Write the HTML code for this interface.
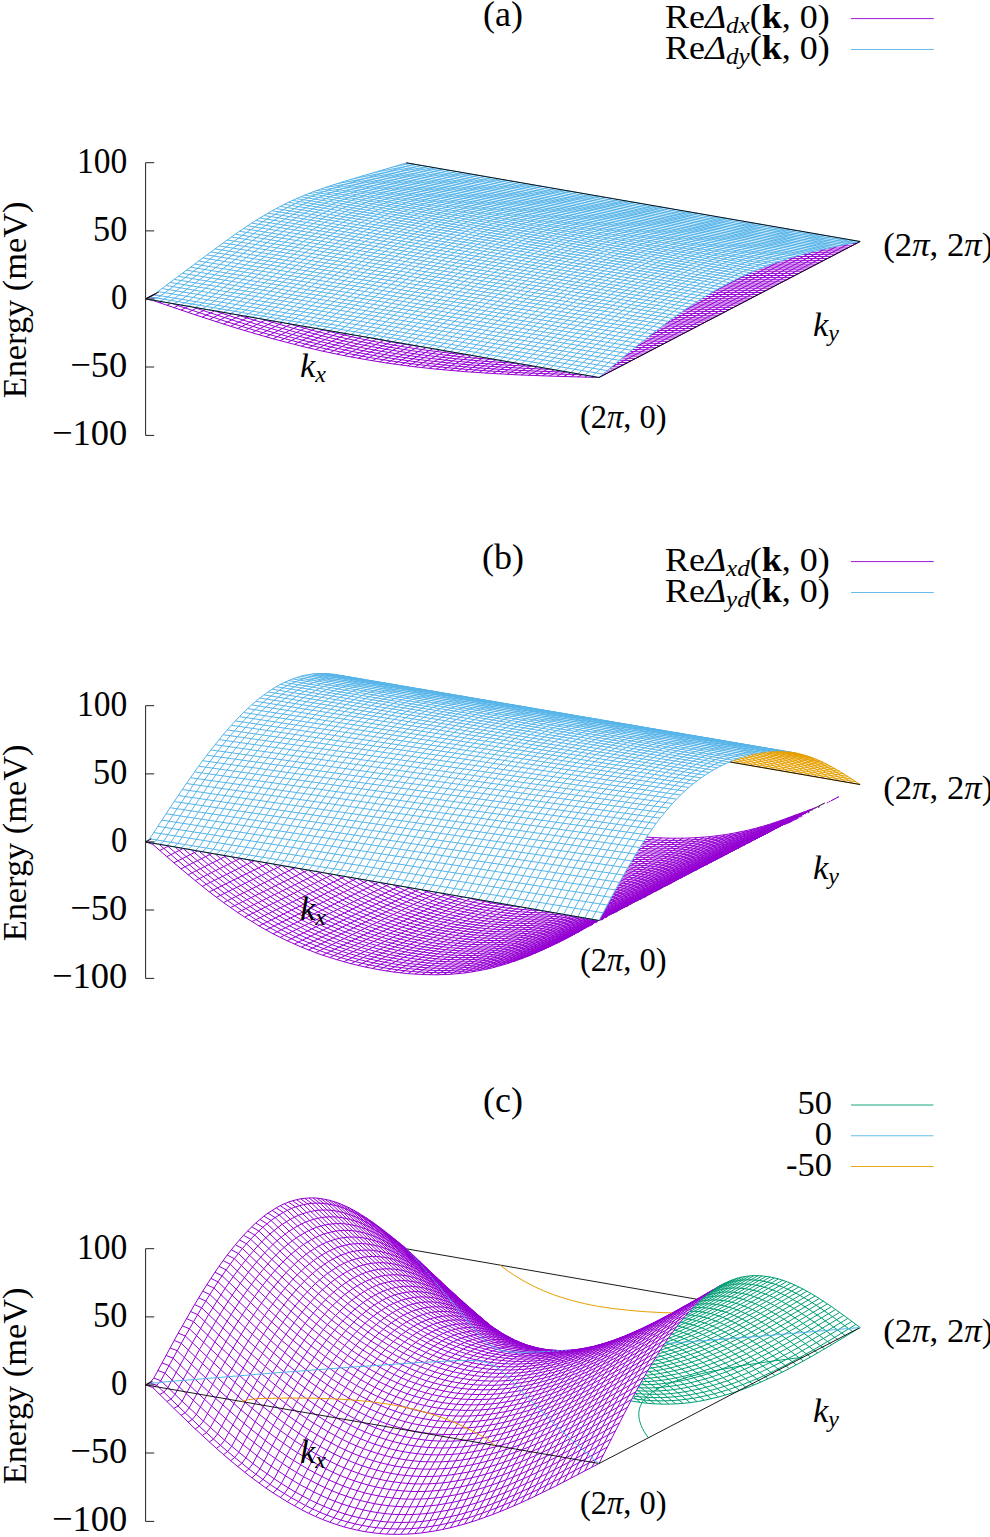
<!DOCTYPE html>
<html><head><meta charset="utf-8"><style>
html,body{margin:0;padding:0;background:#fff;}
svg{display:block;font-family:"Liberation Serif",serif;}
</style></head><body>
<svg width="990" height="1537" viewBox="0 0 990 1537">
<rect width="990" height="1537" fill="#fff"/>
<path fill="none" stroke="#9400d3" stroke-width="1.0" d="M145.6 298.9l7.1 1.5 42.5 14.4 35.4 11.5 21.3 6.4 21.2 6.1 28.4 7.4 21.2 5 21.3 4.4 21.2 3.9 21.3 3.5 28.3 3.8 21.3 2.3 28.3 2.5 28.3 1.9 28.4 1.5 35.4 1.3 42.5 1.2M149.7 296.8l5.6 1.2M156.2 298.2l.3 0M172.1 303.5l.2 .1M172.9 303.8l26.4 8.9 28.3 9.3 28.3 8.7 21.3 6 28.3 7.4 21.3 5 21.2 4.4 21.3 4 21.2 3.4 21.3 2.9 21.3 2.5 28.3 2.7 28.3 2 28.4 1.6 28.3 1.1 36.9 1.1M601.9 375.3l1.2 .1M153.8 294.6l2.5 .6M156.9 295.3l.5 .2M158.3 295.6l.3 .1M193.4 307.3l31.2 10.3 21.3 6.7 21.2 6.4 21.3 5.9 21.2 5.4 21.3 5 21.2 4.5 21.3 3.9 21.2 3.4 21.3 3 21.2 2.5 21.3 2 21.2 1.7 28.4 1.8 28.3 1.3 31 1.1M604.5 373.2l2.7 0M215.1 311.1l20.7 6.7 21.2 6.6 21.3 6.2 21.2 5.8 21.3 5.3 21.2 4.8 14.2 2.9 21.3 4 14.1 2.3 21.3 3.1 21.2 2.6 21.3 2.2 21.2 1.8 21.3 1.5 28.3 1.5 25.4 1M606.8 371l4.4 .1M237 314.8l.3 .1M237.9 315.1l16.1 5 21.3 6.4 21.2 5.9 14.2 3.7 21.2 5.2 14.2 3.1 14.2 3 21.2 3.9 14.2 2.3 21.3 3.1 14.1 1.8 21.3 2.4 21.2 1.9 21.3 1.6 40.7 2.2M609.7 368.9l5.6 .1M261.5 319.1l32 9.3 28.4 7.4 21.2 5 14.2 3.1 28.3 5.3 28.4 4.5 14.1 1.9 21.3 2.5 14.1 1.4 21.3 1.8 32.2 2.1M612 366.7l7.4 .2M288.5 323.8l23.3 6.4 28.3 7 28.3 6 21.3 4 21.2 3.4 28.4 3.8 28.3 3.1 27.8 2.2M496 359.8l.8 0M614.6 364.5l8.9 .3M320.4 329.3l.5 .1M321.5 329.6l15.6 3.8 21.3 4.8 14.1 3 21.3 3.9 14.1 2.4 21.3 3.1 21.2 2.6 18.9 2M470.2 355.3l.6 0M617.2 362.4l10.4 .2M371.2 338l.3 .1M372.3 338.3l.6 .1M373.8 338.5l.2 .1M374.9 338.8l.8 .1M376.3 339.1l21.6 4 22.4 3.6M420.9 346.8l.9 .1M422.6 347l.6 .1M424.4 347.3l.3 0M425.9 347.5l.3 .1M619.8 360.2l11.8 .3M622.4 358.1l13.3 .3M625 355.9l14.8 .3M627.3 353.8l16.6 .3M630.2 351.6l17.8 .4M632.8 349.5l19.2 .4M635.5 347.4l20.6 .4M638.1 345.2l22.1 .4M640.7 343.1l23.6 .4M643.3 340.9l25.1 .5M645.9 338.8l26.5 .4M648.8 336.7l27.7 .4M651.4 334.6l29.2 .4M654.3 332.4l30.4 .5M656.9 330.3l31.9 .5M659.8 328.2l33 .4M662.4 326l34.5 .5M665.3 323.9l35.7 .5M668.2 321.8l36.9 .4M671.1 319.7l38.1 .4M674 317.6l39.2 .4M676.9 315.4l40.4 .5M679.8 313.3l41.6 .5M683.3 311.2l42.2 .4M685.9 309.1l43.7 .4M689.1 307l44.5 .4M692.3 304.9l45.4 .3M695.4 302.8l46.4 .3M698.9 300.7l47 .3M701.8 298.6l48.1 .3M705.6 296.5l48.4 .3M708.8 294.4l49.3 .2M712.3 292.3l49.9 .2M716.1 290.2l50.2 .2M719.6 288.1l50.7 .1M723.7 286l50.7 .1M727.4 283.9l51.1 .1M731.2 281.8l51.4 .1M735.6 279.7l51.1 .1M739.7 277.6l51 0M744.3 275.5l50.5 0M749 273.4l49.9 0M753.4 271.3l49.6-.1M758.9 269.2l48.2-.1M763.9 267.1l47.2-.1M768.9 265l46.3-.1M775 262.9l44.3-.1M781.2 260.8l42.2-.2M787.9 258.7l39.6-.2M794.6 256.6l36.9-.2M801.7 254.5l33.9-.3M810.2 252.4l29.5-.3M819.3 250.2l24.5-.2M828.1 248.1l19.8-.2M838.7 245.9l13.2-.1M849.5 243.7l6.5-.1M406.7 162.9l.8 .3M859.8 241.5l.3 0M145.6 298.9l9.4-4.9M406.2 163.2l.5-.3M152.7 300.4l.5-.3M153.7 299.9l.3-.2M159.8 302.8l2-1M166.9 305.3l3.8-2M173.9 307.7l5.6-2.9M181 310.1l7.4-3.8M188.1 312.5l8.7-4.5M195.2 314.8l10.4-5.3M202.3 317.2l12-6.2M209.4 319.5l13.5-6.9M216.4 321.8l15.1-7.7M223.5 324.1l16.6-8.5M230.6 326.3l18.4-9.4M237.7 328.5l19.6-10.1M244.8 330.6l21.1-10.8M251.9 332.7l22.4-11.4M259 334.8l23.4-12M266 336.8l24.5-12.4M273.1 338.8l26-13.2M280.2 340.7l26.8-13.6M287.3 342.6l27.8-14.1M294.4 344.4l28.8-14.6M301.5 346.2l29.3-14.9M308.5 347.9l30.4-15.4M315.6 349.6l31.1-15.8M322.7 351.2l31.4-15.9M329.8 352.7l31.9-16.1M336.9 354.2l32.4-16.4M344 355.6l32.6-16.5M351 357l32.9-16.6M358.1 358.3l33.2-16.7M365.2 359.5l33.2-16.7M372.3 360.7l33.1-16.7M379.4 361.9l32.9-16.6M386.5 363l32.6-16.5M393.6 364l32.6-16.4M400.6 365l32.2-16.2M407.7 365.9l31.4-15.8M414.8 366.8l31.1-15.7M421.9 367.6l30.3-15.3M429 368.4l29.8-15M436.1 369.1l29-14.6M443.1 369.8l28.3-14.3M450.2 370.4l27.6-13.8M457.3 371l26.5-13.3M464.4 371.6l25.2-12.7M471.5 372.1l24.5-12.3M478.6 372.6l23.4-11.8M485.6 373.1l22.2-11.2M492.7 373.5l21.2-10.7M499.8 373.9l19.9-10.1M506.9 374.3l18.6-9.5M514 374.6l17.3-8.8M521.1 375l16-8.2M528.2 375.3l14.5-7.5M535.2 375.5l13.3-6.7M542.3 375.8l11.8-6M549.4 376l10.2-5.2M710 293.6l41.9-21.5M556.5 376.3l8.7-4.5M683.2 311.1l96.7-49.7M563.6 376.5l7.1-3.7M664.3 324.6l133.4-68.8M570.7 376.7l5.6-2.9M649.5 336l162.9-84.1M577.7 376.9l4.1-2.1M636.4 346.6l188.9-97.8M584.8 377.1l2.8-1.4M623.6 357l213.9-111M591.9 377.3l1.5-.8M611.5 367.1l237.2-123.3M599 377.5l261.1-136"/>
<path fill="none" stroke="#56b4e9" stroke-width="1.0" d="M145.6 298.9l453.4 78.6M149.7 296.8l453.4 77.3M153.8 294.6l453.4 76M157.8 291.5l453.4 75.7M161.9 288.5l453.4 75.2M166 285.5l453.4 74.8M170.1 282.4l453.4 74.5M174.2 279.4l453.4 74.1M178.2 276.3l453.4 73.9M182.3 273.3l453.4 73.6M186.4 270.2l453.4 73.3M190.5 267.2l453.4 73.1M194.6 264.1l453.4 72.9M198.6 261l453.4 72.8M202.7 258l453.4 72.7M206.8 254.9l453.4 72.6M210.9 251.9l453.4 72.5M215 248.9l453.4 72.5M219 245.9l453.4 72.5M223.1 242.9l453.4 72.6M227.2 240l453.4 72.6M231.3 237l453.4 72.8M235.4 234.2l453.4 72.8M239.4 231.3l453.4 73M243.5 228.6l453.4 73M247.6 225.8l453.4 73.2M251.7 223.1l453.4 73.4M255.8 220.5l453.4 73.5M259.8 218l453.4 73.6M263.9 215.5l453.4 73.7M268 213.1l453.4 73.8M272.1 210.8l453.4 73.9M276.2 208.6l453.4 74M280.2 206.4l453.4 74.1M284.3 204.3l453.4 74.1M288.4 202.3l453.4 74.2M292.5 200.4l453.4 74.2M296.5 198.6l453.4 74.1M300.6 196.8l453.4 74.2M304.7 195.1l453.4 74.2M308.8 193.4l453.4 74.2M312.9 191.9l453.4 74.1M316.9 190.4l453.4 74.1M321 188.9l453.4 74.1M325.1 187.5l453.4 74.1M329.2 186.1l453.4 74.1M333.3 184.8l453.4 74.1M337.3 183.5l453.4 74.2M341.4 182.2l453.4 74.2M345.5 181l453.4 74.3M349.6 179.7l453.4 74.5M353.7 178.5l453.4 74.6M357.7 177.3l453.4 74.7M361.8 176.1l453.4 74.9M365.9 174.9l453.4 75.1M370 173.7l453.4 75.4M374.1 172.5l453.4 75.7M378.1 171.3l453.4 76M382.2 170.2l453.4 76.2M386.3 169l453.4 76.6M390.4 167.7l453.4 77M394.5 166.5l453.4 77.4M398.5 165.3l453.4 77.8M402.6 164.1l453.4 78.2M406.7 162.9l453.4 78.6M145.6 298.9l8.2-4.3 61.2-45.7 12.2-8.9 12.2-8.7 12.3-8.2 8.1-5.1 12.3-7.2 8.1-4.4 8.2-4.1 12.2-5.5 12.3-4.9 12.2-4.4 20.4-6.5 61.2-18.1M152.7 300.1l8.1-4.3 61.2-45.8 12.3-8.9 12.2-8.6 12.3-8.2 8.1-5.2 12.3-7.1 8.1-4.4 8.2-4.1 12.2-5.6 12.3-4.9 12.2-4.4 12.2-4 12.3-3.7 57.1-16.8M159.8 301.4l8.1-4.4 61.2-45.8 12.3-9 12.2-8.6 12.2-8.2 8.2-5.1 12.2-7.2 8.2-4.4 8.2-4.1 12.2-5.5 12.2-4.9 12.3-4.4 12.2-4 12.3-3.7 57.1-16.7M166.9 302.6l8.1-4.5 61.2-45.8 12.2-8.9 12.3-8.6 12.2-8.2 8.2-5.2 12.2-7.1 8.2-4.4 8.1-4.1 12.3-5.5 12.2-5 12.3-4.3 12.2-4 12.2-3.8 57.2-16.6M173.9 303.8l8.2-4.5 61.2-45.9 12.2-8.9 12.3-8.6 12.2-8.2 8.2-5.1 12.2-7.2 8.2-4.4 8.1-4 12.3-5.6 12.2-4.9 12.2-4.4 12.3-4 12.2-3.7 57.1-16.6M181 305l8.2-4.5 57.1-42.9 16.3-12 12.3-8.6 12.2-8.1 8.2-5.2 12.2-7.1 8.2-4.4 8.1-4.1 12.2-5.5 12.3-4.9 12.2-4.4 12.3-4 12.2-3.7 57.1-16.6M188.1 306.3l8.2-4.6 57.1-43 16.3-11.9 12.2-8.6 12.3-8.2 8.1-5.1 12.3-7.2 8.1-4.3 8.2-4.1 12.2-5.6 12.3-4.9 12.2-4.4 12.3-4 12.2-3.7 57.1-16.4M195.2 307.5l8.2-4.6 57.1-43.1 16.3-11.9 12.2-8.6 12.3-8.1 8.1-5.2 12.3-7.1 8.1-4.4 8.2-4.1 12.2-5.5 12.3-4.9 12.2-4.4 12.2-4 12.3-3.7 57.1-16.4M202.3 308.7l8.1-4.6 57.1-43.1 24.5-17.7 12.3-8.3 12.2-7.8 12.2-7.1 8.2-4.4 8.2-4.1 12.2-5.5 12.2-5 12.3-4.4 12.2-3.9 12.3-3.8 57.1-16.3M209.4 310l8.1-4.7 53.1-40.1 16.3-12.1 12.2-8.7 12.3-8.3 12.2-7.8 12.2-7.1 8.2-4.4 8.1-4 12.3-5.6 12.2-4.9 12.3-4.4 12.2-4 12.2-3.7 57.2-16.2M216.4 311.2l8.2-4.7 53-40.2 16.4-12 12.2-8.8 12.2-8.2 12.3-7.8 12.2-7.1 8.2-4.4 8.1-4.1 12.3-5.5 12.2-4.9 12.3-4.4 12.2-4 12.2-3.7 57.1-16.2M223.5 312.4l8.2-4.8 53-40.2 16.3-12 12.3-8.7 12.2-8.3 12.3-7.8 12.2-7.1 8.2-4.4 8.1-4 12.3-5.6 12.2-4.9 12.2-4.4 12.3-4 16.3-4.9 53-14.9M230.6 313.6l8.2-4.8 53-40.2 16.3-12.1 12.3-8.7 12.2-8.3 12.2-7.7 12.3-7.1 8.1-4.4 8.2-4.1 12.2-5.5 12.3-4.9 12.2-4.4 12.3-4 16.3-4.9 53-14.9M237.7 314.9l8.2-4.9 53-40.3 16.3-12 12.2-8.7 12.3-8.3 12.2-7.8 12.3-7.1 8.1-4.3 8.2-4.1 12.2-5.6 12.3-4.9 12.2-4.4 12.2-4 16.4-4.8 53-14.8M244.8 316.1l8.1-4.9 53.1-40.4 16.3-12 12.2-8.7 12.3-8.3 12.2-7.7 12.3-7.1 8.1-4.4 8.2-4.1 12.2-5.5 12.2-4.9 12.3-4.4 12.2-4 16.3-4.9 53.1-14.7M251.9 317.3l8.1-4.9 53.1-40.4 16.3-12.1 12.2-8.7 12.3-8.2 12.2-7.8 12.2-7.1 8.2-4.3 8.2-4.1 12.2-5.5 12.2-5 12.3-4.4 12.2-3.9 16.3-4.9 53.1-14.7M259 318.5l8.1-4.9 53-40.5 16.4-12 12.2-8.7 12.2-8.3 12.3-7.7 12.2-7.1 8.2-4.4 12.2-6 12.3-5.3 12.2-4.7 12.2-4.3 12.3-3.8 16.3-4.8 48.9-13.5M266 319.8l8.2-5 53-40.6 16.3-12 12.3-8.7 12.2-8.2 12.3-7.8 12.2-7.1 8.2-4.3 12.2-6 12.2-5.3 12.3-4.8 12.2-4.2 12.3-3.9 16.3-4.7 48.9-13.4M273.1 321l8.2-5 53-40.6 16.3-12.1 12.3-8.7 12.2-8.2 12.3-7.7 12.2-7.1 8.1-4.4 12.3-5.9 12.2-5.4 12.3-4.7 12.2-4.2 12.2-3.9 16.4-4.8 48.9-13.3M280.2 322.2l8.2-5.1 53-40.6 16.3-12 12.3-8.7 12.2-8.3 12.2-7.7 12.3-7 8.1-4.4 12.3-6 12.2-5.3 12.3-4.7 12.2-4.3 12.2-3.8 16.3-4.8 49-13.3M287.3 323.5l8.1-5.2 32.7-25.2 20.4-15.5 16.3-12 12.2-8.7 12.3-8.2 12.2-7.7 12.3-7.1 8.1-4.3 12.3-6 12.2-5.3 12.2-4.8 12.3-4.2 12.2-3.9 16.3-4.7 49-13.2M294.4 324.7l8.1-5.2 49-37.7 16.3-12.1 12.2-8.8 12.3-8.4 12.2-7.9 12.3-7.2 12.2-6.7 12.2-6 12.3-5.3 12.2-4.7 12.3-4.3 12.2-3.8 16.3-4.8 49-13.1M301.5 325.9l8.1-5.2 49-37.7 16.3-12.2 12.2-8.8 12.3-8.3 12.2-7.9 12.2-7.3 12.3-6.6 12.2-6 12.3-5.3 12.2-4.8 12.2-4.2 12.3-3.9 16.3-4.7 49-13.1M308.5 327.1l8.2-5.2 49-37.8 16.3-12.1 12.2-8.8 12.3-8.4 12.2-7.9 12.2-7.2 12.3-6.7 12.2-5.9 12.2-5.4 12.3-4.7 12.2-4.3 12.3-3.8 16.3-4.7 48.9-13.1M315.6 328.4l8.2-5.3 48.9-37.9 16.4-12.1 12.2-8.8 12.2-8.4 12.3-7.8 12.2-7.3 12.3-6.6 12.2-6 12.2-5.3 12.3-4.7 12.2-4.3 12.2-3.8 16.4-4.8 48.9-12.9M322.7 329.6l8.2-5.3 28.5-22.3 20.4-15.6 16.3-12.2 12.3-8.7 12.2-8.4 12.3-7.9 12.2-7.2 12.2-6.7 12.3-5.9 12.2-5.3 12.3-4.8 12.2-4.2 12.2-3.9 16.4-4.7 48.9-12.9M329.8 330.8l8.2-5.3 28.5-22.3 20.4-15.7 16.3-12.1 12.3-8.8 12.2-8.4 12.2-7.8 12.3-7.3 12.2-6.6 12.3-6 12.2-5.3 12.2-4.7 12.3-4.3 12.2-3.8 16.3-4.7 49-12.9M336.9 332.1l8.1-5.4 44.9-34.9 16.3-12.3 16.4-11.8 12.2-8.3 12.2-7.9 12.3-7.2 12.2-6.6 12.2-6 12.3-5.3 12.2-4.8 12.3-4.2 12.2-3.9 16.3-4.7 49-12.7M344 333.3l8.1-5.5 44.9-34.9 16.3-12.3 16.3-11.7 12.3-8.4 12.2-7.8 12.3-7.3 12.2-6.6 12.2-5.9 12.3-5.4 12.2-4.7 12.2-4.3 12.3-3.8 16.3-4.7 20.4-5.4 28.6-7.3M351 334.5l8.2-5.5 44.9-35 16.3-12.2 16.3-11.8 12.3-8.3 12.2-7.9 12.2-7.2 12.3-6.6 12.2-6 12.3-5.3 12.2-4.8 12.2-4.2 12.3-3.8 16.3-4.7 20.4-5.4 28.5-7.3M358.1 335.7l8.2-5.5 44.9-35 16.3-12.3 16.3-11.8 12.2-8.3 12.3-7.8 12.2-7.3 12.3-6.6 12.2-5.9 12.2-5.4 12.3-4.7 12.2-4.2 12.3-3.9 16.3-4.7 20.4-5.3 28.5-7.3M365.2 337l8.2-5.6 32.6-25.7 20.4-15.6 12.2-9.1 12.3-8.7 12.2-8.4 12.3-7.8 12.2-7.2 12.2-6.6 12.3-6 12.2-5.3 12.3-4.7 12.2-4.3 12.2-3.8 16.4-4.7 20.4-5.4 28.5-7.1M372.3 338.2l8.2-5.6 28.5-22.5 24.5-18.9 12.2-9 12.3-8.8 12.2-8.3 12.3-7.8 12.2-7.3 12.2-6.6 12.3-5.9 12.2-5.3 12.2-4.8 12.3-4.2 12.2-3.9 16.3-4.6 20.4-5.4 28.6-7.1M379.4 339.4l8.1-5.6 28.6-22.6 20.4-15.7 12.2-9.2 12.3-8.9 16.3-11.2 12.2-7.8 12.3-7.2 12.2-6.6 12.3-6 12.2-5.3 12.2-4.7 12.3-4.3 12.2-3.8 16.3-4.7 20.4-5.3 28.6-7.1M386.5 340.7l8.1-5.7 28.6-22.6 20.4-15.8 12.2-9.2 12.3-8.8 12.2-8.5 12.2-8 12.3-7.4 12.2-6.8 12.3-6.2 12.2-5.5 12.2-4.9 16.4-5.8 16.3-5.1 16.3-4.5 44.9-11.2M393.6 341.9l8.1-5.7 28.6-22.7 20.4-15.8 12.2-9.1 12.2-8.9 12.3-8.5 12.2-8 12.3-7.4 12.2-6.8 12.2-6.1 12.3-5.5 12.2-5 16.3-5.8 16.4-5 16.3-4.5 16.3-4.2 28.6-7M400.6 343.1l8.2-5.8 28.6-22.6 20.4-15.8 12.2-9.2 12.2-8.9 12.3-8.4 12.2-8 12.2-7.4 12.3-6.8 12.2-6.2 12.3-5.5 12.2-4.9 16.3-5.8 16.3-5 16.4-4.5 20.4-5.2 24.4-6M407.7 344.3l8.2-5.8 24.5-19.5 20.4-15.9 16.3-12.3 12.2-8.8 12.3-8.5 12.2-8 12.2-7.4 12.3-6.8 12.2-6.1 12.3-5.5 12.2-5 16.3-5.7 16.3-5.1 16.3-4.5 20.4-5.2 24.5-5.9M414.8 345.6l8.2-5.9 24.4-19.5 20.4-15.9 16.4-12.3 12.2-8.9 12.2-8.5 12.3-7.9 12.2-7.4 12.3-6.8 12.2-6.1 12.2-5.6 12.3-4.9 16.3-5.8 16.3-5 16.3-4.5 20.4-5.2 24.5-5.8M421.9 346.8l8.1-5.9 24.5-19.6 20.4-15.9 16.3-12.3 12.3-8.9 12.2-8.4 12.3-8 12.2-7.4 12.2-6.7 12.3-6.2 12.2-5.5 12.3-4.9 16.3-5.8 16.3-5 16.3-4.5 20.4-5.2 24.5-5.8M429 348l8.1-5.9 24.5-19.6 20.4-16 12.2-9.3 12.3-8.9 16.3-11.4 12.2-7.9 12.3-7.4 12.2-6.8 12.3-6.1 12.2-5.6 12.2-4.9 16.4-5.8 16.3-5 16.3-4.5 20.4-5.1 24.5-5.8M436.1 349.3l8.1-6 24.5-19.7 20.4-15.9 12.2-9.3 12.3-9 16.3-11.3 12.2-8 12.3-7.4 12.2-6.7 12.2-6.2 12.3-5.5 12.2-4.9 16.3-5.8 16.4-5 16.3-4.5 20.4-5.1 24.5-5.7M443.1 350.5l8.2-6 24.5-19.7 16.3-12.8 16.3-12.5 12.3-9 16.3-11.3 12.2-7.9 12.3-7.4 12.2-6.8 12.2-6.1 12.3-5.5 12.2-5 16.3-5.7 16.3-5.1 16.4-4.4 20.4-5.1 24.4-5.7M450.2 351.7l8.2-6 24.5-19.7 16.3-12.9 16.3-12.5 12.2-8.9 16.4-11.4 12.2-7.9 12.2-7.4 12.3-6.7 12.2-6.2 12.3-5.5 12.2-4.9 16.3-5.8 16.3-5 16.4-4.5 20.3-5 24.5-5.7M457.3 352.9l8.2-6.1 24.5-19.7 16.3-12.9 16.3-12.4 12.2-9 16.3-11.3 12.3-7.9 12.2-7.4 12.3-6.8 12.2-6.1 12.2-5.5 12.3-5 16.3-5.7 16.3-5 16.3-4.5 20.4-5 24.5-5.7M464.4 354.2l8.2-6.2 24.4-19.7 16.4-12.9 16.3-12.5 12.2-9 16.3-11.3 12.3-7.9 12.2-7.4 12.2-6.7 12.3-6.1 12.2-5.6 12.3-4.9 16.3-5.8 16.3-5 16.3-4.4 20.4-5 24.5-5.6M471.5 355.4l8.1-6.2 24.5-19.8 16.3-12.9 16.4-12.5 12.2-8.9 16.3-11.3 12.3-8 12.2-7.3 12.2-6.8 12.3-6.1 12.2-5.5 12.2-4.9 16.4-5.8 16.3-5 16.3-4.4 20.4-5 24.5-5.6M478.6 356.6l8.1-6.2 24.5-19.8 16.3-12.9 16.3-12.5 12.3-9 16.3-11.3 12.2-7.9 12.3-7.4 12.2-6.7 12.3-6.1 12.2-5.5 12.2-5 16.4-5.8 16.3-5 16.3-4.4 20.4-4.9 24.5-5.6M485.6 357.8l8.2-6.2 24.5-19.9 16.3-12.9 16.3-12.5 12.3-9 16.3-11.3 12.2-7.9 12.3-7.3 12.2-6.7 12.2-6.2 12.3-5.5 12.2-4.9 16.3-5.8 16.4-5 16.3-4.4 20.4-4.9 24.5-5.6M492.7 359.1l8.2-6.3 24.5-19.9 16.3-13 16.3-12.5 12.2-8.9 16.4-11.3 12.2-7.9 12.2-7.3 12.3-6.8 12.2-6.1 12.3-5.5 12.2-5 16.3-5.7 16.3-5 16.4-4.4 20.4-4.9 24.4-5.5M499.8 360.3l8.2-6.3 24.5-20 16.3-12.9 16.3-12.5 12.2-9 16.4-11.3 12.2-7.9 12.2-7.3 12.3-6.7 12.2-6.1 16.3-7.3 12.3-4.7 16.3-5.6 16.3-4.8 16.3-4.3 16.3-3.9 24.5-5.4M506.9 361.5l8.2-6.3 24.4-20 16.4-13 16.3-12.5 12.2-9 16.3-11.2 12.3-7.9 12.2-7.3 12.3-6.8 12.2-6.1 16.3-7.2 12.2-4.8 16.4-5.5 16.3-4.9 16.3-4.2 16.3-3.9 24.5-5.4M514 362.8l8.1-6.4 24.5-20.1 16.3-12.9 16.4-12.6 12.2-8.9 16.3-11.3 12.3-7.9 12.2-7.3 12.2-6.7 12.3-6.1 16.3-7.3 12.2-4.7 16.4-5.6 16.3-4.8 16.3-4.2 16.3-3.9 24.5-5.3M521.1 364l8.1-6.5 24.5-20 16.3-13 16.3-12.5 12.3-9 16.3-11.3 12.2-7.8 12.3-7.3 12.2-6.8 12.3-6.1 16.3-7.2 12.2-4.8 16.3-5.5 16.4-4.8 16.3-4.3 16.3-3.8 24.5-5.3M528.2 365.2l44.8-36.4 16.4-12.6 16.3-12.1 16.3-11.2 12.2-7.9 12.3-7.3 12.2-6.7 12.2-6.1 16.4-7.2 12.2-4.8 16.3-5.6 16.3-4.8 16.4-4.2 16.3-3.8 24.5-5.3M535.2 366.4l44.9-36.4 16.3-12.7 12.3-9.1 16.3-11.5 12.2-8 16.4-9.8 12.2-6.7 12.2-6.2 16.3-7.2 12.3-4.7 16.3-5.6 16.3-4.8 16.3-4.2 16.4-3.8 24.4-5.3M542.3 367.7l44.9-36.6 16.3-12.6 12.3-9.1 16.3-11.5 12.2-8 16.3-9.9 12.3-6.7 12.2-6.1 16.3-7.2 12.3-4.8 16.3-5.5 16.3-4.8 16.3-4.2 16.3-3.8 24.5-5.2M549.4 368.9l28.6-23.5 16.3-13.1 16.3-12.7 12.2-9.1 16.4-11.5 12.2-8 16.3-9.8 12.3-6.7 12.2-6.1 16.3-7.3 12.3-4.7 16.3-5.6 16.3-4.8 16.3-4.2 16.3-3.7 24.5-5.2M556.5 370.1l28.6-23.5 16.3-13.2 16.3-12.7 12.2-9.1 16.3-11.4 12.3-8.1 16.3-9.8 12.2-6.7 12.3-6.1 16.3-7.2 12.2-4.8 16.4-5.5 16.3-4.8 16.3-4.2 16.3-3.7 24.5-5.2M563.6 371.4l28.5-23.6 16.4-13.2 16.3-12.7 12.2-9.1 16.3-11.5 12.3-8 16.3-9.8 12.2-6.7 12.3-6.1 16.3-7.2 12.2-4.8 16.3-5.6 16.4-4.8 16.3-4.1 16.3-3.7 24.5-5.1M570.7 372.6l28.5-23.7 16.3-13.2 16.4-12.7 12.2-9.1 16.3-11.5 12.3-8 16.3-9.8 12.2-6.7 12.3-6.1 16.3-7.2 12.2-4.7 16.3-5.6 16.3-4.8 16.4-4.1 16.3-3.7 24.5-5.1M577.7 373.8l24.5-20.4 16.3-13.3 16.4-12.8 16.3-12.3 16.3-11.4 12.2-8 16.4-9.8 12.2-6.7 12.2-6.1 16.4-7.2 12.2-4.8 16.3-5.6 16.3-4.7 16.3-4.2 16.4-3.6 24.4-5.1M584.8 375l24.5-20.4 16.3-13.3 16.3-12.9 16.4-12.2 16.3-11.5 12.2-8 16.3-9.8 12.3-6.7 12.2-6 16.3-7.3 12.3-4.7 16.3-5.6 16.3-4.8 16.3-4.1 16.4-3.7 24.4-5M591.9 376.3l24.5-20.5 16.3-13.4 16.3-12.9 16.4-12.2 16.3-11.4 12.2-8 16.3-9.8 12.3-6.7 12.2-6.1 16.3-7.2 12.3-4.8 16.3-5.5 16.3-4.8 16.3-4.1 16.3-3.7 24.5-4.9M599 377.5l24.5-20.6 16.3-13.4 16.3-12.8 16.3-12.3 16.4-11.4 12.2-8 16.3-9.8 12.3-6.6 12.2-6.1 16.3-7.2 12.2-4.8 16.4-5.6 16.3-4.7 16.3-4.2 16.3-3.6 24.5-4.9"/>
<path fill="none" stroke="#000000" stroke-width="0.9" d="M145.6 298.9l453.4 78.6M599 377.5l261.1-136M406.7 162.9l453.4 78.6M145.6 298.9l9.4-4.9M406.2 163.2l.5-.3"/>
<path d="M145.6 298.9l13.1 -6.8" stroke="#000" stroke-width="0.9"/><path d="M145.6 162.7V435.4M145.6 162.7h8.6M145.6 230.9h8.6M145.6 298.9h8.6M145.6 367.0h8.6M145.6 435.4h8.6" stroke="#222" stroke-width="1" fill="none"/>
<text x="127.3" y="172.7" font-size="36.5" text-anchor="end" textLength="50.3" lengthAdjust="spacingAndGlyphs">100</text>
<text x="127.3" y="240.9" font-size="36.5" text-anchor="end" textLength="34.2" lengthAdjust="spacingAndGlyphs">50</text>
<text x="127.3" y="308.9" font-size="36.5" text-anchor="end" textLength="16.3" lengthAdjust="spacingAndGlyphs">0</text>
<text x="127.3" y="377.0" font-size="36.5" text-anchor="end" >&#8722;50</text>
<text x="127.3" y="445.4" font-size="36.5" text-anchor="end" >&#8722;100</text>
<text transform="translate(25.8 299.9) rotate(-90)" font-size="34.5" text-anchor="middle" textLength="196.8" lengthAdjust="spacingAndGlyphs">Energy (meV)</text>
<text x="503" y="25.5" font-size="36" text-anchor="middle">(a)</text>
<text x="300" y="377.2" font-size="34.5"><tspan font-style="italic">k</tspan><tspan font-style="italic" font-size="24" dy="4.7">x</tspan></text>
<text x="813" y="335.8" font-size="34.5"><tspan font-style="italic">k</tspan><tspan font-style="italic" font-size="24" dy="4.7">y</tspan></text>
<text x="580" y="427.5" font-size="34.5" textLength="86.7" lengthAdjust="spacingAndGlyphs">(2<tspan font-style="italic">&#960;</tspan>, 0)</text>
<text x="883.3" y="256.4" font-size="34.5" textLength="110" lengthAdjust="spacingAndGlyphs">(2<tspan font-style="italic">&#960;</tspan>, 2<tspan font-style="italic">&#960;</tspan>)</text>
<text x="665" y="27.8" font-size="34.5" textLength="164.7" lengthAdjust="spacingAndGlyphs">Re<tspan font-style="italic">&#916;</tspan><tspan font-style="italic" font-size="24" dy="5">dx</tspan><tspan dy="-5">(</tspan><tspan font-weight="bold">k</tspan>, 0)</text>
<path d="M851 18.6H933.8" stroke="#9400d3" stroke-width="0.9"/>
<text x="665" y="58.6" font-size="34.5" textLength="164.7" lengthAdjust="spacingAndGlyphs">Re<tspan font-style="italic">&#916;</tspan><tspan font-style="italic" font-size="24" dy="5">dy</tspan><tspan dy="-5">(</tspan><tspan font-weight="bold">k</tspan>, 0)</text>
<path d="M851 49.5H933.8" stroke="#56b4e9" stroke-width="0.9"/><path fill="none" stroke="#000000" stroke-width="0.9" d="M599 920.5l225.9-117.6"/>
<path fill="none" stroke="#9400d3" stroke-width="1.0" d="M145.6 841.9l7.1 2.4 21.2 18.5 21.3 17.8 14.2 11.3 14.1 10.7 14.2 9.9 7.1 4.6 14.2 8.8 7 4 7.1 3.9 14.2 7 14.2 6.3 14.1 5.6 7.1 2.5 14.2 4.5 14.1 4 14.2 3.3 14.2 2.8 14.2 2.2 14.1 1.6 14.2 .9 14.2 .3 14.1-.5 14.2-1.3 7.1-1 14.1-2.6 7.1-1.6 14.2-4 14.2-4.9 7.1-2.7 14.1-6.1 14.2-6.7 13.9-7.2M159.2 844.4l18.8 16.3 14.2 12.1 21.2 17.1 14.2 10.7 14.2 9.9 14.1 9.1 7.1 4.3 7.1 4 14.2 7.5 14.2 6.7 14.1 5.9 14.2 5.2 14.2 4.5 14.1 3.9 14.2 3.3 14.2 2.8 14.1 2.2 14.2 1.6 14.2 .9 14.1 .3 14.2-.5 14.2-1.3 7.1-1 14.1-2.6 7.1-1.7 14.2-4 14.2-4.8 7-2.8 14.2-6 14.2-6.8 13.9-7.2M167.3 845.8l29 24.9 14.1 11.6 14.2 11 14.2 10.3 7.1 4.9 14.1 9.2 7.1 4.2 7.1 4.1 14.2 7.4 14.1 6.7 14.2 5.9 7.1 2.7 14.2 4.8 14.1 4.2 14.2 3.6 14.2 3 14.1 2.5 14.2 1.8 14.2 1.3 14.1 .6 14.2-.1 14.2-.9 7.1-.8 14.1-2.2 14.2-3.1 7.1-1.8 14.1-4.5 7.1-2.5 14.2-5.7 14.2-6.4 10.2-5M568.3 937.2l4.2-2.2M573.6 934.5l2.3-1.2M577.5 932.4l1.1-.5M175.5 847.4l17.8 15.4 14.1 11.8 14.2 11.3 7.1 5.4 14.2 10.4 14.1 9.5 14.2 8.7 7.1 4.1 7.1 3.8 14.1 7.1 14.2 6.2 14.2 5.6 7 2.5 14.2 4.4 14.2 3.9 14.2 3.3 14.1 2.7 14.2 2.2 14.2 1.5 7 .6 14.2 .6 14.2-.2 14.2-.9 7-.8 14.2-2.2 14.2-3 7.1-1.9 14.1-4.4 7.1-2.6 14.2-5.7 14.1-6.4 11.1-5.4M573.7 934.4l2.1-1.1M578.4 931.9l.8-.4M579.8 931.3l.2-.2M582.1 930l.5-.2M183.4 848.7l13.9 12 14.2 11.9 14.2 11.3 14.1 10.7 14.2 10 7.1 4.6 14.2 8.7 7.1 4.1 7 3.8 14.2 7.1 14.2 6.2 14.1 5.5 7.1 2.5 14.2 4.5 14.2 3.9 14.1 3.3 14.2 2.7 14.2 2.1 14.1 1.5 7.1 .6 14.2 .5 14.2-.1 14.1-1 7.1-.7 14.2-2.2 14.2-3.1 7-1.9 14.2-4.4 7.1-2.5 14.2-5.7 14.1-6.4 10.3-5.1M576.5 932.9l.2-.2M578.3 932l.8-.4M583 929.5l.3-.1M191.5 850.1l17 14.6 14.2 11.6 14.1 11.1 7.1 5.2 14.2 10 7.1 4.6 14.1 8.8 7.1 4 7.1 3.8 14.2 7.1 14.2 6.2 14.1 5.5 7.1 2.5 14.2 4.5 14.1 3.8 14.2 3.3 14.2 2.7 14.2 2.1 14.1 1.5 7.1 .5 14.2 .6 14.1-.2 14.2-.9 7.1-.8 14.2-2.2 7-1.4 7.1-1.7 14.2-4 14.2-4.8 14.1-5.7 14.2-6.4 9.2-4.5M589.7 926l.3-.1M199.3 851.4l13.3 11.3 14.2 11.6 14.1 11.1 7.1 5.2 14.2 10 7.1 4.7 14.1 8.7 7.1 4 7.1 3.9 14.2 7 14.1 6.2 14.2 5.5 7.1 2.5 14.2 4.5 14.1 3.8 14.2 3.2 14.2 2.7 14.1 2.1 14.2 1.5 7.1 .5 14.2 .5 14.1-.1 14.2-1 7.1-.8 14.1-2.2 7.1-1.4 7.1-1.7 14.2-3.9 7.1-2.4 14.1-5.2 14.2-6.1 14.7-6.9M592.3 924.7l1-.6M207.4 852.8l16.3 13.8 14.2 11.3 14.2 10.8 7.1 5 14.1 9.6 7.1 4.5 7.1 4.2 14.2 7.9 7.1 3.6 14.1 6.6 7.1 3 14.2 5.5 7.1 2.5 14.1 4.4 14.2 3.8 14.2 3.3 14.1 2.6 14.2 2.1 14.2 1.5 7.1 .5 14.1 .5 14.2-.2 14.2-.9 7.1-.8 14.1-2.2 7.1-1.5 7.1-1.6 14.2-4 7-2.3 14.2-5.3 14.2-6 12.8-6.1M596.9 922.3l.2-.2M215.3 854l12.5 10.6 14.2 11.3 14.2 10.8 7 5 14.2 9.6 7.1 4.5 7.1 4.2 14.2 7.9 7 3.6 14.2 6.6 7.1 3 14.2 5.5 7 2.5 14.2 4.4 14.2 3.8 14.2 3.2 14.1 2.6 14.2 2.1 14.2 1.5 7 .5 14.2 .5 14.2-.2 14.2-1 7-.8 14.2-2.2 7.1-1.4 7.1-1.7 14.1-4 7.1-2.3 14.2-5.3 14.2-6 11.5-5.4M597.3 922l.2-.1M602 919.6l1-.6M223.7 855.7l15.3 12.6 14.2 11.1 14.1 10.4 7.1 4.8 14.2 9.2 7.1 4.2 7.1 4.1 14.1 7.4 7.1 3.4 14.2 6.2 7.1 2.9 14.1 5 7.1 2.3 14.2 4.1 14.1 3.5 14.2 2.9 14.2 2.3 14.2 1.8 14.1 1.1 7.1 .4 14.2 .1 7.1-.2 14.1-1 7.1-.7 14.2-2.3 7.1-1.4 7.1-1.7 14.1-3.9 7.1-2.4 14.2-5.2 14.1-6.1 10-4.6M606.3 917.3l.8-.4M231.9 857.1l11.2 9.2 14.1 11.1 14.2 10.4 7.1 4.9 14.2 9.1 7 4.3 7.1 4 14.2 7.4 7.1 3.4 14.2 6.2 7 2.8 14.2 5.1 7.1 2.3 14.2 4.1 14.1 3.4 14.2 2.9 14.2 2.3 14.1 1.8 14.2 1.1 7.1 .3 14.2 .2 7-.2 14.2-1 7.1-.8 14.2-2.2 7-1.5 7.1-1.6 14.2-4 7.1-2.3 14.2-5.3 14.1-6 8.2-3.8M607.3 916.8l.2-.2M239.8 858.4l14.4 11.6 7.1 5.4 14.2 10.4 7.1 4.9 14.1 9.1 7.1 4.3 7.1 4 14.2 7.4 7.1 3.4 14.1 6.2 7.1 2.8 14.2 5.1 7.1 2.3 14.1 4 14.2 3.5 14.2 2.9 14.1 2.3 14.2 1.7 14.2 1.1 7.1 .3 14.1 .1 7.1-.2 14.2-1 7.1-.8 14.1-2.2 7.1-1.4 7.1-1.7 14.2-4 7.1-2.3 14.1-5.3 7.1-2.9 13.9-6.2M248.3 859.9l17.1 13.5 14.2 10.4 7.1 4.9 14.1 9.2 7.1 4.2 7.1 4 14.2 7.5 7 3.4 14.2 6.1 7.1 2.8 14.2 5.1 7.1 2.3 14.1 4 14.2 3.4 14.2 2.9 14.1 2.3 14.2 1.7 14.2 1.1 7 .3 14.2 .1 7.1-.2 14.2-1 7.1-.8 14.1-2.3 7.1-1.4 7.1-1.7 14.2-4 7-2.3 14.2-5.2 7.1-2.9 12.5-5.6M617.3 911.5l.2-.1M256.7 861.4l12.8 10 7.1 5.3 14.1 10 7.1 4.7 14.2 8.7 7.1 4.1 7.1 3.8 14.1 7 7.1 3.2 14.2 5.7 7.1 2.6 14.1 4.7 7.1 2.1 14.2 3.7 7.1 1.7 14.1 2.8 14.2 2.3 14.2 1.7 14.1 1 7.1 .4 14.2 .1 7.1-.3 14.1-1 7.1-.8 14.2-2.2 7.1-1.5 7.1-1.7 14.1-3.9 7.1-2.4 14.2-5.2 7.1-2.9 10.1-4.5M599.4 920.1l2.5-1.1M621.1 909.5l.2-.1M265.1 862.9l15.5 11.8 14.2 10 7.1 4.7 14.2 8.7 7.1 4.1 7 3.8 14.2 7 7.1 3.2 14.2 5.7 7 2.6 14.2 4.7 7.1 2.1 14.2 3.7 7 1.6 14.2 2.8 14.2 2.3 7.1 .9 14.1 1.4 7.1 .4 14.2 .5 7.1-.1 14.1-.6 7.1-.6 14.2-1.9 7.1-1.2 14.1-3.1 7.1-1.9 7.1-2.1 14.2-4.8 7.1-2.8 12.5-5.3M599.7 919.7l6.6-3M627.3 906.3l.2-.2M273.6 864.4l11.1 8.4 7.1 5.1 14.2 9.5 7.1 4.5 14.1 8.3 7.1 3.8 14.2 7 7.1 3.2 14.1 5.7 7.1 2.6 14.2 4.7 7.1 2.1 14.1 3.6 7.1 1.7 14.2 2.8 14.2 2.2 7 .9 14.2 1.4 7.1 .4 14.2 .4 7.1 0 14.1-.7 7.1-.6 14.2-1.8 7.1-1.3 14.1-3.1 7.1-1.9 14.2-4.4 14.2-5.2 7.6-3.2M600.3 919.1l9.2-4.2M631.1 904.3l.2-.2M282.2 865.8l13.7 10.1 7.1 4.9 14.1 9.1 7.1 4.3 14.2 7.8 7.1 3.6 14.1 6.6 14.2 5.7 7.1 2.6 14.2 4.7 7.1 2 14.1 3.7 7.1 1.6 14.2 2.8 14.1 2.2 7.1 .9 14.2 1.3 7.1 .5 14.1 .4 7.1-.1 14.2-.6 7.1-.7 14.2-1.8 7-1.2 14.2-3.2 7.1-1.9 14.2-4.4 7-2.5 10.1-3.9M600.5 918.6l13.4-6M637.2 901l.8-.4M640.1 899.5l.3-.1M642.5 898.3l.3-.2M291 867.4l16.1 11.4 14.1 9.2 7.1 4.2 14.2 7.8 7.1 3.6 14.1 6.6 14.2 5.7 7.1 2.6 14.1 4.6 7.1 2.1 14.2 3.6 7.1 1.6 14.2 2.8 14.1 2.2 7.1 .9 14.2 1.3 7.1 .5 14.1 .3 7.1 0 14.2-.7 14.2-1.4 7-1.1 14.2-2.7 7.1-1.6 14.2-4 7-2.3 12.3-4.5M600.5 918.1l11.2-4.8 7.9-3.6M640.5 899.3l.8-.4M645 897l1.6-.9M299.8 868.8l11.3 8 7.1 4.7 14.2 8.7 14.2 7.9 7 3.5 14.2 6.6 14.2 5.7 7.1 2.6 14.1 4.6 7.1 2.1 14.2 3.6 7.1 1.6 14.1 2.7 14.2 2.2 7.1 .9 14.2 1.3 7 .4 14.2 .4 7.1-.1 14.2-.6 14.1-1.5 7.1-1 14.2-2.7 14.2-3.6 7-2.1 13.9-4.7M600.8 917.5l15-6.3 10.2-4.8M647.2 895.8l.3-.2M649.6 894.5l.8-.4M308.6 870.3l13.7 9.2 7.1 4.5 14.1 8.3 14.2 7.4 7.1 3.3 14.2 6.1 14.1 5.4 7.1 2.4 14.2 4.2 14.2 3.6 7 1.6 14.2 2.8 14.2 2.1 7.1 .9 14.1 1.3 7.1 .4 14.2 .4 7.1-.1 14.1-.7 14.2-1.5 7.1-1 14.2-2.7 14.1-3.6 7.1-2.1 8.5-2.8M601 916.8l11.8-4.7 16-7.2M650.5 894l.8-.4M318.1 872l15.4 10 14.1 8.3 14.2 7.4 7.1 3.3 14.1 6.1 14.2 5.4 7.1 2.3 14.2 4.3 14.1 3.6 7.1 1.6 14.2 2.7 14.2 2.1 7 .9 14.2 1.3 14.2 .6 7.1 .1 14.1-.3 14.2-1.1 7.1-.8 14.2-2.3 14.1-3.2 7.1-1.8 9.9-3.1M601.6 915.9l15.2-6 14.7-6.5M652 893.3l.3-.2M657.2 890.5l.8-.4M327.5 873.6l10 6.4 7.1 4.3 14.2 7.8 14.2 6.9 14.1 6.1 14.2 5.3 7.1 2.4 14.2 4.3 14.1 3.6 7.1 1.5 14.2 2.7 14.1 2.1 7.1 .9 14.2 1.3 14.2 .6 7 .1 14.2-.4 14.2-1.1 14.2-1.8 14.1-2.8 7.1-1.6 11.3-3.2M602.1 915l11.7-4.3 7.1-2.9 17.9-8.1M655.8 891.3l.3-.2M660.5 888.8l.8-.4M337.3 875.3l11.4 7 7.1 4 14.2 7.4 14.1 6.5 14.2 5.7 14.2 4.9 14.1 4.2 14.2 3.6 7.1 1.6 14.2 2.6 14.1 2.2 7.1 .8 14.2 1.2 14.1 .7 14.2 0 14.2-.8 14.2-1.5 14.1-2.3 7.1-1.4 11.6-2.9M602.6 914.1l8.2-2.9 14.2-5.6 7.1-3.1 11.5-5.3M662 888l.3-.1M347.5 877.1l12.4 7.2 14.1 7.4 14.2 6.5 14.2 5.7 14.1 4.9 14.2 4.2 14.2 3.6 7.1 1.5 14.1 2.7 14.2 2.1 7.1 .8 14.2 1.2 14.1 .7 14.2-.1 14.2-.7 14.1-1.5 14.2-2.3 12.2-2.7M603 913.1l11.9-4.1 7.1-2.7 14.2-5.9 12.3-5.7M665.8 886l.3-.1M670 883.8l1.3-.7M357.6 878.8l13.4 7.3 14.2 7 14.2 6 14.1 5.3 14.2 4.6 14.2 3.8 14.1 3.2 14.2 2.7 14.2 2.1 14.2 1.5 14.1 .9 14.2 .3 14.2-.4 14.1-1.1 14.2-1.9 11.9-2.3M604 911.9l7.9-2.5 14.2-5.3 14.1-5.9 12.1-5.6M654.9 891.4l.8-.4M672.5 882.5l.3-.1M368.8 880.8l13.4 6.9 7.1 3.4 14.1 6 14.2 5.3 14.2 4.5 14.2 3.9 14.1 3.2 14.2 2.6 14.2 2.1 14.1 1.5 14.2 .9 14.2 .2 14.1-.4 7.1-.4 14.2-1.5 12.1-2M604.4 910.8l11.6-3.6 14.1-5.2 14.2-6 14.7-6.8M675.8 880.8l.3-.2M380.5 882.8l12.9 6.3 14.1 6 7.1 2.8 14.2 4.8 7.1 2.2 14.1 3.8 14.2 3.2 14.2 2.6 14.1 2.1 14.2 1.5 14.2 .9 7.1 .2 14.1-.1 7.1-.3 14.2-1.1 10.6-1.4M605 909.6l15.1-4.6 14.1-5.2 14.2-5.9 13.4-6.2M682.5 877.3l.3-.2M393.2 885.1l11.3 5.1 7.1 2.9 7.1 2.8 14.2 4.8 7 2.2 14.2 3.8 14.2 3.2 14.2 2.6 14.1 2 7.1 .8 14.2 1.2 7.1 .3 14.1 .3 7.1-.2 14.2-.7 7.9-.8M605.7 908.4l11.4-3.3 7-2.3 14.2-5.2 14.2-5.9 15.2-7.1M685.8 875.5l.8-.4M406.4 887.3l9.3 3.8 7.1 2.8 7.1 2.5 14.1 4.4 14.2 3.8 7.1 1.7 14.1 2.9 7.1 1.2 14.2 2 14.2 1.5 7.1 .5 14.1 .5 7.1 0 7.1-.1 10.9-.6M606.4 907.1l14.7-4.1 14.2-4.8 7.1-2.7 14.2-5.9 17.3-8.1M422.2 890.1l11.7 4.3 7.1 2.3 14.2 4.1 14.2 3.5 14.1 2.8 7.1 1.2 14.2 2 14.1 1.4 14.2 .9 7.1 .2 12.4-.1M607.1 905.7l11-2.8 7.1-2.1 14.2-4.8 7.1-2.7 14.1-5.9 18.1-8.5M440.8 893.3l11.4 3.5 14.2 3.8 7 1.6 14.2 2.8 14.2 2.3 14.1 1.7 14.2 1.1 10.9 .5M607.8 904.4l14.4-3.7 7.1-2.1 14.2-4.8 7-2.7 14.2-5.9 16.8-7.8M685.2 875.6l.8-.4M697.3 869.5l.2-.1M468.4 898l.3 .1M469.6 898.3l7.9 1.9 14.2 2.8 14.2 2.2 12.1 1.5M518.8 906.8l.6 0M608.7 902.9l10.5-2.5 7.1-1.8 7.1-2.1 14.1-4.8 7.1-2.7 14.2-5.9 17.1-8M686.9 874.6l2.4-1.1M705.8 865.1l1.3-.7M710.3 862.7l.7-.4M609.4 901.4l13.9-3.1 7.1-1.9 7.1-2.1 14.1-4.8 7.1-2.7 14.2-5.9 18.6-8.7M702 867l.3-.2M707.2 864.3l.8-.4M712.5 861.5l.8-.4M610.2 899.8l10.1-2 14.1-3.6 7.1-2.1 14.2-4.8 7.1-2.7 14.2-5.9 7-3.1 13.9-6.7M716.3 859.5l.8-.4M611 898.2l13.4-2.6 7-1.7 7.1-1.9 14.2-4.4 7.1-2.5 14.2-5.5 14.1-6.2 13.1-6.3M702.8 866.4l.8-.4M706.7 864.4l.3-.1M712 861.7l.3-.1M717.2 859l.8-.4M721.7 856.7l.3-.1M722.5 856.3l.8-.4M611.9 896.6l9.5-1.7 14.1-3.1 7.1-1.9 14.2-4.4 7.1-2.5 14.1-5.6 14.2-6.2 11.8-5.6M704.5 865.4l4.5-2.2M719.7 857.7l.3-.1M725 855l.3-.1M726.8 854l.6-.2M613 894.9l12.4-2.1 14.2-3.2 7.1-1.9 14.2-4.4 7-2.5 14.2-5.5 14.2-6.2 15.5-7.4M713.9 860.6l1.8-.9M716.7 859.2l.3-.1M727.5 853.7l1.1-.6M613.9 893.2l8.5-1.3 14.2-2.8 14.2-3.6 14.1-4.4 7.1-2.5 14.2-5.5 14.2-6.2 13.6-6.5M717.2 858.9l2.3-1.2M724.5 855.2l.3-.2M727.4 853.7l.2-.1M729.7 852.5l.3-.2M732.6 851l1.3-.7M735 849.8l.3-.2M615 891.4l11.5-1.7 14.2-2.8 14.1-3.6 14.2-4.3 14.2-5.2 14.2-5.9 14.1-6.4 10.3-5M726 854.4l.7-.4M727.3 853.7l.2-.1M732.5 851l1.3-.7M737.5 848.4l2.1-1.1M615.5 889.7l8-1 14.2-2.4 14.1-3.2 14.2-4 14.2-4.8 14.1-5.5 14.2-6.2 19.2-9.2M728.7 852.9l.8-.4M732.7 850.9l1.3-.7M734.5 850l.3-.2M737.9 848.2l2.1-1.1M743.2 845.5l.5-.3M616.7 887.8l10.9-1.3 14.2-2.4 14.1-3.2 14.2-4 14.2-4.8 14.1-5.5 14.2-6.2 18.9-9M732 851.1l1.8-.9M736.5 848.9l.8-.4M737.8 848.2l1.8-.9M742.2 845.9l.3-.1M743 845.5l2.9-1.5M747.5 843.2l.3-.1M617.8 886l13.9-1.6 14.1-2.5 14.2-3.2 14.2-4 14.1-4.7 14.2-5.6 14.2-6.1 17.6-8.4M734.8 849.6l4.7-2.3M743.2 845.4l2.6-1.3M748.4 842.7l3.2-1.6M753.7 840l4.2-2.2M618.6 884.1l10.1-1 7-.9 14.2-2.4 14.2-3.2 14.1-4 14.2-4.8 14.2-5.5 14.2-6.2 15.7-7.5M737.5 848.1l4.5-2.2M743.1 845.4l2.8-1.5M747 843.4l.3-.1M748.3 842.7l3.4-1.7M752.2 840.7l.3-.1M754.1 839.8l3.7-2M759.3 837l3.7-1.9M619.8 882.2l12.9-1.2 14.2-2.1 14.2-2.8 14.1-3.6 14.2-4.4 14.2-5.2 14.2-5.8 20.9-9.7M740.3 846.6l4-1.9M746.9 843.4l4.7-2.4M754.2 839.6l3.7-1.8M759.5 836.9l4.2-2.1M764.7 834.2l2.4-1.2M620.9 880.2l15.9-1.4 14.2-2.1 14.2-2.8 14.1-3.6 14.2-4.4 14.2-5.1 14.1-5.9 19.7-9M743.1 845.1l3.9-1.9M750.2 841.6l1.8-.9M754.1 839.6l3.7-1.8M759.4 837l4.2-2.2M765.1 834l4.7-2.5M770.4 831.3l.8-.5M622 878.2l11.8-.8 7.1-.8 14.2-2 14.1-2.9 14.2-3.6 14.2-4.4 7.1-2.4 14.1-5.5 14.2-6.2 21.2-10.1M757.9 837.6l5.8-2.9M764.7 834.1l5.6-2.8M770.8 831l4.4-2.3M623.1 876.3l14.8-1.1 14.2-1.7 7-1.1 14.2-2.8 14.2-3.6 14.2-4.4 7-2.5 14.2-5.5 7.1-3 14.2-6.4 17.8-8.7M765.2 833.9l4.7-2.4M770.9 830.9l4.7-2.4M776.2 828.2l10.5-5.4M624.3 874.2l10.6-.5 7.1-.6 14.1-1.7 14.2-2.5 7.1-1.5 14.2-3.6 14.1-4.4 7.1-2.5 14.2-5.5 7.1-2.9 14.1-6.4 19.7-9.7M769.5 831.6l.3-.1M770.8 830.9l4.7-2.4M776.1 828.3l14.6-7.7M625.4 872.2l13.6-.7 7.1-.6 14.1-1.7 14.2-2.4 7.1-1.6 14.1-3.6 14.2-4.4 7.1-2.4 14.2-5.5 14.1-6.1 21.5-10.3M768.3 832.1l5.8-2.9M776.2 828.1l5.2-2.7M782 825.2l12.8-6.7M626.5 870.1l16.5-.7 14.2-1.4 7.1-1 14.2-2.4 7.1-1.5 14.1-3.7 14.2-4.3 7.1-2.5 14.1-5.5 14.2-6.1 19.7-9.3M771.6 830.4l2.9-1.5M776.1 828.1l4.2-2.1M781.8 825.2l11.6-6M793.9 819l5-2.6M627.6 868l12.4-.3 7.1-.5 14.2-1.4 14.2-2.1 7.1-1.3 14.1-3.2 14.2-4 7.1-2.3 14.1-5.1 7.1-2.9 14.2-6.1 18.4-8.6M774.9 828.6l1.8-.9M779.9 826.1l6.3-3.2M787.2 822.4l6.1-3.1M793.8 819l9.2-4.8M629.1 865.9l15-.4 14.2-1 7.1-.8 14.1-2.1 7.1-1.4 14.2-3.2 14.2-4 7.1-2.3 14.1-5.1 7.1-2.8 14.2-6.1 14.1-6.6 9-4.4M781.6 825.2l.5-.3M783.2 824.4l1.3-.7M787.6 822.1l4.2-2.1M793.9 818.9l5.3-2.7M799.7 815.9l7.4-3.8M630.2 863.8l10.9-.1 7.1-.3 14.2-1.1 14.1-1.7 7.1-1.2 14.2-2.8 14.2-3.7 7-2.1 14.2-4.7 14.2-5.5 19.6-8.5M768.1 831.7l3.2-1.5M781.2 825.4l.3-.2M631.3 861.6l13.9-.1 7.1-.3 14.2-1 14.1-1.8 14.2-2.5 14.2-3.2 7-1.9 14.2-4.4 14.2-5.1 19.6-7.9M765.1 832.9l1.9-.8M633 859.5l16.3-.1 14.1-.8 14.2-1.4 7.1-1 14.2-2.5 14.1-3.2 7.1-1.9 14.2-4.4 14.2-5.1 21.2-8.2M776.3 828.2l.2-.1M634.2 857.3l12.1 .1 7.1-.2 14.1-.7 14.2-1.5 7.1-.9 14.1-2.5 14.2-3.3 14.2-4 14.2-4.7 27.7-10.4M780.3 826.4l.3-.1M782.2 825.6l.6-.3M785 824.4l9.8-4.6M635.3 855.1l15.1 .2 14.1-.5 7.1-.5 14.2-1.4 7.1-1 14.1-2.5 14.2-3.2 14.2-4.1 14.1-4.7 30-11.2M796.2 819l1.4-.6M636.7 852.9l17.7 .2 14.2-.4 7.1-.5 14.2-1.5 7-1 14.2-2.5 14.2-3.2 14.1-4 14.2-4.8 30.5-11.3M638.1 850.7l13.3 .3 7.1 0 14.2-.5 7.1-.5 14.1-1.4 7.1-1 14.2-2.5 14.2-3.3 14.1-4 14.2-4.7 31.1-11.6M639.6 848.4l15.9 .5 14.2-.2 7.1-.3 14.1-1.2 7.1-.8 14.2-2.1 14.2-2.9 7-1.8 14.2-4 14.2-4.7 31.6-11.8M641 846.2l11.5 .5 7.1 .1 14.2-.2 7-.4 14.2-1.1 7.1-.8 14.2-2.2 14.1-2.9 7.1-1.7 14.2-4 14.2-4.8 32.1-12M642.4 843.9l14.2 .7 7.1 .1 14.1-.3 7.1-.3 14.2-1.2 7.1-.8 14.1-2.2 14.2-2.9 7.1-1.7 14.2-4 14.1-4.8 32.7-12.1M643.8 841.6l16.9 .8 14.1 .1 7.1-.2 14.2-.9 7.1-.6 14.1-1.9 7.1-1.1 14.2-3 7.1-1.7 14.1-4 14.2-4.7 33-12.3M826.8 803.1l1.8-1M829.1 801.8l1.3-.6M645.3 839.4l12.4 .7 7 .2 14.2 .1 7.1-.2 14.2-.9 7-.7 14.2-1.8 7.1-1.2 14.2-2.9 7.1-1.8 14.1-4 14.2-4.7 33.5-12.5M829.3 801.8l.2-.2M831.6 800.5l.8-.4M833.5 799.6l1-.6M647 837.1l7.7 .5 14.1 .6 14.2 0 7.1-.2 14.1-.9 7.1-.6 14.2-1.9 7.1-1.2 14.2-2.9 7-1.7 14.2-4 14.2-4.8 34-12.6M833.1 799.8l.2-.2M836.7 797.8l1.9-.9M145.6 841.9l1.8-.9M152.7 844.3l1.5-.8M159.8 850.5l8.9-4.5M166.9 856.6l16-8M173.9 862.8l23.5-11.7M181 868.8l30.9-15.3M188.1 874.8l38-18.8M195.2 880.6l44.9-22.1M202.3 886.3l52-25.5M209.4 891.9l58.3-28.5M216.4 897.3l65.1-31.7M223.5 902.6l71.2-34.7M230.6 907.6l77-37.4M237.7 912.5l82.6-40.1M244.8 917.1l87.7-42.5M251.9 921.6l92.8-45M259 925.9l97.4-47.3M266 929.9l101.5-49.3M273.1 933.8l105.3-51.2M280.2 937.4l109.1-53.1M287.3 940.8l112.2-54.7M294.4 944.1l115-56.2M301.5 947.1l117.5-57.6M308.5 950l119.9-58.9M315.6 952.7l121.7-60M322.7 955.2l123.2-60.9M329.8 957.6l124.9-62.1M336.9 959.7l125.7-62.6M344 961.8l126.4-63.3M351 963.7l127.3-63.9M358.1 965.4l127.8-64.4M365.2 967l127.8-64.7M372.3 968.5l127.7-65M379.4 969.8l127.2-65M386.5 971l126.9-65.1M646.3 837.8l1.3-.7M393.6 972l126.2-65M642.2 844.1l12.5-6.5M400.6 972.9l125.5-64.8M638.3 850.1l23.4-12.1M407.7 973.6l124.5-64.5M634.9 855.8l33.9-17.6M414.8 974.1l123.2-64M631.3 861.5l44.6-23.2M421.9 974.5l121.6-63.5M628.7 866.6l54.3-28.4M429 974.8l119.6-62.7M625.6 871.8l64.5-33.8M436.1 974.8l117.8-61.9M623 876.6l74.2-38.9M443.1 974.7l115.5-60.9M620.1 881.5l84.1-44.4M450.2 974.3l113.2-59.8M617.8 885.9l93.5-49.4M457.3 973.8l110.4-58.4M615.4 890.1l103-54.5M464.4 973l107.3-56.9M613.3 894.1l112.2-59.5M471.5 972l104-55.2M611.5 897.7l121.1-64.3M478.6 970.8l100.7-53.5M609.4 901.3l130.3-69.2M485.6 969.4l96.9-51.5M607.5 904.6l139.3-74.1M492.7 967.8l92.8-49.4M606.2 907.4l147.6-78.6M499.8 965.9l88.5-47.1M604.9 910l156-83.1M506.9 963.8l83.6-44.5M603.5 912.3l164.5-87.5M514 961.5l78.8-42M602.7 914.2l172.4-91.7M521.1 958.9l73.2-38.9M601.6 916.1l180.6-96.1M528.2 956.2l67.5-35.9M600.8 917.6l188.5-100.2M535.2 953.2l62-32.8M600 918.9l196.3-104.2M542.3 950.1l55.9-29.6M599.7 919.7l150.7-79.9 16.3-8.2 36.7-19.4M549.4 946.8l42.8-22.7M592.8 923.9l.7-.4M611.6 913.9l2.3-1.2M614.9 912.1l4.6-2.4M621.6 908.6l135.9-71.9 9.8-4.7M767.8 831.7l1.4-.6M777.4 827.1l33.1-17.5M556.5 943.4l15.5-8.3M572.6 934.9l9.6-5.2M654.4 891.6l1.3-.6M657.7 889.9l1.3-.7M661 888.1l.8-.4M664.4 886.4l9.4-5M674.3 881.1l90.3-47.7 5.7-2.7M776.3 828.2l4.3-1.9M563.6 939.8l8.9-4.7M573.5 934.5l2.3-1.2M578.4 932l.7-.4M685.7 875.4l.3-.2M695.7 870.1l2.3-1.2M699 868.4l1.2-.7M702.3 866.6l1.3-.6M706.1 864.6l8.4-4.4M716.1 859.4l22.6-12M739.8 846.9l35.7-18.7M788 823.1l4-2.1M570.7 936.1l8.4-4.5M580.6 930.8l1.8-.9M585.5 928.3l.7-.4M587.7 927.1l1.8-1M590 925.9l2.8-1.5M595.9 922.8l.8-.4M600.8 920.2l3-1.6M605.3 917.8l1.8-.9M613.5 913.5l.8-.4M615.8 912.3l1.8-.9M620.6 909.8l.3-.2M626.2 906.8l1.8-.9M630.6 904.5l.7-.4M640.5 899.3l1.3-.7M652 893.3l.3-.2M655.8 891.3l.3-.2M665.8 886l.7-.4M703 866.4l.3-.1M715.5 859.9l.2-.2M725.9 854.4l1.8-1M732.6 850.9l1.2-.7M736.4 848.9l5.1-2.7M743 845.4l2.8-1.5M746.9 843.4l7.3-3.9M757.3 837.9l10-5.3M767.8 832.4l2.8-1.5M771.1 830.6l3.3-1.7M774.9 828.6l5.6-2.9M795 819.7l4.1-2.1M799.6 817.3l2.8-1.4M805.5 814.3l.3-.2M807.8 813.1l1.8-1M812.6 810.5l.3-.1M818.2 807.6l1.8-1M823.1 805l.2-.1M643.3 897.9l3.3-1.8M648.6 895l1.3-.6M653.5 892.5l.2-.1M654.8 891.8l2.2-1.2M658.1 890.1l1-.5M659.6 889.3l1.3-.7M664.4 886.8l.3-.2M667.2 885.3l.8-.4M669 884.3l2.8-1.4M674.4 881.5l.7-.4M680.5 878.3l2.3-1.2M685.3 875.8l.8-.4M693 871.8l.3-.2M695.3 870.6l1.8-1M706 864.9l2-1M722.1 856.5l.2-.1M727.4 853.7l.3-.1M731.2 851.7l.3-.1M732.5 851l1.3-.6M737.9 848.2l1.8-.9M743.2 845.4l2.6-1.3M748.3 842.7l3.3-1.7M754.2 839.6l3.6-1.8M759.3 837l4.3-2.3M765.2 833.9l4.5-2.4M770.8 831l3.3-1.8M776.1 828.1l9.5-4.9M830.7 801l8.1-4.3M711.3 862.2l1-.6M714.4 860.6l1.7-1M720.7 857.2l3.1-1.6M725.8 854.6l1.8-1M731.2 851.8l.5-.3M732.2 851.2l1.8-.9M734.5 850l.3-.1M737.3 848.5l2.3-1.2M742.7 845.7l3.3-1.7M747 843.5l.3-.2M748.3 842.8l3.3-1.7M753.6 840l4.4-2.3M759.5 836.9l4.1-2.1M765.1 834l4.8-2.5M771 830.9l4.6-2.4M776.1 828.3l5.3-2.8M781.9 825.2l10.7-5.6M759.2 837.1l4.3-2.3M764 834.6l11.5-6M776 828.3l17.4-9M793.9 819l5.8-3.1M786.7 822.8l20.1-10.5"/>
<path fill="none" stroke="#56b4e9" stroke-width="1.0" d="M145.6 841.9l453.4 78.6M149.7 838.8l453.4 74M153.8 832.5l453.4 72.6M157.8 826.3l453.4 71.1M161.9 820.1l453.4 69.8M166 813.8l453.4 68.6M170.1 807.7l453.4 67.4M174.2 801.5l453.4 66.4M178.2 795.5l453.4 65.4M182.3 789.5l453.4 64.6M186.4 783.5l453.4 64M190.5 777.7l453.4 63.4M194.6 771.9l453.4 63.1M198.6 766.2l453.4 62.9M202.7 760.7l453.4 62.7M206.8 755.2l453.4 62.9M210.9 749.9l453.4 63M215 744.7l453.4 63.4M219 739.6l453.4 63.9M223.1 734.7l453.4 64.4M227.2 729.9l453.4 65.1M231.3 725.3l453.4 65.8M235.4 720.9l453.4 66.6M239.4 716.6l453.4 67.5M243.5 712.5l453.4 68.4M247.6 708.6l453.4 69.3M251.7 704.9l453.4 70.2M255.8 701.3l453.4 71.2M259.8 698l453.4 72.1M263.9 694.9l453.4 72.9M268 691.9l453.4 73.8M272.1 689.2l453.4 74.6M276.2 686.7l453.4 75.3M280.2 684.4l453.4 75.9M284.3 682.4l453.4 76.4M288.4 680.5l453.4 76.9M292.5 678.9l453.4 77.2M296.5 677.5l453.4 77.5M300.6 676.3l453.4 77.7M304.7 675.3l453.4 77.9M308.8 674.5l453.4 78M312.9 673.9l453.4 78.1M316.9 673.6l453.4 78M321 673.5l453.4 77.9M325.1 673.5l453.4 77.8M329.2 673.8l453.4 77.6M333.3 674.2l453.4 77.5M337.3 674.9l.6 .1M338.5 675.1l.9 .1M340 675.3l.9 .2M341.8 675.6l.6 .1M343 675.8l.8 .2M344.4 676.1l.9 .1M345.9 676.3l.9 .2M347.4 676.6l.9 .1M348.9 676.8l.8 .2M350.3 677.1l.9 .1M351.8 677.3l.9 .2M353.3 677.6l.9 .1M354.8 677.9l.6 .1M356.2 678.1l.6 .1M357.7 678.4l.6 .1M359.2 678.6l.6 .1M360.7 678.9l.6 .1M362.1 679.1l.6 .1M363.3 679.3l.9 .2M364.8 679.6l.9 .1M366.3 679.8l.9 .2M368 680.1l.6 .1M369.5 680.4l.6 .1M370.7 680.6l.9 .1M372.2 680.8l.9 .2M373.7 681.1l.8 .1M375.1 681.3l.9 .2M376.6 681.6l.9 .1M378.1 681.8l.9 .2M379.6 682.1l.8 .1M381 682.3l.9 .2M382.5 682.6l.9 .1M384 682.8l.9 .2M385.5 683.1l.8 .1M386.9 683.3l.9 .2M388.4 683.6l.9 .1M389.9 683.8l.9 .2M391.4 684.1l3.8 .6M395.8 684.8l.9 .2M397.3 685.1l.9 .1M398.7 685.3l.6 .2M400.2 685.6l.6 .1M401.7 685.9l.6 .1M402.9 686.1l.9 .1M404.4 686.3l.8 .2M405.8 686.6l.9 .1M407.3 686.8l.9 .2M408.8 687.1l.9 .1M410.3 687.3l.8 .2M411.7 687.6l.9 .1M413.2 687.8l.9 .2M414.7 688.1l.9 .1M416.2 688.3l.8 .2M417.6 688.6l.9 .1M419.1 688.8l.9 .2M420.6 689.1l2.3 .4M423.5 689.6l.9 .1M425 689.8l.9 .2M426.5 690.1l.9 .1M428 690.3l.9 .2M429.4 690.6l.9 .1M430.9 690.8l9.8 1.7M441.2 692.6l2.1 .3M443.9 693.1l.9 .1M445.4 693.3l.9 .2M446.9 693.6l.8 .1M448.3 693.8l2.4 .4M451.3 694.3l.9 .2M452.8 694.6l.8 .1M454.2 694.8l.9 .2M455.7 695.1l.9 .1M457.2 695.3l.9 .2M458.7 695.6l.9 .1M460.1 695.8l5.4 .9M466 696.8l.9 .2M467.5 697.1l.9 .1M469 697.3l.9 .2M470.5 697.6l22.7 3.9M493.8 701.6l.9 .1M495.3 701.8l.9 .2M496.7 702.1l.9 .1M498.2 702.3l.9 .2M499.7 702.6l9.7 1.6M510 704.3l27.2 4.7M537.8 709.1l.9 .1M539.2 709.3l251.5 42.9M682.1 733.7l.3 0M683.5 733.9l.3 .1M685 734.2l.3 0M686.5 734.4l.3 .1M688 734.7l.3 0M689.4 734.9l.3 .1M690.9 735.2l.3 0M692.4 735.4l.3 .1M693.6 735.6l.6 .1M695.1 735.9l.5 .1M696.5 736.1l.6 .1M698 736.4l.6 .1M699.8 736.7l.3 0M701.3 736.9l.2 .1M702.7 737.2l.3 0M703.9 737.4l.6 .1M705.4 737.6l.6 .1M706.9 737.9l.6 .1M708.3 738.1l.6 .1M709.8 738.4l.6 .1M711.3 738.6l.6 .1M712.8 738.9l.6 .1M714.5 739.2l.3 0M715.7 739.4l.6 .1M717.2 739.6l.6 .1M718.7 739.9l.6 .1M720.1 740.1l.6 .1M721.6 740.4l.6 .1M723.1 740.6l.6 .1M724.3 740.8l.9 .2M725.8 741.1l.8 .1M727.5 741.4l.6 .1M729 741.6l.6 .1M730.5 741.9l.6 .1M732 742.1l.5 .1M733.4 742.4l.6 .1M734.9 742.6l.6 .1M736.4 742.9l.6 .1M737.6 743.1l.6 .1M739 743.4l.6 .1M740.5 743.6l.6 .1M742.3 743.9l.3 .1M743.8 744.2l.3 0M745.2 744.4l.3 .1M746.7 744.7l.3 0M747.9 744.9l.6 .1M749.4 745.1l.6 .1M750.8 745.4l.6 .1M752.3 745.6l.6 .1M753.8 745.9l.6 .1M755.3 746.1l.6 .1M757 746.4l.3 .1M758.2 746.6l.6 .1M759.7 746.9l.6 .1M761.2 747.1l.6 .1M762.7 747.4l.5 .1M764.1 747.6l.6 .1M765.6 747.9l.6 .1M767.1 748.1l.6 .1M768.6 748.4l.5 .1M770 748.6l.6 .1M771.5 748.9l.6 .1M773 749.1l.6 .1M774.5 749.4l.5 .1M775.9 749.6l.6 .1M777.4 749.9l.6 .1M778.9 750.1l.6 .1M780.1 750.3l.9 .2M781.5 750.6l.9 .1M783 750.8l.9 .2M784.8 751.1l.6 .1M786.3 751.4l.6 .1M787.7 751.6l.6 .1M789.2 751.9l.6 .1M790.7 752.1l4.1 .7M145.6 841.9l4.1-3.1 20.4-31.1 16.3-24.2 12.2-17.3 12.3-16.3 12.2-15.2 8.2-9.4 8.1-8.7 4.1-4.1 8.2-7.6 8.1-6.9 4.1-3.1 8.2-5.7 8.1-4.8 4.1-2 8.2-3.5 8.1-2.6 4.1-1 8.2-1.4 4-.3 8.2-.1 4.1 .3 7.9 1M152.7 843.1l4.1-3.1 20.4-31.3 16.3-24.2 12.2-17.3 12.3-16.3 12.2-15.2 8.2-9.3 8.1-8.7 4.1-4.1 8.2-7.6 8.1-6.9 4.1-3.1 8.2-5.6 8.1-4.8 4.1-2 8.2-3.5 8.1-2.6 4.1-1 8.2-1.3 4-.4 8.2-.1 4.1 .3 7.8 1M159.8 844.4l4-3.3 20.4-31.3 16.4-24.3 12.2-17.3 12.2-16.3 12.3-15.2 8.1-9.3 8.2-8.7 4.1-4.1 8.1-7.5 8.2-6.8 4.1-3.1 8.1-5.6 8.2-4.8 4.1-2.1 8.1-3.4 8.2-2.6 4.1-1 8.1-1.3 4.1-.4 8.2 0 4.1 .2 7.8 1.1M166.9 845.6l4-3.3 20.4-31.5 16.3-24.3 12.3-17.3 12.2-16.4 12.3-15.1 8.1-9.3 8.2-8.6 4.1-4.1 8.1-7.5 8.2-6.8 4.1-3.1 8.1-5.6 8.2-4.7 4.1-2.1 8.1-3.4 8.2-2.6 4.1-1 8.1-1.3 4.1-.3 8.2-.1 4 .2 7.9 1.1M173.9 846.8l4.1-3.4 20.4-31.5 16.3-24.4 12.3-17.3 12.2-16.4 12.3-15.1 8.1-9.3 8.2-8.6 4-4 8.2-7.5 8.2-6.8 4-3.1 8.2-5.5 8.2-4.7 4-2.1 8.2-3.4 8.2-2.6 4-1 8.2-1.3 4.1-.3 8.1-.1 4.1 .2 7.9 1.1M181 848l4.1-3.4 20.4-31.7 16.3-24.4 12.3-17.4 12.2-16.3 12.2-15.1 8.2-9.2 8.2-8.6 4-4 8.2-7.5 8.2-6.8 4-3 8.2-5.5 8.2-4.7 4-2.1 8.2-3.4 8.1-2.6 4.1-.9 8.2-1.4 4.1-.3 8.1-.1 4.1 .3 7.9 1M188.1 849.3l4.1-3.6 20.4-31.7 16.3-24.5 12.2-17.4 12.3-16.3 12.2-15.1 8.2-9.2 8.1-8.6 4.1-4 8.2-7.4 8.1-6.7 4.1-3.1 8.2-5.5 8.1-4.7 4.1-2 8.2-3.4 8.1-2.6 4.1-.9 8.2-1.3 4.1-.4 8.1-.1 4.1 .3 7.9 1M195.2 850.5l4.1-3.6 20.4-31.9 16.3-24.5 12.2-17.4 12.3-16.3 12.2-15 8.2-9.3 8.1-8.5 4.1-4 8.2-7.4 8.1-6.7 4.1-3 8.2-5.5 8.1-4.7 4.1-2 8.2-3.4 8.1-2.5 4.1-1 8.2-1.3 4-.4 8.2-.1 4.1 .3 7.8 1M202.3 851.7l4.1-3.6 20.4-32 12.2-18.6 12.2-17.7 12.3-16.7 12.2-15.5 12.2-14 8.2-8.6 4.1-3.9 8.1-7.4 8.2-6.7 4.1-3 8.1-5.5 8.2-4.6 4.1-2 8.1-3.4 8.2-2.5 4.1-1 8.1-1.3 4.1-.4 8.2-.1 4.1 .3 7.8 1M209.4 853l4-3.8 20.4-32.1 12.3-18.5 12.2-17.8 12.3-16.7 12.2-15.5 12.2-14 8.2-8.5 4.1-4 8.1-7.3 8.2-6.7 4.1-3 8.1-5.4 8.2-4.6 4.1-2 8.1-3.4 8.2-2.5 4.1-1 8.1-1.3 4.1-.3 8.2-.1 4 .2 7.9 1M216.4 854.2l4.1-3.8 20.4-32.2 12.3-18.6 12.2-17.8 12.2-16.8 12.3-15.4 12.2-14 8.2-8.4 4.1-4 8.1-7.4 8.2-6.5 4.1-3 8.1-5.4 8.2-4.6 4.1-2 8.1-3.4 8.2-2.5 4.1-1 8.1-1.3 4.1-.3 8.2-.1 4 .2 7.9 1M223.5 855.4l4.1-3.9 20.4-32.2 12.2-18.7 12.3-17.9 12.2-16.7 12.3-15.4 12.2-14 8.2-8.4 4-3.9 8.2-7.4 8.2-6.5 4-3 8.2-5.4 8.2-4.5 4-2 8.2-3.4 8.2-2.5 4-.9 8.2-1.3 4.1-.4 8.1-.1 4.1 .2 7.9 1M230.6 856.6l4.1-3.9 20.4-32.4 12.2-18.7 12.3-17.9 12.2-16.7 12.2-15.4 8.2-9.5 8.2-8.7 4-4.1 8.2-7.7 8.2-6.9 4-3.2 8.2-5.7 4.1-2.6 8.1-4.5 4.1-2 8.2-3.3 8.1-2.6 4.1-.9 8.2-1.3 4.1-.4 8.1-.1 4.1 .2 7.9 1M237.7 857.9l4.1-4.1 20.4-32.4 12.2-18.8 12.3-17.9 12.2-16.7 12.2-15.4 8.2-9.4 8.1-8.8 4.1-4.1 8.2-7.6 8.1-6.9 4.1-3.2 8.2-5.7 4.1-2.5 8.1-4.6 4.1-1.9 8.2-3.3 8.1-2.6 4.1-.9 8.2-1.3 4-.4 8.2-.1 4.1 .3 7.9 .9M244.8 859.1l4.1-4.1 20.4-32.6 12.2-18.8 12.2-17.9 12.3-16.7 12.2-15.4 8.2-9.4 8.1-8.7 4.1-4.1 8.2-7.6 8.1-6.9 4.1-3.1 8.2-5.7 4.1-2.6 8.1-4.5 4.1-1.9 8.1-3.3 8.2-2.5 4.1-1 8.1-1.3 4.1-.3 8.2-.2 4.1 .3 7.8 .9M251.9 860.3l4-4.2 20.4-32.6 12.3-18.9 12.2-17.9 12.3-16.8 12.2-15.3 8.2-9.4 8.1-8.7 4.1-4.1 8.2-7.6 8.1-6.8 4.1-3.1 8.2-5.7 4-2.5 8.2-4.5 4.1-1.9 8.1-3.3 8.2-2.5 4.1-1 8.1-1.3 4.1-.3 8.2-.1 4.1 .2 7.8 1M259 861.6l4-4.3 20.4-32.8 12.3-18.9 12.2-17.9 12.2-16.8 12.3-15.3 8.1-9.4 8.2-8.7 4.1-4 8.1-7.6 8.2-6.8 4.1-3.1 8.1-5.6 4.1-2.5 8.2-4.5 4.1-1.9 8.1-3.3 8.2-2.5 4.1-1 8.1-1.2 4.1-.4 8.2-.1 4 .2 7.9 1M266 862.8l4.1-4.3 20.4-32.9 12.3-19 12.2-17.9 12.2-16.8 12.3-15.3 8.1-9.4 8.2-8.6 4.1-4.1 8.1-7.5 8.2-6.8 4.1-3 8.1-5.7 4.1-2.5 8.2-4.4 4-1.9 8.2-3.3 8.2-2.5 4-.9 8.2-1.3 4.1-.4 8.1-.1 4.1 .2 7.9 1M273.1 864l4.1-4.4 16.3-26.5 12.3-19.2 12.2-18.4 12.2-17.2 12.3-15.8 12.2-14.3 8.2-8.6 4.1-4 8.1-7.5 8.2-6.7 4.1-3.1 8.1-5.6 4.1-2.5 8.1-4.4 4.1-1.9 8.2-3.3 8.1-2.5 4.1-.9 8.2-1.3 4.1-.4 8.1-.1 4.1 .2 7.9 1M280.2 865.2l4.1-4.4 16.3-26.6 12.2-19.3 12.3-18.4 12.2-17.2 12.3-15.8 12.2-14.2 8.2-8.6 4-4.1 8.2-7.4 8.2-6.7 4-3.1 8.2-5.6 4.1-2.4 8.1-4.4 4.1-2 8.2-3.2 8.1-2.5 4.1-.9 8.2-1.3 4.1-.3 8.1-.2 4.1 .2 7.9 1M287.3 866.5l4.1-4.6 16.3-26.6 12.2-19.4 12.3-18.4 12.2-17.2 12.2-15.8 12.3-14.2 8.1-8.6 4.1-4 8.2-7.4 8.1-6.7 4.1-3.1 8.2-5.5 4.1-2.5 8.1-4.4 4.1-1.9 8.2-3.2 8.1-2.4 4.1-1 8.2-1.3 4-.3 8.2-.2 4.1 .3 7.8 .9M294.4 867.7l4.1-4.6 16.3-26.8 12.2-19.4 12.2-18.4 12.3-17.2 12.2-15.8 12.3-14.2 8.1-8.6 4.1-3.9 8.2-7.5 8.1-6.6 4.1-3 8.2-5.5 4-2.5 8.2-4.4 4.1-1.9 8.1-3.2 8.2-2.4 4.1-1 8.1-1.3 4.1-.3 8.2-.2 4.1 .3 7.8 .9M301.5 868.9l4-4.7 16.4-26.8 16.3-25.7 12.2-18.1 8.2-11.4 12.2-15.7 12.2-14.2 8.2-8.5 4.1-4 8.1-7.4 8.2-6.6 4.1-3 8.1-5.5 8.2-4.7 4.1-2.1 8.1-3.6 4.1-1.5 8.2-2.4 4.1-.9 8.1-1.3 4.1-.4 8.2-.1 4 .2 7.9 .9M308.5 870.1l4.1-4.7 16.3-26.9 16.4-25.8 12.2-18.1 8.2-11.4 12.2-15.7 8.2-9.6 4-4.6 8.2-8.5 4.1-3.9 8.1-7.4 8.2-6.6 4.1-3 8.1-5.4 4.1-2.5 8.2-4.3 8.1-3.6 4.1-1.5 8.2-2.4 4-.9 8.2-1.3 4.1-.4 8.1-.1 4.1 .2 7.9 .9M315.6 871.4l4.1-4.9 16.3-27 16.3-25.8 12.3-18.1 8.1-11.4 12.3-15.7 8.1-9.6 8.2-8.9 4.1-4.1 8.1-7.7 8.2-7 4.1-3.2 8.1-5.8 4.1-2.6 8.2-4.7 8.1-3.9 4.1-1.7 8.2-2.8 4.1-1.1 8.1-1.6 4.1-.6 4.1-.4 8.1-.1 4.1 .2 7.9 .9M322.7 872.6l4.1-4.9 16.3-27.1 16.3-25.9 12.3-18.2 8.1-11.3 12.3-15.8 8.1-9.5 8.2-8.9 4.1-4.1 8.1-7.7 8.2-6.9 4.1-3.2 8.1-5.7 4.1-2.6 8.2-4.7 8.1-3.9 4.1-1.7 8.2-2.8 4-1.1 8.2-1.6 4.1-.6 4.1-.3 8.1-.2 4.1 .2 7.9 .9M329.8 873.8l4.1-4.9 16.3-27.2 16.3-26 12.3-18.2 8.1-11.3 12.2-15.8 8.2-9.5 8.2-8.8 4-4.1 8.2-7.7 8.2-6.9 4-3.1 8.2-5.8 4.1-2.6 8.1-4.6 8.2-3.9 4.1-1.7 8.1-2.7 4.1-1.2 8.2-1.6 4.1-.6 4-.3 8.2-.2 4.1 .2 7.8 .9M336.9 875.1l4.1-5.1 16.3-27.2 16.3-26.1 12.2-18.2 8.2-11.3 12.2-15.8 8.2-9.5 8.2-8.8 4-4.1 8.2-7.6 8.1-6.9 4.1-3.1 8.2-5.7 4.1-2.6 8.1-4.6 4.1-2.1 8.2-3.5 8.1-2.7 4.1-1.1 8.2-1.7 4-.5 4.1-.4 8.2-.2 4.1 .2 7.8 1M344 876.3l4-5.1 16.4-27.4 16.3-26.1 12.2-18.2 8.2-11.4 12.2-15.7 8.2-9.5 8.1-8.8 4.1-4.1 8.2-7.6 8.1-6.8 4.1-3.1 8.2-5.7 4.1-2.6 8.1-4.6 4.1-2 8.2-3.5 8.1-2.7 4.1-1.1 8.2-1.7 4-.5 4.1-.4 8.2-.1 4 .2 7.9 .9M351 877.5l4.1-5.2 16.3-27.4 16.4-26.2 12.2-18.2 8.2-11.4 12.2-15.7 8.2-9.5 8.1-8.7 4.1-4.1 8.2-7.6 8.1-6.8 4.1-3.1 8.2-5.7 4-2.5 8.2-4.6 4.1-2 8.1-3.5 8.2-2.7 4.1-1.1 8.1-1.7 4.1-.5 8.2-.5 4.1 0 4 .2 7.9 .9M358.1 878.7l4.1-5.2 16.3-27.5 16.3-26.2 12.3-18.3 8.1-11.4 12.3-15.7 8.1-9.5 8.2-8.7 4.1-4.1 8.1-7.5 8.2-6.8 4.1-3.1 8.1-5.6 4.1-2.6 8.2-4.5 4.1-2 8.1-3.5 8.2-2.7 4.1-1.1 8.1-1.6 4.1-.6 8.2-.5 4 0 4.1 .2 7.9 .9M365.2 880l4.1-5.4 16.3-27.6 16.3-26.2 12.3-18.3 8.1-11.4 12.3-15.7 8.1-9.5 8.2-8.7 4.1-4 8.1-7.6 8.2-6.7 4.1-3.1 8.1-5.6 4.1-2.5 8.2-4.5 4-2 8.2-3.5 8.2-2.7 4-1.1 8.2-1.6 4.1-.6 8.1-.5 4.1 0 4.1 .2 7.9 .9M372.3 881.2l4.1-5.4 16.3-27.7 12.2-19.9 12.3-18.8 8.1-11.7 12.3-16.3 8.1-9.9 4.1-4.6 8.2-8.7 4.1-4 8.1-7.5 8.2-6.7 4.1-3.1 8.1-5.5 4.1-2.6 8.1-4.5 4.1-1.9 8.2-3.5 8.1-2.7 4.1-1.1 8.2-1.6 4.1-.5 8.1-.6 4.1 0 4.1 .2 7.9 .9M379.4 882.4l4.1-5.5 16.3-27.7 12.2-20 12.3-18.8 8.1-11.8 12.3-16.2 8.1-9.9 4.1-4.6 8.2-8.6 4-4.1 8.2-7.4 8.2-6.7 4-3.1 8.2-5.5 4.1-2.5 8.1-4.5 4.1-1.9 8.2-3.5 8.1-2.7 4.1-1 8.2-1.7 4.1-.5 8.1-.6 4.1 0 4.1 .2 7.8 .9M386.5 883.7l4-5.6 16.4-27.8 12.2-20.1 12.2-18.8 8.2-11.8 12.2-16.2 8.2-9.9 4.1-4.6 8.1-8.6 4.1-4 8.2-7.4 8.1-6.7 4.1-3 8.2-5.6 4.1-2.5 8.1-4.4 4.1-2 8.2-3.4 8.1-2.6 4.1-1.1 8.2-1.7 4-.5 8.2-.5 4.1 0 4.1 .1 7.8 .9M393.6 884.9l4-5.6 16.4-28 12.2-20.1 12.2-18.8 8.2-11.8 12.2-16.2 8.2-9.9 4.1-4.6 8.1-8.6 4.1-4 8.2-7.4 8.1-6.6 4.1-3 8.2-5.5 4-2.5 8.2-4.4 4.1-2 8.1-3.4 8.2-2.6 4.1-1.1 8.1-1.6 4.1-.6 8.2-.5 4.1 0 4 .1 7.9 .9M400.6 886.1l4.1-5.7 16.3-28 12.3-20.1 12.2-18.9 8.2-11.8 12.2-16.2 8.2-9.9 4.1-4.6 8.1-8.5 4.1-4 8.2-7.4 8.1-6.6 4.1-3 8.1-5.5 4.1-2.5 8.2-4.4 4.1-1.9 8.1-3.4 8.2-2.6 4.1-1.1 8.1-1.6 4.1-.6 8.2-.5 4 0 4.1 .2 7.9 .8M407.7 887.3l4.1-5.7 16.3-28.1 12.3-20.2 12.2-19 8.2-11.7 8.1-11.1 4.1-5.2 8.2-9.8 8.1-8.9 4.1-4.2 8.2-7.8 4-3.5 8.2-6.6 4.1-3 8.1-5.4 4.1-2.5 8.2-4.4 4.1-1.9 8.1-3.4 8.2-2.6 4.1-1.1 8.1-1.6 4.1-.5 8.1-.6 4.1 0 4.1 .2 7.9 .8M414.8 888.6l4.1-5.9 16.3-28.2 12.2-20.2 12.3-19 8.1-11.8 8.2-11 4.1-5.2 8.1-9.8 8.2-8.9 4.1-4.2 8.1-7.7 4.1-3.6 8.2-6.5 4.1-3 8.1-5.4 4.1-2.4 8.2-4.4 4-1.9 8.2-3.4 8.2-2.6 4-1.1 8.2-1.6 4.1-.5 8.1-.6 4.1 0 4.1 .2 7.9 .8M421.9 889.8l4.1-5.9 16.3-28.3 12.2-20.3 12.3-19 8.1-11.8 8.2-11 4.1-5.2 8.1-9.8 8.2-8.9 4.1-4.2 8.1-7.7 4.1-3.5 8.2-6.5 4-3 8.2-5.4 4.1-2.4 8.1-4.3 4.1-1.9 8.2-3.3 8.1-2.7 4.1-1.1 8.2-1.6 4.1-.5 8.1-.6 4.1 0 4.1 .2 7.8 .9M429 891l4.1-6 16.3-28.3 12.2-20.3 12.3-19.1 8.1-11.8 8.2-11 4-5.2 8.2-9.8 8.2-8.9 4-4.1 8.2-7.7 4.1-3.5 8.1-6.5 4.1-3 8.2-5.3 4.1-2.4 8.1-4.4 4.1-1.9 8.2-3.2 8.1-2.7 4.1-1 8.2-1.6 4-.6 8.2-.5 4.1-.1 4.1 .2 7.8 .9M436.1 892.3l4-6.1 16.4-28.4 12.2-20.4 12.2-19.1 8.2-11.8 8.2-11 4-5.2 8.2-9.8 8.2-8.9 4-4.1 8.2-7.6 4.1-3.6 8.1-6.4 4.1-3 8.2-5.3 4-2.4 8.2-4.3 4.1-1.9 8.1-3.2 8.2-2.7 4.1-1 8.1-1.6 4.1-.6 8.2-.5 4.1 0 4 .1 7.9 .9M443.1 893.5l4.1-6.2 16.3-28.5 12.3-20.4 12.2-19.1 8.2-11.8 8.1-11 4.1-5.2 8.2-9.8 8.1-8.9 4.1-4.1 8.2-7.6 4.1-3.5 8.1-6.4 4.1-2.9 8.2-5.3 4-2.4 8.2-4.3 4.1-1.9 8.1-3.2 8.2-2.7 4.1-1 8.1-1.6 4.1-.5 8.2-.6 4 0 4.1 .1 7.9 .9M450.2 894.7l4.1-6.2 16.3-28.6 12.3-20.5 12.2-19.1 8.2-11.8 8.1-11.1 4.1-5.2 8.2-9.7 8.1-8.8 4.1-4.2 8.2-7.5 4-3.5 8.2-6.4 4.1-2.9 8.1-5.3 4.1-2.4 8.2-4.2 4.1-1.9 8.1-3.2 8.2-2.6 4.1-1.1 8.1-1.6 4.1-.5 8.2-.6 4 0 4.1 .2 7.9 .8M457.3 895.9l4.1-6.2 16.3-28.7 12.3-20.6 12.2-19.1 8.1-11.9 8.2-11 4.1-5.2 8.1-9.7 8.2-8.8 4.1-4.1 8.1-7.6 4.1-3.5 8.2-6.3 4.1-2.9 8.1-5.3 4.1-2.3 8.2-4.2 4-1.9 8.2-3.2 8.2-2.6 4-1.1 8.2-1.6 4.1-.5 8.1-.6 4.1 0 4.1 .2 7.9 .8M464.4 897.2l4.1-6.4 16.3-28.8 12.2-20.5 12.3-19.2 8.1-11.9 8.2-11 4.1-5.2 8.1-9.7 8.2-8.8 4.1-4.1 8.1-7.5 4.1-3.5 8.2-6.3 4-2.9 8.2-5.2 4.1-2.4 8.1-4.2 4.1-1.8 8.2-3.2 8.1-2.6 4.1-1.1 8.2-1.5 4.1-.6 8.1-.6 4.1 0 4.1 .2 7.9 .8M471.5 898.4l4.1-6.4 16.3-28.9 12.2-20.6 12.3-19.2 8.1-11.9 8.2-11 4.1-5.2 8.1-9.7 8.2-8.8 4.1-4.1 8.1-7.5 4.1-3.4 8.2-6.3 4-2.9 8.2-5.2 4.1-2.3 8.1-4.2 4.1-1.8 8.2-3.2 8.1-2.6 4.1-1 8.2-1.6 4-.6 8.2-.5 4.1-.1 4.1 .2 7.8 .8M478.6 899.6l4-6.5 16.4-28.9 12.2-20.7 12.2-19.2 8.2-11.9 8.2-11 4-5.2 8.2-9.7 8.2-8.8 4-4 8.2-7.5 4.1-3.5 8.1-6.2 4.1-2.9 8.2-5.1 4.1-2.4 8.1-4.1 4.1-1.9 8.2-3.1 8.1-2.6 4.1-1 8.2-1.6 4-.6 8.2-.5 4.1 0 4.1 .1 7.8 .8M485.6 900.8l4.1-6.5 16.3-29 12.3-20.8 12.2-19.2 8.2-11.9 8.1-11.1 4.1-5.1 8.2-9.7 8.1-8.8 4.1-4 8.2-7.5 4.1-3.4 8.1-6.2 4.1-2.9 8.2-5.1 4-2.3 8.2-4.1 4.1-1.9 8.1-3.1 8.2-2.6 8.2-1.9 8.1-1.2 4.1-.4 8.2-.2 4 .1 4.1 .4 7.9 1.1M492.7 902.1l4.1-6.7 16.3-29.1 12.3-20.7 12.2-19.4 8.2-11.8 8.1-11.1 4.1-5.1 8.2-9.7 8.1-8.7 4.1-4.1 8.2-7.4 4-3.4 8.2-6.2 4.1-2.9 8.1-5.1 4.1-2.3 8.2-4.1 4.1-1.8 8.1-3.1 8.2-2.6 8.1-1.9 8.2-1.2 4.1-.4 8.1-.2 4.1 .1 4.1 .4 7.9 1.1M499.8 903.3l4.1-6.7 16.3-29.2 12.3-20.8 12.2-19.4 8.2-11.9 8.1-11 4.1-5.2 8.2-9.6 8.1-8.7 4.1-4.1 8.2-7.4 4-3.3 8.2-6.2 4.1-2.8 8.1-5.1 4.1-2.3 8.2-4.1 4-1.8 8.2-3.1 8.2-2.6 8.1-1.8 8.2-1.3 4.1-.4 8.1-.2 4.1 .1 4.1 .4 7.9 1.1M506.9 904.5l4.1-6.8 16.3-29.2 12.2-20.9 12.3-19.4 8.1-11.9 8.2-11 4.1-5.2 8.1-9.6 8.2-8.7 4.1-4 8.1-7.4 4.1-3.4 8.2-6.1 4.1-2.8 8.1-5.1 4.1-2.3 8.2-4 4-1.8 8.2-3.1 8.2-2.5 8.1-1.9 8.2-1.3 4-.4 8.2-.2 4.1 .2 4.1 .3 7.8 1.1M514 905.8l4.1-6.9 16.3-29.4 12.2-20.9 12.3-19.4 8.1-11.9 8.2-11 4.1-5.2 8.1-9.6 8.2-8.7 4.1-4 8.1-7.3 4.1-3.4 8.2-6.1 4-2.8 8.2-5 4.1-2.3 8.1-4 4.1-1.8 8.2-3.1 8.1-2.5 8.2-1.9 8.2-1.3 4-.3 8.2-.3 4.1 .2 4.1 .3 7.8 1.1M521.1 907l4.1-6.9 16.3-29.5 12.2-21 12.2-19.4 8.2-11.9 8.2-11 4-5.2 8.2-9.6 8.2-8.7 4-4 8.2-7.3 4.1-3.3 8.1-6.1 4.1-2.8 8.2-5 4.1-2.3 8.1-4 4.1-1.7 8.2-3.1 8.1-2.5 8.2-1.9 8.1-1.2 4.1-.4 8.2-.3 4.1 .2 4 .3 7.9 1.1M528.2 908.2l4-7 16.4-29.5 12.2-21 12.2-19.5 8.2-11.9 8.2-11.1 4-5.1 8.2-9.6 8.2-8.7 4-3.9 8.2-7.3 4.1-3.4 8.1-6 4.1-2.8 8.2-5 4-2.2 8.2-4 4.1-1.8 8.1-3 8.2-2.5 8.2-1.9 8.1-1.2 4.1-.4 8.2-.2 4 .1 4.1 .3 7.9 1.1M535.2 909.4l4.1-7 16.3-29.6 8.2-14.2 12.2-20.1 8.2-12.4 8.2-11.5 4-5.4 8.2-10 4.1-4.7 8.1-8.6 4.1-4 8.2-7.3 4.1-3.3 8.1-6 4.1-2.8 8.2-4.9 4-2.2 8.2-4 4.1-1.8 8.1-3 8.2-2.5 8.1-1.9 8.2-1.2 4.1-.4 8.1-.2 4.1 .1 4.1 .3 7.9 1.1M542.3 910.7l20.4-36.9 8.2-14.2 12.2-20.1 8.2-12.4 8.1-11.5 4.1-5.4 8.2-10.1 4.1-4.6 8.1-8.6 4.1-4 8.2-7.2 4-3.3 8.2-6 4.1-2.8 8.1-4.9 4.1-2.2 8.2-3.9 4.1-1.8 8.1-3 8.2-2.5 8.1-1.8 8.2-1.3 4.1-.4 8.1-.2 4.1 .1 4.1 .3 7.9 1.2M549.4 911.9l16.3-29.7 12.3-21.6 12.2-20.1 8.2-12.4 8.1-11.5 4.1-5.4 8.2-10.1 4-4.6 8.2-8.6 4.1-4 8.1-7.2 4.1-3.3 8.2-5.9 4.1-2.8 8.1-4.8 4.1-2.2 8.2-4 4-1.7 8.2-3 8.2-2.5 8.1-1.8 8.2-1.3 4.1-.3 8.1-.3 4.1 .1 4.1 .3 7.8 1.2M556.5 913.1l16.3-29.8 12.3-21.6 12.2-20.2 8.1-12.4 8.2-11.5 4.1-5.4 8.1-10.1 8.2-9 4.1-4.2 8.1-7.6 4.1-3.5 8.2-6.4 4.1-2.8 8.1-5.3 4.1-2.3 8.2-4.2 8.1-3.6 8.2-3 8.1-2.5 8.2-1.8 8.2-1.2 4-.4 8.2-.3 4.1 .2 4.1 .3 7.8 1.1M563.6 914.4l16.3-30 12.2-21.7 12.3-20.2 8.1-12.5 8.2-11.5 4.1-5.4 8.1-10 8.2-9 4.1-4.2 8.1-7.6 4.1-3.5 8.2-6.3 4-2.8 8.2-5.2 4.1-2.4 8.1-4.2 8.2-3.5 8.2-3 8.1-2.4 8.2-1.9 8.1-1.2 4.1-.4 8.2-.3 4.1 .2 4 .3 7.9 1.1M570.7 915.6l16.3-30.1 12.2-21.8 12.3-20.2 8.1-12.5 8.2-11.5 4.1-5.4 8.1-10 8.2-9 4.1-4.2 8.1-7.5 4.1-3.5 8.2-6.3 4-2.9 8.2-5.1 4.1-2.3 8.1-4.2 8.2-3.5 8.2-3 8.1-2.4 8.2-1.9 8.1-1.2 4.1-.4 8.2-.2 4 .1 4.1 .3 7.9 1.1M577.7 916.8l16.4-30.2 12.2-21.8 12.2-20.3 8.2-12.5 8.2-11.5 4-5.4 8.2-10 8.2-9 4-4.1 8.2-7.6 4.1-3.5 8.1-6.2 4.1-2.9 8.2-5.1 4.1-2.3 8.1-4.1 8.2-3.6 8.1-2.9 8.2-2.4 8.2-1.9 8.1-1.2 4.1-.4 8.2-.2 4 .1 4.1 .3 7.9 1.1M584.8 918l16.4-30.3 12.2-21.9 12.2-20.3 8.2-12.5 8.1-11.5 4.1-5.4 8.2-10 8.1-9 4.1-4.1 8.2-7.6 4.1-3.4 8.1-6.2 4.1-2.9 8.2-5.1 4-2.2 8.2-4.2 8.2-3.5 8.1-2.9 8.2-2.4 8.1-1.8 8.2-1.3 4.1-.3 8.1-.3 4.1 .1 4.1 .3 7.9 1.1M591.9 919.3l16.3-30.5 12.3-21.9 12.2-20.4 8.2-12.5 8.1-11.5 4.1-5.4 8.2-10 8.1-9 4.1-4.1 8.2-7.5 4-3.4 8.2-6.3 4.1-2.8 8.1-5 4.1-2.3 8.2-4.1 8.1-3.5 8.2-2.9 8.2-2.4 8.1-1.8 8.2-1.2 4.1-.4 8.1-.3 4.1 .1 4.1 .3 7.8 1.1M599 920.5l16.3-30.6 12.3-22 12.2-20.4 8.2-12.5 8.1-11.6 4.1-5.3 8.2-10 8.1-9 4.1-4.1 8.2-7.5 4-3.4 8.2-6.2 4.1-2.8 8.1-5 4.1-2.3 8.2-4 8.1-3.5 8.2-2.9 8.1-2.4 8.2-1.8 8.2-1.2 4-.4 8.2-.3 4.1 .1 4.1 .3 7.8 1.1"/>
<path fill="none" stroke="#e69f00" stroke-width="1.0" d="M790.6 752.3l8.3 1.4M785.9 751.8l17.1 2.9M781.1 751.5l26 4.4M776 751.3l35.1 6M771.8 751.5l43.4 7.3M767.9 751.9l51.4 8.7M763.8 752.4l59.6 10M759.9 753l67.6 11.5M755.4 753.8l76.1 12.9M751.8 754.7l83.8 14.3M748.2 755.8l91.5 15.6M744 756.8l99.8 17.1M740.1 758l107.8 18.5M736.5 759.3l115.4 19.8M733.2 760.6l122.8 21.2M730.2 762l129.9 22.5M734.4 760.2l5.3 3.4M737.6 759l9.2 5.8M740.8 757.8l13 8.3M744.3 756.8l16.6 10.5M747.9 755.8l20.1 12.7M751.1 754.8l11.7 7.1 12.3 7.9M754.6 754l11.3 6.6 16.3 10.4M758.1 753.3l6.7 3.6 8.1 4.9 16.4 10.4M761.9 752.8l5.9 3.1 8.1 4.6 8.2 5 12.2 7.9M765.6 752.4l9.3 4.7 8.1 4.6 8.2 5.1 12.2 7.9M768.9 751.8l9 4.3 8.1 4.4 12.3 7.5 12.2 7.9M772.4 751.5l8.5 3.8 12.2 6.4 12.3 7.5 12.2 7.9M776.3 751.5l7.6 3.1 4.1 1.9 8.1 4.2 12.3 7.1 16.3 10.6M779.3 751.3l7.6 2.7 4.1 1.8 4 1.9 8.2 4.2 12.2 7.1 16.4 10.6M783.4 751.6l6.5 2.1 4.1 1.5 4 1.8 8.2 3.9 12.2 6.9 8.2 5 12.2 8M786.9 751.8l6 1.7 8.2 2.9 4 1.8 8.2 3.9 12.2 6.9 8.2 5 12.2 8M790.7 752.2l5.2 1.3 8.2 2.6 4 1.5 8.2 3.6 8.2 4.3 8.1 4.7 8.2 5.1 12.2 8M794.8 752.8l4.1 .9 8.2 2.2 8.1 2.9 8.2 3.6 8.1 4.3 8.2 4.7 8.2 5.1 12.2 8"/>
<path fill="none" stroke="#000000" stroke-width="0.9" d="M145.6 841.9l453.4 78.6M730.2 762l129.9 22.5M145.6 841.9l1.3-.7"/>
<path d="M145.6 841.9l5.7 -3.0" stroke="#000" stroke-width="0.9"/><path d="M145.6 705.7V978.4M145.6 705.7h8.6M145.6 773.9h8.6M145.6 841.9h8.6M145.6 910.0h8.6M145.6 978.4h8.6" stroke="#222" stroke-width="1" fill="none"/>
<text x="127.3" y="715.7" font-size="36.5" text-anchor="end" textLength="50.3" lengthAdjust="spacingAndGlyphs">100</text>
<text x="127.3" y="783.9" font-size="36.5" text-anchor="end" textLength="34.2" lengthAdjust="spacingAndGlyphs">50</text>
<text x="127.3" y="851.9" font-size="36.5" text-anchor="end" textLength="16.3" lengthAdjust="spacingAndGlyphs">0</text>
<text x="127.3" y="920.0" font-size="36.5" text-anchor="end" >&#8722;50</text>
<text x="127.3" y="988.4" font-size="36.5" text-anchor="end" >&#8722;100</text>
<text transform="translate(25.8 842.9) rotate(-90)" font-size="34.5" text-anchor="middle" textLength="196.8" lengthAdjust="spacingAndGlyphs">Energy (meV)</text>
<text x="503" y="568.5" font-size="36" text-anchor="middle">(b)</text>
<text x="300" y="920.2" font-size="34.5"><tspan font-style="italic">k</tspan><tspan font-style="italic" font-size="24" dy="4.7">x</tspan></text>
<text x="813" y="878.8" font-size="34.5"><tspan font-style="italic">k</tspan><tspan font-style="italic" font-size="24" dy="4.7">y</tspan></text>
<text x="580" y="970.5" font-size="34.5" textLength="86.7" lengthAdjust="spacingAndGlyphs">(2<tspan font-style="italic">&#960;</tspan>, 0)</text>
<text x="883.3" y="799.4" font-size="34.5" textLength="110" lengthAdjust="spacingAndGlyphs">(2<tspan font-style="italic">&#960;</tspan>, 2<tspan font-style="italic">&#960;</tspan>)</text>
<text x="665" y="570.8" font-size="34.5" textLength="164.7" lengthAdjust="spacingAndGlyphs">Re<tspan font-style="italic">&#916;</tspan><tspan font-style="italic" font-size="24" dy="5">xd</tspan><tspan dy="-5">(</tspan><tspan font-weight="bold">k</tspan>, 0)</text>
<path d="M851 561.6H933.8" stroke="#9400d3" stroke-width="0.9"/>
<text x="665" y="601.5999999999999" font-size="34.5" textLength="164.7" lengthAdjust="spacingAndGlyphs">Re<tspan font-style="italic">&#916;</tspan><tspan font-style="italic" font-size="24" dy="5">yd</tspan><tspan dy="-5">(</tspan><tspan font-weight="bold">k</tspan>, 0)</text>
<path d="M851 592.5H933.8" stroke="#56b4e9" stroke-width="0.9"/><path fill="none" stroke="#9400d3" stroke-width="1.0" d="M145.6 1384.9l7.1 2.6 21.2 20.9 21.3 20.5 21.2 19.5 14.2 12.3 14.2 11.6 7.1 5.5 14.1 10.3 7.1 4.8 14.2 8.9 14.2 7.9 7 3.6 7.1 3.2 7.1 3 7.1 2.7 7.1 2.5 7.1 2.2 7 1.8 7.1 1.6 7.1 1.4 7.1 1 7.1 .8 7.1 .6 7.1 .2 7 0 7.1-.2 7.1-.5 7.1-.7 14.2-2.1 14.1-3 14.2-3.7 14.2-4.5 14.1-5.1 14.2-5.7 14.2-6.1 14.1-6.6 21.3-10.4 42.5-22.2M149.7 1382.8l7.1 2.5 21.2 20.7 21.3 20.2 21.2 19.2 14.2 12.1 14.2 11.4 7 5.4 14.2 10.1 7.1 4.7 14.2 8.7 14.1 7.7 7.1 3.5 7.1 3.2 7.1 2.9 7.1 2.6 7.1 2.4 7 2 7.1 1.8 7.1 1.5 7.1 1.3 7.1 1 7.1 .7 7 .4 7.1 .2 7.1-.1 7.1-.3 7.1-.6 7.1-.8 14.1-2.3 14.2-3.2 14.2-3.9 14.1-4.7 14.2-5.3 14.2-5.8 14.2-6.4 14.1-6.7 21.3-10.8 42.5-22.8M153.8 1378.1l7 2.6 21.3 20.5 21.3 19.9 21.2 19.1 14.2 12 14.1 11.3 7.1 5.3 14.2 10 7.1 4.7 14.1 8.6 14.2 7.6 7.1 3.4 7.1 3.1 7.1 2.9 7.1 2.6 7 2.3 7.1 2 7.1 1.7 7.1 1.5 7.1 1.2 7.1 .9 7 .7 7.1 .3 7.1 .2 7.1-.2 7.1-.3 7.1-.7 7-.8 14.2-2.4 14.2-3.3 14.2-4 14.1-4.8 14.2-5.4 14.2-6 14.1-6.4 14.2-6.9 21.3-11 42.5-23.2M157.8 1370.5l7.1 2.6 21.3 20.5 21.2 19.9 21.3 19 14.2 12 14.1 11.3 7.1 5.3 14.2 10 7.1 4.7 14.1 8.6 14.2 7.5 7.1 3.4 7.1 3.2 7 2.8 7.1 2.6 7.1 2.3 7.1 2 7.1 1.7 7.1 1.5 7.1 1.2 7 .9 7.1 .7 7.1 .3 7.1 .2 7.1-.2 7.1-.4 7-.6 7.1-.9 14.2-2.4 14.2-3.2 14.1-4.1 14.2-4.8 14.2-5.4 14.1-6 14.2-6.5 14.2-6.9 21.2-11 42.5-23.3M161.9 1362.9l7.1 2.7 21.3 20.4 21.2 19.9 21.3 19 14.1 12 14.2 11.2 7.1 5.3 14.2 10 7 4.7 14.2 8.6 14.2 7.5 7.1 3.4 7 3.1 7.1 2.9 7.1 2.5 7.1 2.3 7.1 2.1 7.1 1.7 7.1 1.5 7 1.1 7.1 .9 7.1 .7 7.1 .4 7.1 .1 7.1-.1 7-.4 7.1-.7 7.1-.8 14.2-2.5 14.1-3.2 14.2-4.1 14.2-4.8 14.2-5.5 14.1-6 14.2-6.5 14.2-7 21.2-11 42.5-23.4M166 1355.4l7.1 2.7 21.2 20.4 21.3 19.9 21.2 18.9 14.2 11.9 14.2 11.3 7.1 5.3 14.1 10 7.1 4.6 14.2 8.6 14.2 7.5 7 3.4 7.1 3.1 7.1 2.9 7.1 2.6 7.1 2.2 7.1 2.1 7 1.7 7.1 1.4 7.1 1.2 7.1 .9 7.1 .7 7.1 .4 7.1 .1 7-.2 7.1-.4 7.1-.6 7.1-.9 14.2-2.4 14.1-3.3 14.2-4.1 14.2-4.8 14.1-5.5 14.2-6 14.2-6.6 14.1-6.9 21.3-11.1 42.5-23.5M170.1 1347.9l7.1 2.8 21.2 20.3 21.3 19.9 21.2 18.9 14.2 11.9 14.2 11.2 7 5.3 14.2 10 7.1 4.6 14.2 8.6 14.1 7.5 7.1 3.4 7.1 3.1 7.1 2.9 7.1 2.5 7.1 2.3 7 2 7.1 1.8 7.1 1.4 7.1 1.2 7.1 .9 7.1 .6 7 .4 7.1 .1 7.1-.1 7.1-.4 7.1-.6 7.1-.9 14.1-2.5 14.2-3.3 14.2-4.1 14.1-4.8 14.2-5.5 14.2-6 14.2-6.6 14.1-7 21.3-11.1 42.5-23.6M174.2 1340.4l7 2.9 21.3 20.3 21.2 19.8 21.3 18.9 14.2 11.9 14.1 11.2 7.1 5.3 14.2 10 7.1 4.6 14.1 8.6 14.2 7.5 7.1 3.4 7.1 3.1 7.1 2.8 7.1 2.6 7 2.3 7.1 2 7.1 1.7 7.1 1.5 7.1 1.1 7.1 .9 7 .7 7.1 .4 7.1 .1 7.1-.2 7.1-.4 7.1-.6 7-.9 14.2-2.4 14.2-3.4 14.2-4.1 14.1-4.8 14.2-5.5 14.2-6.1 14.1-6.6 14.2-7 21.3-11.2 42.5-23.6M178.2 1333.1l7.1 2.9 21.3 20.3 21.2 19.8 21.3 18.8 14.1 11.9 14.2 11.2 7.1 5.3 14.2 9.9 7.1 4.7 14.1 8.5 14.2 7.5 7.1 3.4 7.1 3.1 7 2.9 7.1 2.5 7.1 2.3 7.1 2 7.1 1.7 7.1 1.5 7.1 1.2 7 .9 7.1 .6 7.1 .4 7.1 .1 7.1-.1 7.1-.4 7-.7 7.1-.9 14.2-2.4 14.2-3.3 14.1-4.2 14.2-4.8 14.2-5.5 14.1-6.1 14.2-6.6 14.2-7.1 21.2-11.2 42.5-23.7M182.3 1325.8l7.1 3 21.3 20.2 21.2 19.8 21.3 18.9 14.1 11.8 14.2 11.2 7.1 5.3 14.2 9.9 7 4.6 14.2 8.6 14.2 7.5 7.1 3.4 7 3.1 7.1 2.8 7.1 2.6 7.1 2.3 7.1 2 7.1 1.7 7 1.5 7.1 1.1 7.1 .9 7.1 .7 7.1 .4 7.1 .1 7.1-.2 7-.4 7.1-.6 7.1-.9 14.2-2.5 14.1-3.3 14.2-4.1 14.2-4.9 14.2-5.5 14.1-6.1 14.2-6.7 14.2-7 21.2-11.3 42.5-23.8M186.4 1318.6l7.1 3 21.2 20.3 21.3 19.7 21.2 18.9 14.2 11.8 14.2 11.2 7.1 5.3 14.1 9.9 7.1 4.6 14.2 8.5 14.2 7.6 7 3.3 7.1 3.2 7.1 2.8 7.1 2.5 7.1 2.3 7.1 2 7 1.8 7.1 1.4 7.1 1.2 7.1 .9 7.1 .7 7.1 .3 7.1 .1 7-.1 7.1-.4 7.1-.6 7.1-.9 14.2-2.5 14.1-3.3 14.2-4.2 14.2-4.8 14.1-5.6 14.2-6.1 14.2-6.7 14.1-7 21.3-11.3 42.5-23.9M190.5 1311.5l7.1 3.1 21.2 20.3 21.3 19.7 21.2 18.8 14.2 11.9 14.2 11.1 7 5.3 14.2 9.9 7.1 4.6 14.2 8.6 14.1 7.5 7.1 3.4 7.1 3.1 7.1 2.8 7.1 2.6 7.1 2.2 7 2.1 7.1 1.7 7.1 1.4 7.1 1.2 7.1 .9 7.1 .7 7 .4 7.1 .1 7.1-.2 7.1-.4 7.1-.6 7.1-.9 14.1-2.5 14.2-3.3 14.2-4.1 14.1-4.9 14.2-5.6 14.2-6.1 14.1-6.7 14.2-7.1 21.3-11.3 42.5-23.9M194.6 1304.6l7 3.2 21.3 20.2 21.2 19.7 21.3 18.8 14.2 11.8 14.1 11.2 7.1 5.2 14.2 10 7.1 4.6 14.1 8.5 14.2 7.5 7.1 3.4 7.1 3.1 7.1 2.9 7.1 2.5 7 2.3 7.1 2 7.1 1.8 7.1 1.4 7.1 1.2 7.1 .9 7 .7 7.1 .3 7.1 .2 7.1-.2 7.1-.4 7.1-.6 7-.9 14.2-2.5 14.2-3.3 14.2-4.1 14.1-4.9 14.2-5.6 14.2-6.2 14.1-6.6 14.2-7.2 21.2-11.3 42.6-24M198.6 1297.8l7.1 3.2 21.3 20.2 21.2 19.7 21.3 18.8 14.1 11.8 14.2 11.2 7.1 5.2 14.2 10 7.1 4.6 14.1 8.5 14.2 7.5 7.1 3.4 7.1 3.1 7 2.9 7.1 2.5 7.1 2.3 7.1 2 7.1 1.8 7.1 1.4 7.1 1.2 7 1 7.1 .6 7.1 .4 7.1 .1 7.1-.1 7.1-.4 7-.7 7.1-.8 14.2-2.5 14.2-3.3 14.1-4.2 14.2-4.9 14.2-5.5 14.1-6.2 14.2-6.7 14.2-7.1 21.2-11.4 42.5-24.1M202.7 1291.2l7.1 3.3 21.3 20.1 21.2 19.7 21.3 18.8 14.1 11.8 14.2 11.1 7.1 5.3 14.2 9.9 7 4.7 14.2 8.5 14.2 7.5 7.1 3.4 7 3.1 7.1 2.9 7.1 2.5 7.1 2.3 7.1 2 7.1 1.8 7 1.5 7.1 1.1 7.1 1 7.1 .6 7.1 .4 7.1 .1 7.1-.1 7-.4 7.1-.6 7.1-.9 14.2-2.5 14.1-3.3 14.2-4.1 14.2-4.9 14.1-5.6 14.2-6.2 14.2-6.7 14.2-7.1 21.2-11.4 42.5-24.1M206.8 1284.7l7.1 3.3 21.2 20.2 21.3 19.7 21.2 18.8 14.2 11.8 14.2 11.1 7.1 5.3 14.1 9.9 7.1 4.6 14.2 8.5 14.2 7.6 7 3.4 7.1 3.1 7.1 2.8 7.1 2.6 7.1 2.3 7.1 2 7 1.8 7.1 1.4 7.1 1.2 7.1 1 7.1 .6 7.1 .4 7 .2 7.1-.2 7.1-.4 7.1-.6 7.1-.9 14.2-2.4 14.1-3.3 14.2-4.2 14.2-4.9 14.1-5.6 14.2-6.1 14.2-6.7 14.1-7.2 21.3-11.4 21.2-11.9 21.3-12.3M210.9 1278.4l7.1 3.4 21.2 20.2 21.3 19.6 21.2 18.8 14.2 11.8 14.2 11.1 7 5.3 14.2 9.9 7.1 4.6 14.2 8.6 14.1 7.5 7.1 3.4 7.1 3.1 7.1 2.9 7.1 2.6 7.1 2.3 7 2 7.1 1.8 7.1 1.4 7.1 1.2 7.1 1 7.1 .6 7 .4 7.1 .2 7.1-.1 7.1-.4 7.1-.7 7.1-.8 14.1-2.5 14.2-3.3 14.2-4.1 14.1-4.9 14.2-5.6 14.2-6.2 14.1-6.7 14.2-7.2 21.3-11.4 21.2-11.9 21.3-12.3M215 1272.2l7 3.5 21.3 20.2 21.2 19.7 14.2 12.6 14.2 12.1 14.2 11.5 14.1 10.7 14.2 10 7.1 4.6 14.1 8.5 14.2 7.6 7.1 3.4 7.1 3.1 7.1 2.9 7 2.5 7.1 2.4 7.1 2 7.1 1.8 7.1 1.4 7.1 1.3 7.1 .9 7 .7 7.1 .4 7.1 .1 7.1-.1 7.1-.4 7.1-.6 7-.9 14.2-2.4 14.2-3.3 14.2-4.1 14.1-4.9 14.2-5.6 14.2-6.2 14.1-6.7 14.2-7.2 21.2-11.4 21.3-12 21.3-12.3M219 1266.3l7.1 3.6 21.3 20.1 21.2 19.7 14.2 12.6 14.2 12.1 14.1 11.5 14.2 10.8 14.2 9.9 7.1 4.6 14.1 8.6 14.2 7.6 7.1 3.3 7.1 3.2 7 2.8 7.1 2.6 7.1 2.4 7.1 2 7.1 1.8 7.1 1.5 7 1.2 7.1 .9 7.1 .7 7.1 .4 7.1 .2 7.1-.1 7.1-.4 7-.6 7.1-.9 14.2-2.4 14.2-3.3 14.1-4.1 14.2-4.9 14.2-5.6 14.1-6.2 14.2-6.7 14.2-7.2 21.2-11.4 21.3-12 21.2-12.3M223.1 1260.6l7.1 3.6 21.3 20.2 21.2 19.6 14.2 12.7 14.1 12.1 14.2 11.5 14.2 10.7 14.1 10 7.1 4.6 14.2 8.6 14.2 7.5 14.1 6.6 7.1 2.9 7.1 2.6 7.1 2.3 7.1 2 7.1 1.8 7 1.5 7.1 1.2 7.1 1 7.1 .7 7.1 .4 7.1 .2 7.1-.1 7-.4 7.1-.6 7.1-.8 14.2-2.4 14.1-3.3 14.2-4.2 14.2-4.8 14.1-5.6 14.2-6.2 14.2-6.7 14.2-7.2 21.2-11.5 21.3-12 21.2-12.3M227.2 1255l7.1 3.7 21.2 20.2 21.3 19.7 14.2 12.6 14.1 12.1 14.2 11.5 14.2 10.8 14.1 9.9 7.1 4.7 14.2 8.6 14.1 7.6 14.2 6.5 7.1 2.9 7.1 2.6 7.1 2.3 7.1 2.1 7 1.8 7.1 1.5 7.1 1.2 7.1 1 7.1 .7 7.1 .4 7 .2 7.1-.1 7.1-.3 7.1-.6 7.1-.9 14.2-2.4 14.1-3.2 14.2-4.2 14.2-4.8 14.1-5.6 14.2-6.2 14.2-6.7 14.1-7.2 21.3-11.5 21.2-12 21.3-12.3M231.3 1249.7l7.1 3.8 21.2 20.2 21.3 19.7 14.1 12.6 14.2 12.1 14.2 11.5 14.1 10.8 14.2 10 7.1 4.6 14.2 8.6 14.1 7.6 14.2 6.6 7.1 2.9 7.1 2.6 7.1 2.3 7 2.1 7.1 1.8 7.1 1.5 7.1 1.3 7.1 1 7.1 .7 7 .4 7.1 .2 7.1-.1 7.1-.3 7.1-.6 7.1-.9 14.1-2.3 14.2-3.3 14.2-4.1 14.1-4.9 14.2-5.5 14.2-6.2 14.1-6.7 14.2-7.2 21.3-11.5 21.2-12 21.3-12.3M235.4 1244.7l7 3.8 21.3 20.2 21.2 19.7 14.2 12.6 14.2 12.2 14.1 11.5 14.2 10.7 14.2 10 7.1 4.7 14.1 8.6 14.2 7.6 14.2 6.6 7.1 2.9 7 2.6 7.1 2.4 7.1 2.1 7.1 1.8 7.1 1.5 7.1 1.3 7.1 1 7 .7 7.1 .4 7.1 .2 7.1-.1 7.1-.3 7.1-.6 7-.8 14.2-2.3 14.2-3.3 14.2-4.1 14.1-4.8 14.2-5.6 14.2-6.2 14.1-6.7 14.2-7.2 21.2-11.4 21.3-12.1 21.3-12.3M239.4 1239.8l7.1 4 21.3 20.1 21.2 19.7 14.2 12.7 14.2 12.1 14.1 11.5 14.2 10.8 14.2 10 7.1 4.7 14.1 8.6 14.2 7.7 14.2 6.6 7 2.9 7.1 2.6 7.1 2.4 7.1 2.1 7.1 1.8 7.1 1.6 7 1.2 7.1 1 7.1 .8 7.1 .4 7.1 .2 7.1 0 7.1-.4 7-.5 7.1-.8 14.2-2.4 14.2-3.2 14.1-4.1 14.2-4.8 14.2-5.6 14.1-6.1 14.2-6.8 14.2-7.1 21.2-11.5 21.3-12.1 21.2-12.3M243.5 1235.3l7.1 3.9 21.2 20.2 21.3 19.7 14.2 12.7 14.1 12.2 14.2 11.5 14.2 10.8 14.1 10 7.1 4.7 14.2 8.6 14.2 7.7 14.1 6.6 7.1 2.9 7.1 2.7 7.1 2.4 7.1 2.1 7.1 1.8 7 1.6 7.1 1.2 7.1 1.1 7.1 .7 7.1 .5 7.1 .2 7.1-.1 7-.3 7.1-.5 7.1-.8 14.2-2.4 14.1-3.2 14.2-4 14.2-4.9 14.1-5.5 14.2-6.2 14.2-6.7 14.2-7.1 21.2-11.5 21.3-12.1 21.2-12.3M247.6 1230.9l7.1 4.1 21.2 20.2 21.3 19.7 14.2 12.7 14.1 12.1 14.2 11.6 14.2 10.8 14.1 10 7.1 4.7 14.2 8.7 14.1 7.6 14.2 6.7 7.1 2.9 7.1 2.7 7.1 2.4 7.1 2.1 7 1.8 7.1 1.6 7.1 1.3 7.1 1 7.1 .8 7.1 .5 7 .2 7.1 0 7.1-.3 7.1-.6 7.1-.8 14.2-2.3 14.1-3.2 14.2-4 14.2-4.8 14.1-5.5 14.2-6.2 14.2-6.7 14.1-7.2 21.3-11.4 21.2-12.1 21.3-12.3M251.7 1226.8l7.1 4.2 21.2 20.2 21.3 19.7 14.1 12.7 14.2 12.2 14.2 11.5 14.1 10.9 14.2 10 7.1 4.7 14.2 8.7 14.1 7.7 14.2 6.7 7.1 2.9 7.1 2.7 7 2.4 7.1 2.1 7.1 1.9 7.1 1.6 7.1 1.3 7.1 1 7.1 .8 7 .5 7.1 .2 7.1 0 7.1-.3 7.1-.5 7.1-.8 14.1-2.3 14.2-3.2 14.2-4 14.1-4.8 14.2-5.5 14.2-6.1 14.1-6.7 14.2-7.2 21.3-11.5 21.2-12 21.3-12.4M255.8 1223l7 4.2 21.3 20.3 21.2 19.7 14.2 12.7 14.2 12.2 14.1 11.5 14.2 10.9 14.2 10 7.1 4.7 14.1 8.7 14.2 7.8 14.2 6.7 7.1 2.9 7 2.7 7.1 2.4 7.1 2.2 7.1 1.9 7.1 1.6 7.1 1.3 7.1 1 7 .8 7.1 .5 7.1 .3 7.1 0 7.1-.3 7.1-.5 7-.8 14.2-2.2 14.2-3.2 14.1-4 14.2-4.8 14.2-5.5 14.2-6.1 14.1-6.7 14.2-7.2 21.2-11.4 21.3-12.1 21.3-12.3M259.8 1219.4l7.1 4.3 21.3 20.3 21.2 19.7 14.2 12.8 14.2 12.1 14.1 11.6 14.2 10.9 14.2 10.1 7.1 4.7 14.1 8.7 14.2 7.8 14.2 6.7 7 3 7.1 2.7 7.1 2.4 7.1 2.2 7.1 1.8 7.1 1.7 7 1.3 7.1 1.1 7.1 .8 7.1 .5 7.1 .2 7.1 0 7.1-.2 7-.5 7.1-.8 14.2-2.2 14.2-3.1 14.1-4 14.2-4.8 14.2-5.5 14.1-6.1 14.2-6.7 14.2-7.1 21.2-11.5 21.3-12 21.2-12.4M263.9 1216.1l7.1 4.4 21.2 20.3 21.3 19.8 14.2 12.7 14.1 12.2 14.2 11.6 14.2 10.9 14.1 10.1 7.1 4.7 14.2 8.7 14.2 7.8 14.1 6.8 7.1 2.9 7.1 2.8 7.1 2.4 7.1 2.2 7.1 1.9 7 1.6 7.1 1.4 7.1 1 7.1 .9 7.1 .5 7.1 .3 7 0 7.1-.3 7.1-.4 7.1-.8 14.2-2.2 14.1-3.1 14.2-4 14.2-4.7 14.1-5.5 14.2-6.1 14.2-6.7 14.2-7.1 21.2-11.5 21.3-12 21.2-12.3M268 1213.1l7.1 4.5 21.2 20.3 21.3 19.8 14.2 12.7 14.1 12.2 14.2 11.6 7.1 5.6 14.1 10.5 7.1 4.9 14.2 9.3 7.1 4.2 14.1 7.8 7.1 3.6 7.1 3.2 7.1 3 7.1 2.7 7.1 2.5 7.1 2.2 7 1.9 7.1 1.7 7.1 1.3 7.1 1.1 7.1 .8 7.1 .6 7 .3 7.1 0 7.1-.2 7.1-.5 7.1-.7 7.1-1 14.1-2.6 7.1-1.7 14.2-3.9 14.2-4.8 14.1-5.4 14.2-6.1 14.2-6.7 14.1-7.1 14.2-7.6M672.3 1312.9l4-2.2M677.3 1310.1l1.3-.7M679.1 1309.1l9.7-5.4M691.5 1302.1l.3-.1M693.3 1301.1l.3-.1M695.1 1300.1l.2-.1M696.8 1299.1l.3-.1M698.1 1298.4l.3-.2M699.9 1297.4l.2-.2M701.1 1296.6l.8-.4M702.9 1295.6l.8-.4M704.2 1294.9l.7-.5M706 1293.9l.7-.5M707.2 1293.1l.8-.4M708.5 1292.4l1-.6M716.6 1287.7l4.8-2.8M272.1 1210.4l7.1 4.5 35.4 33.6 14.1 12.9 14.2 12.6 14.2 11.9 7.1 5.7 14.1 11 7.1 5.1 14.2 9.7 7.1 4.5 14.1 8.4 7.1 3.7 14.2 6.8 7.1 3.1 7.1 2.7 7 2.5 7.1 2.2 7.1 1.9 7.1 1.7 7.1 1.4 7.1 1.1 7.1 .8 7 .6 7.1 .3 7.1 0 7.1-.2 7.1-.5 7.1-.7 7-.9 7.1-1.2 14.2-3.1 7.1-1.9 14.2-4.3 14.1-5.1 14.2-5.7 14.2-6.4 11.5-5.6M656.2 1321.4l.8-.4M276.2 1207.9l7 4.6 35.5 33.6 14.1 13 14.2 12.5 14.2 12 7 5.7 14.2 11 14.2 10.1 7.1 4.8 14.1 8.8 7.1 4 14.2 7.4 7.1 3.3 7.1 3 7 2.7 7.1 2.5 7.1 2.2 7.1 2 7.1 1.7 7.1 1.4 7 1.1 7.1 .8 7.1 .6 7.1 .3 7.1 .1 7.1-.2 7.1-.4 7-.7 7.1-1 7.1-1.2 14.2-3 7.1-1.9 14.1-4.3 14.2-5 12.8-5.2M629.6 1333.9l1.9-.8M634.2 1331.9l.5-.2M280.2 1205.7l7.1 4.7 35.4 33.6 14.2 13 14.2 12.5 14.1 12 7.1 5.8 14.2 10.9 14.2 10.2 7 4.8 14.2 8.8 14.2 7.9 7.1 3.5 14.1 6.4 7.1 2.8 7.1 2.5 7.1 2.2 7.1 1.9 7.1 1.7 7 1.4 7.1 1.2 7.1 .9 7.1 .6 7.1 .3 7.1 .1 7.1-.2 7-.5 7.1-.6 14.2-2.2 7.1-1.3 14.1-3.5 7.1-2.1 12.8-4.1M612.3 1340.7l2.3-.8M615.1 1339.7l2.2-.8M618.4 1338.5l.2-.1M284.3 1203.8l7.1 4.7 35.4 33.7 21.3 19.3 21.2 18.3 14.2 11.3 14.2 10.6 7 5 14.2 9.3 14.2 8.4 7.1 3.8 14.1 6.9 7.1 3.1 7.1 2.7 7.1 2.6 7.1 2.2 7.1 2 7 1.7 7.1 1.4 7.1 1.2 7.1 .8 7.1 .7 7.1 .3 7 .1 7.1-.2 7.1-.4 7.1-.7 7.1-.9 14.2-2.5 7-1.6 11.1-3M600.6 1344.4l1.9-.5M603.1 1343.7l.3-.1M604 1343.4l.8-.2M605.4 1343l.3-.1M606.2 1342.7l.3-.1M288.4 1202.1l7.1 4.8 35.4 33.8 21.2 19.3 21.3 18.3 14.2 11.3 14.1 10.6 7.1 5 14.2 9.4 14.2 8.4 14.1 7.4 14.2 6.4 7.1 2.8 7.1 2.5 7.1 2.3 7 2 7.1 1.7 7.1 1.4 7.1 1.2 7.1 .9 7.1 .6 7 .4 7.1 .1 7.1-.2 7.1-.4 7.1-.6 7.1-.9 7-1.2 12.5-2.6M591.9 1346.7l.6-.1M593 1346.4l.3 0M593.9 1346.2l.5-.1M595 1345.9l.3 0M595.9 1345.7l.2-.1M596.7 1345.5l.3-.1M598.7 1345l.3-.1M292.5 1200.8l7.1 4.9 35.4 33.7 21.2 19.4 21.3 18.2 14.1 11.4 14.2 10.6 7.1 5 14.2 9.4 14.1 8.4 14.2 7.5 14.2 6.4 7.1 2.8 7 2.6 7.1 2.2 7.1 2 7.1 1.8 7.1 1.4 7.1 1.2 7.1 .9 7 .7 7.1 .4 7.1 .1 7.1-.2 7.1-.4 7.1-.6 7-.9 8.3-1.4M584.6 1348.2l.9-.1M586 1347.9l.6-.1M587.2 1347.7l.5-.1M588.6 1347.5l.3-.1M296.5 1199.7l7.1 4.9 28.4 27.2 21.2 19.6 21.3 18.7 14.1 11.7 14.2 11.1 7.1 5.2 14.2 9.8 14.1 9 14.2 7.9 14.2 7 7.1 3.1 7 2.8 7.1 2.6 7.1 2.3 7.1 2 7.1 1.7 7.1 1.5 7 1.2 7.1 .9 7.1 .7 7.1 .4 7.1 .1 7.1-.1 7.1-.4 8.2-.8M574.6 1349.7l1.5-.2M576.7 1349.5l.9-.1M578.4 1349.2l.6 0M300.6 1198.8l7.1 5.1 28.3 27.1 21.3 19.7 21.3 18.7 14.1 11.8 14.2 11 14.2 10.3 14.1 9.4 14.2 8.4 14.2 7.5 14.1 6.5 7.1 2.9 7.1 2.5 7.1 2.3 7.1 2.1 7.1 1.7 7 1.5 7.1 1.2 7.1 1 7.1 .6 7.1 .4 7.1 .2 12.1-.4M568.9 1350.2l1.8-.1M572.2 1350l1.2-.1M575.1 1349.7l.3 0M304.7 1198.3l7.1 5.1 21.2 20.4 21.3 20 21.3 19.1 14.1 12 14.2 11.5 14.2 10.6 14.1 9.9 14.2 9 14.2 8 14.1 7 7.1 3.1 7.1 2.9 7.1 2.6 7.1 2.3 7.1 2 7 1.8 7.1 1.5 7.1 1.2 7.1 1 7.1 .7 13 .5M561.5 1350.5l4.7-.1M308.8 1198l7.1 5.1 21.2 20.5 21.3 20 21.2 19.1 14.2 12.1 14.2 11.4 14.1 10.7 14.2 9.9 14.2 9 14.1 8 14.2 7 7.1 3.2 7.1 2.8 7.1 2.6 7.1 2.4 7 2 7.1 1.8 7.1 1.5 7.1 1.2 7.1 1 7.1 .7 9.4 .5M312.9 1197.9l7.1 5.3 21.2 20.4 21.3 20 14.1 12.9 14.2 12.4 14.2 11.7 14.1 11.1 14.2 10.3 14.2 9.5 14.1 8.5 14.2 7.6 14.2 6.5 7.1 2.9 7 2.6 7.1 2.4 7.1 2 7.1 1.8 7.1 1.6 7.1 1.2 10.9 1.4M551.7 1350.1l1.2 .1M316.9 1198.1l7.1 5.4 21.3 20.4 21.2 20 14.2 12.9 14.2 12.4 14.1 11.8 14.2 11.1 14.2 10.3 7.1 4.8 14.1 9.1 14.2 8 14.2 7.1 7.1 3.2 7 2.9 7.1 2.6 7.1 2.3 7.1 2.1 7.1 1.8 7.1 1.6 6.2 1.1M543.4 1349.1l.8 .1M545.1 1349.3l1.2 .2M547.2 1349.6l.9 .1M549.6 1350l.2 0M321 1198.6l7.1 5.4 35.4 33.9 14.2 13.1 14.2 12.6 14.1 12.1 14.2 11.5 14.2 10.7 7.1 5.1 14.1 9.5 14.2 8.5 14.2 7.7 7.1 3.4 7 3.1 7.1 2.9 7.1 2.7 7.1 2.3 7.1 2.1 12.4 3M539.5 1348.3l.6 .2M540.9 1348.6l.6 .1M542.4 1348.9l.3 .1M543.9 1349.2l.3 0M325.1 1199.3l7.1 5.4 35.4 34 14.2 13.1 14.2 12.6 14.1 12.1 14.2 11.5 14.2 10.7 7 5.1 14.2 9.5 7.1 4.4 14.2 8.1 7 3.7 14.2 6.6 7.1 2.9 7.1 2.7 7.1 2.3 8.2 2.4M532.3 1346.6l1.4 .3M534.2 1347.1l1.5 .4M329.2 1200.2l7.1 5.5 35.4 34 14.2 13.1 14.1 12.6 21.3 18 14.2 11.1 7 5.3 14.2 9.9 7.1 4.7 14.2 8.6 7 3.9 14.2 7.1 7.1 3.2 7.1 2.9 7.1 2.7 7 2.4M528.1 1345.3l.3 .1M529 1345.6l.2 .1M529.8 1345.8l.3 .1M530.7 1346.1l.2 .1M531.5 1346.4l.3 0M333.3 1201.3l7.1 5.7 35.4 33.9 21.2 19.5 21.3 18.4 14.1 11.5 7.1 5.4 14.2 10.4 7.1 4.9 14.2 9 7 4.2 14.2 7.7 7.1 3.4 7.1 3.2 13.1 5.2M524.5 1344.1l.3 .1M525.4 1344.4l.3 .1M526.8 1344.9l.3 .1M529.1 1345.6l.3 .1M337.3 1202.7l7.1 5.7 35.5 33.9 21.2 19.5 21.3 18.4 14.1 11.5 14.2 10.8 7.1 5.1 14.1 9.5 7.1 4.4 14.2 8.2 7.1 3.7 7.1 3.4 7.3 3.3M515.3 1340.4l4.3 1.8M520.7 1342.6l.8 .4M522.6 1343.4l.3 .1M524.3 1344l.5 .2M525.4 1344.4l.2 .1M341.4 1204.3l7.1 5.8 35.4 33.9 21.3 19.5 21.2 18.4 14.2 11.4 14.2 10.8 7.1 5.1 14.1 9.6 14.2 8.6 7.1 3.9 14.4 7.3M512.3 1338.9l1.6 .7M514.4 1339.9l3 1.3M518 1341.5l.3 .1M345.5 1206.1l7.1 5.8 35.4 33.9 21.3 19.5 21.2 18.4 14.2 11.5 14.2 10.8 7 5 14.2 9.6 14.2 8.6 7.1 4 12.3 6.3M349.6 1208l7.1 5.9 28.3 27.3 21.3 19.7 21.2 18.8 14.2 11.8 14.1 11.2 7.1 5.3 14.2 9.9 14.2 9.2 14.4 8.3M506.8 1335.9l2.8 1.5M353.7 1210.2l7 5.9 28.4 27.3 21.2 19.7 14.2 12.7 14.2 12.1 14.1 11.5 7.1 5.5 14.2 10.3 14.2 9.6 13.1 8.1M502.4 1333.5l.8 .4M504.2 1334.5l.8 .4M507.7 1336.4l.8 .5M357.7 1212.5l7.1 6 28.4 27.2 21.2 19.8 14.2 12.6 14.2 12.1 14.1 11.5 14.2 10.8 14.2 10 13.4 8.6M499.2 1331.4l.7 .5M500.4 1332.2l.8 .4M502.2 1333.2l.3 .2M503.5 1334l.2 .1M505.5 1335.2l.3 .2M361.8 1215l7.1 6.1 21.3 20.4 21.2 20 14.2 12.8 14.2 12.4 14.1 11.8 14.2 11.2 14.2 10.4 11.4 7.8M494.2 1328.2l1.5 .9M496.2 1329.5l.2 .1M496.9 1329.9l.3 .2M498.2 1330.7l.3 .2M499 1331.2l.2 .2M365.9 1217.6l7.1 6.1 21.2 20.5 21.3 19.9 21.2 19.1 14.2 12.1 14.2 11.5 14.2 10.8 12.4 8.8M492.2 1326.7l.2 .2M492.9 1327.2l.3 .2M493.7 1327.7l.2 .2M494.4 1328.2l.2 .2M495.1 1328.7l.3 .2M495.9 1329.2l.2 .1M496.6 1329.7l1.5 .9M498.6 1331l.2 .1M499.3 1331.4l.2 .2M370 1220.3l7.1 6.2 21.2 20.5 21.3 19.9 21.2 19.1 14.2 12.1 14.2 11.5 7 5.4 12.8 9.4M489.5 1324.7l.2 .2M490.4 1325.4l.3 .2M491.2 1325.9l.2 .2M491.9 1326.4l.2 .2M492.6 1326.9l.3 .2M493.3 1327.4l.3 .2M494.1 1328l.2 .1M494.8 1328.5l.3 .1M495.5 1329l.3 .1M496.3 1329.5l.2 .1M497 1330l.3 .1M374.1 1223.2l7 6.3 35.5 33.7 21.2 19.4 14.2 12.4 14.2 11.8 7 5.6 12.8 9.7M486.5 1322.5l.4 .3M487.4 1323.2l.2 .2M488.1 1323.7l2.4 1.7M491 1325.7l.2 .2M491.7 1326.2l.2 .2M492.4 1326.7l.2 .2M493.3 1327.4l.3 .2M494 1327.9l.3 .2M378.1 1226.2l7.1 6.3 35.4 33.7 21.3 19.4 21.3 18.3 7 5.8 12.6 9.9M483.2 1319.9l.3 .2M483.9 1320.5l.5 .4M484.9 1321.2l2.6 1.9M488 1323.5l.4 .3M488.9 1324.2l.2 .2M489.6 1324.7l.5 .4M490.5 1325.4l.3 .2M382.2 1229.2l7.1 6.4 28.3 27.1 21.3 19.6 21.3 18.7 17.3 14.3M478 1315.7l2.7 2.2M481.4 1318.4l2.8 2.2M484.7 1321l.5 .3M485.7 1321.7l.4 .4M486.6 1322.4l1.7 1.3M386.3 1232.4l7.1 6.5 28.3 27 21.3 19.6 21.2 18.7 13.5 11.2M478.2 1315.7l2 1.7M480.7 1317.7l2 1.7M483.2 1319.7l.5 .4M484.1 1320.5l.5 .3M485 1321.2l.3 .2M485.7 1321.7l.3 .2M486.7 1322.5l.2 .2M487.6 1323.2l.2 .2M488.3 1323.7l.5 .4M390.4 1235.6l7.1 6.5 28.3 27 14.2 13.2 14.1 12.8 17.4 15M472 1310.4l2.3 2M474.7 1312.7l2.5 2.1M477.7 1315.2l2 1.7M480.2 1317.2l2 1.7M482.9 1319.5l.5 .3M483.8 1320.2l.5 .4M485.4 1321.5l.3 .2M486.4 1322.2l.4 .4M487.3 1322.9l.2 .2M394.5 1238.9l35.4 33.5 14.2 13.2 14.1 12.7 13.5 11.8M472.2 1310.4l4.3 3.7M477 1314.5l2.2 1.9M479.9 1316.9l.5 .4M480.8 1317.7l1.2 .9M482.7 1319.2l1.8 1.5M485.2 1321.2l.2 .2M486.1 1322l.2 .2M398.5 1242.2l42.5 40.2 14.2 12.9 17.1 15M472.7 1310.7l4.2 3.6M477.4 1314.7l1.4 1.1M479.2 1316.2l2.3 1.9M482.2 1318.7l.4 .4M483.1 1319.5l.9 .7M484.9 1321l.5 .4M485.8 1321.7l1 .8M487.7 1323.2l.2 .2M488.6 1324l.2 .2M402.6 1245.5l42.5 40.2 21.3 19.3 12.8 11.1M479.7 1316.5l1.3 1.1M481.7 1318.2l2.3 1.9M484.7 1320.7l.4 .4M485.6 1321.5l.9 .7M487.4 1323l.5 .4M488.3 1323.7l.5 .4M406.7 1248.9l21.3 20.3 21.2 19.9 14.2 12.9 18.4 16.1M482.4 1318.7l1.1 .9M484.2 1320.2l2.3 1.9M487.1 1322.7l1.4 1.1M145.6 1384.9l4.1-2.1 4.1-4.7 24.4-45 16.4-28.5 8.1-13.4 8.2-12.8 8.1-12.1 8.2-11.3 8.2-10.3 8.1-9.4 8.2-8.5 4.1-3.8 8.1-6.9 4.1-3 8.2-5.2 4-2.2 4.1-1.9 4.1-1.7 4.1-1.3 4-1.1 4.1-.9 4.1-.5 4.1-.3 4.1-.1 4 .2 4.1 .5 8.2 1.6 8.1 2.5 4.1 1.6 8.2 3.7 8.1 4.5 8.2 5.1 8.2 5.6 8.1 6 12.3 9.7 12.2 10M152.7 1387.5l4.1-2.2 4-4.6 24.5-44.7 16.3-28.2 8.2-13.3 8.2-12.7 8.1-11.9 8.2-11.2 8.1-10.2 8.2-9.3 8.2-8.2 4-3.8 8.2-6.7 4.1-2.9 8.1-5.1 4.1-2.1 4.1-1.9 4.1-1.6 4.1-1.2 4-1.1 4.1-.7 4.1-.5 4.1-.3 4.1 .1 4 .3 4.1 .5 8.2 1.7 8.1 2.7 4.1 1.7 8.2 3.8 8.1 4.6 8.2 5.2 8.1 5.8 8.2 6.1 12.2 9.9 12.3 10.2M159.8 1394.5l4-2.3 4.1-4.7 24.5-44.7 16.3-28.3 8.2-13.3 8.1-12.7 8.2-11.9 8.2-11.1 8.1-10.2 8.2-9.3 8.1-8.3 4.1-3.7 8.2-6.7 4.1-2.9 8.1-5.1 4.1-2.1 4.1-1.9 4.1-1.5 4-1.3 4.1-1 4.1-.8 4.1-.5 4.1-.2 4 0 4.1 .3 4.1 .5 8.2 1.8 8.1 2.7 4.1 1.6 8.2 3.9 8.1 4.6 8.2 5.2 8.1 5.7 8.2 6.2 12.2 9.8 12.3 10.1M166.9 1401.5l4-2.4 4.1-4.7 24.5-44.9 16.3-28.2 8.2-13.4 8.1-12.6 8.2-12 8.1-11.1 8.2-10.2 8.2-9.3 8.1-8.2 4.1-3.8 8.2-6.6 4-3 8.2-5 4.1-2.1 4.1-1.9 4-1.5 4.1-1.3 4.1-1 4.1-.8 4.1-.5 4-.2 4.1 .1 4.1 .2 4.1 .6 8.1 1.7 8.2 2.7 4.1 1.7 8.1 3.8 8.2 4.6 8.2 5.2 8.1 5.7 8.2 6.2 12.2 9.7 12.3 10.2M173.9 1408.4l4.1-2.4 4.1-4.8 24.5-44.9 16.3-28.3 8.2-13.4 8.1-12.6 8.2-12 8.1-11.1 8.2-10.2 8.1-9.3 8.2-8.2 4.1-3.7 8.1-6.7 4.1-2.9 8.2-5.1 4.1-2.1 4-1.8 4.1-1.6 4.1-1.2 4.1-1.1 4.1-.7 4-.5 4.1-.2 4.1 0 4.1 .3 4.1 .6 8.1 1.7 8.2 2.7 4.1 1.7 8.1 3.8 8.2 4.6 8.1 5.2 8.2 5.7 8.2 6.1 12.2 9.8 12.2 10.1M181 1415.3l4.1-2.5 4.1-4.9 24.5-45 16.3-28.3 8.1-13.3 8.2-12.7 8.2-11.9 8.1-11.2 8.2-10.2 8.1-9.2 8.2-8.3 4.1-3.7 8.1-6.6 4.1-3 8.2-5 4.1-2.1 4-1.8 4.1-1.6 4.1-1.2 4.1-1 4-.8 4.1-.4 4.1-.3 4.1 .1 4.1 .3 4 .5 8.2 1.8 8.2 2.7 4 1.6 8.2 3.9 8.2 4.5 8.1 5.2 8.2 5.7 8.1 6.1 12.3 9.7 12.2 10.1M188.1 1422.2l4.1-2.7 4.1-4.9 24.4-45.1 16.4-28.3 8.1-13.4 8.2-12.6 8.1-12 8.2-11.1 8.2-10.2 8.1-9.2 8.2-8.3 4.1-3.7 8.1-6.7 4.1-2.9 8.2-5 4-2.1 4.1-1.8 4.1-1.5 4.1-1.3 4.1-1 4-.7 4.1-.5 4.1-.2 4.1 .1 4.1 .2 4 .6 8.2 1.8 8.2 2.6 4 1.7 8.2 3.8 8.1 4.6 8.2 5.1 8.2 5.7 8.1 6.1 12.3 9.7 12.2 10.1M195.2 1428.9l4.1-2.7 4.1-5.1 24.4-45 16.3-28.4 8.2-13.4 8.2-12.7 8.1-11.9 8.2-11.1 8.1-10.2 8.2-9.3 8.2-8.2 4-3.7 8.2-6.6 4.1-2.9 8.1-5 4.1-2.1 4.1-1.8 4.1-1.6 4.1-1.2 4-1 4.1-.8 4.1-.4 4.1-.2 4.1 0 4 .3 4.1 .6 8.2 1.8 8.1 2.6 4.1 1.7 8.2 3.8 8.1 4.6 8.2 5.1 8.2 5.7 8.1 6.1 12.3 9.7 12.2 10M202.3 1435.5l4.1-2.8 4-5.1 24.5-45.1 16.3-28.4 8.2-13.4 8.1-12.7 12.3-17.6 8.1-10.7 8.2-9.7 8.2-8.7 4-4 8.2-7.1 4.1-3.2 8.1-5.6 4.1-2.3 4.1-2.1 4.1-1.8 4.1-1.5 4-1.3 4.1-1 4.1-.7 4.1-.4 4.1-.2 4 0 4.1 .3 8.2 1.4 8.1 2.2 8.2 3.1 8.2 3.8 8.1 4.6 8.2 5.1 8.1 5.7 8.2 6 12.2 9.7 12.3 10M209.4 1442l4-2.9 4.1-5.1 24.5-45.2 8.2-14.5 8.1-13.9 8.2-13.4 8.1-12.7 12.3-17.6 8.1-10.7 8.2-9.7 8.2-8.7 4-4 8.2-7.1 4.1-3.2 8.1-5.5 4.1-2.4 4.1-2.1 4.1-1.8 4-1.5 4.1-1.2 4.1-1 4.1-.7 4.1-.5 4-.2 4.1 .1 4.1 .3 8.2 1.3 8.1 2.3 8.2 3.1 8.1 3.8 8.2 4.5 8.2 5.2 8.1 5.6 8.2 6.1 12.2 9.6 12.3 10M216.4 1448.4l4.1-3 4.1-5.2 24.5-45.3 8.1-14.4 8.2-14 8.2-13.4 8.1-12.7 12.3-17.6 8.1-10.7 8.2-9.7 8.1-8.7 4.1-3.9 8.2-7.2 4.1-3.1 8.1-5.5 4.1-2.4 4.1-2.1 4.1-1.7 4-1.6 4.1-1.2 4.1-1 4.1-.7 4.1-.4 4-.2 4.1 .1 4.1 .3 8.2 1.3 8.1 2.2 8.2 3.1 8.1 3.9 8.2 4.5 8.1 5.1 8.2 5.7 8.2 6 12.2 9.6 12.2 10M223.5 1454.7l4.1-3.2 4.1-5.2 24.5-45.3 8.1-14.5 8.2-14 8.1-13.4 8.2-12.7 12.2-17.6 8.2-10.7 8.2-9.7 8.1-8.7 4.1-3.9 8.2-7.2 4-3.1 8.2-5.5 4.1-2.3 4.1-2.1 4-1.8 4.1-1.5 4.1-1.2 4.1-1 4.1-.7 4-.4 4.1-.2 4.1 .1 4.1 .3 8.1 1.3 8.2 2.3 4.1 1.4 8.1 3.5 8.2 4.2 8.2 4.8 8.1 5.4 8.2 5.9 8.1 6.2 14.3 11.4M479 1316l2 1.6M481.5 1318l3.1 2.6M230.6 1460.7l4.1-3.2 4.1-5.3 24.4-45.4 8.2-14.5 8.2-14 8.1-13.4 8.2-12.7 12.2-17.6 8.2-10.6 4.1-5 8.1-9.2 4.1-4.2 8.2-7.7 4-3.4 8.2-6 4.1-2.6 4.1-2.3 4-2.1 4.1-1.7 4.1-1.5 4.1-1.3 4.1-.9 4-.7 4.1-.5 4.1-.1 4.1 0 8.1 .9 8.2 1.8 4.1 1.3 8.1 3.1 8.2 3.8 8.2 4.5 8.1 5.1 8.2 5.7 8.1 6 12 9.4M479.9 1316.9l2.1 1.7M482.4 1319l1.6 1.2M484.9 1321l.5 .3M485.8 1321.7l.5 .4M487.4 1323l.5 .4M488.3 1323.7l.5 .4M237.7 1466.6l4.1-3.3 4.1-5.4 24.4-45.4 8.2-14.5 8.2-14 8.1-13.4 8.2-12.7 8.1-12 4.1-5.6 8.2-10.7 4-4.9 8.2-9.2 4.1-4.2 8.1-7.7 4.1-3.4 8.2-6 4.1-2.6 4-2.3 4.1-2 4.1-1.8 4.1-1.5 4.1-1.2 4-1 4.1-.6 4.1-.5 4.1-.1 4.1 0 4 .4 8.2 1.3 4.1 1.1 8.1 2.6 8.2 3.5 8.2 4.2 8.1 4.8 8.2 5.4 8.1 5.8 10 7.6M480.7 1317.7l1.6 1.2M482.9 1319.5l.5 .3M483.8 1320.2l.7 .5M485.4 1321.5l.3 .1M486.3 1322.2l.3 .2M244.8 1472.3l4.1-3.4 4-5.4 20.4-38.1 16.4-29 8.1-13.7 8.2-13.1 12.2-18.2 8.2-11.1 4.1-5.2 8.1-9.7 4.1-4.4 8.2-8.2 4-3.6 8.2-6.6 4.1-2.8 4.1-2.6 4-2.3 4.1-2.1 4.1-1.7 4.1-1.5 4-1.2 4.1-.9 4.1-.7 4.1-.4 4.1-.2 4 .1 8.2 .9 4.1 .8 8.1 2.3 8.2 3 8.2 3.9 8.1 4.5 8.2 5.1 8.1 5.6 9.8 7.3M483.4 1320l1.9 1.4M485.7 1321.7l.2 .2M486.6 1322.4l.2 .2M487.3 1323l.2 .2M251.9 1477.8l4-3.5 4.1-5.5 20.4-38.1 16.3-29 8.2-13.8 8.2-13 12.2-18.2 8.2-11.1 4-5.2 8.2-9.7 4.1-4.4 8.1-8.1 4.1-3.7 8.2-6.5 4.1-2.9 4-2.5 4.1-2.3 4.1-2.1 4.1-1.7 4.1-1.5 4-1.2 4.1-.9 4.1-.7 4.1-.4 4.1-.2 4 .1 8.2 .9 4.1 .9 8.1 2.2 8.2 3.1 8.1 3.9 4.1 2.2 8.2 4.8 8.1 5.3 8.2 5.9M484.9 1321.2l.5 .4M485.8 1321.9l2.4 1.8M490.5 1325.5l.3 .1M259 1483.1l4-3.7 4.1-5.5 20.4-38.1 16.3-29.1 8.2-13.7 8.1-13.1 12.3-18.2 8.1-11 4.1-5.2 8.2-9.7 4.1-4.4 8.1-8.1 4.1-3.7 8.2-6.5 8.1-5.4 4.1-2.3 4.1-2 4.1-1.7 4-1.5 4.1-1.2 4.1-.9 4.1-.7 4.1-.4 4-.1 4.1 .1 4.1 .3 4.1 .6 8.1 1.9 8.2 2.7 8.2 3.5 4 2 8.2 4.5 8.2 5.1 8.4 5.8M488.1 1323.7l3.2 2.3M266 1488.1l4.1-3.7 4.1-5.6 16.3-30.6 16.3-29.5 8.2-14 8.2-13.5 12.2-18.7 8.1-11.5 4.1-5.5 8.2-10.1 4.1-4.7 8.1-8.6 4.1-3.9 8.2-7 4-3.1 8.2-5.4 4.1-2.3 4.1-2 4-1.7 4.1-1.5 4.1-1.2 4.1-.9 4.1-.6 4-.4 4.1-.2 4.1 .1 4.1 .4 8.1 1.4 8.2 2.3 8.2 3.1 4 1.8 8.2 4.2 8.2 4.9 8.4 5.5M491.1 1325.9l.3 .2M491.9 1326.4l.2 .2M492.6 1326.9l.2 .2M493.3 1327.4l.2 .2M494 1327.9l.3 .2M273.1 1492.9l4.1-3.8 4.1-5.6 16.3-30.7 16.3-29.5 8.2-14 8.1-13.4 12.3-18.8 8.1-11.5 4.1-5.4 8.2-10.1 4.1-4.7 8.1-8.6 4.1-3.9 8.2-7 4-3.1 8.2-5.4 4.1-2.2 4-2 4.1-1.8 4.1-1.4 4.1-1.2 4.1-.9 4-.6 4.1-.4 4.1-.1 4.1 .1 4.1 .3 8.1 1.5 4.1 1 8.2 2.7 4 1.7 8.2 3.8 8.2 4.6 7.9 4.9M493.7 1327.7l.2 .2M494.4 1328.2l.2 .2M495.1 1328.7l.2 .2M495.8 1329.2l.3 .1M496.5 1329.7l.8 .4M280.2 1497.5l4.1-3.9 4.1-5.7 16.3-30.7 16.3-29.5 8.2-14 8.1-13.5 12.3-18.7 8.1-11.5 4.1-5.4 8.2-10.1 4-4.7 8.2-8.6 4.1-3.9 8.1-6.9 8.2-5.9 4.1-2.6 4.1-2.2 4-2 4.1-1.7 4.1-1.4 4.1-1.2 4.1-.9 4-.6 4.1-.4 4.1-.1 4.1 .1 8.1 1 4.1 .8 8.2 2.3 4 1.5 8.2 3.5 8.2 4.2 8.1 4.8M496.9 1329.9l.7 .5M498.1 1330.7l.2 .2M498.8 1331.2l.7 .4M500 1331.9l.3 .2M287.3 1501.8l4.1-4 4-5.7 16.4-30.7 16.3-29.6 8.1-14 8.2-13.4 12.2-18.8 8.2-11.4 4.1-5.4 8.1-10.1 4.1-4.7 8.2-8.5 4.1-3.9 8.1-7 8.2-5.9 4.1-2.5 4-2.2 4.1-2 4.1-1.7 4.1-1.4 4.1-1.2 4-.8 4.1-.7 4.1-.3 4.1-.1 4.1 .1 4 .4 4.1 .6 8.2 1.9 4.1 1.2 8.1 3.2 8.2 3.9 8.6 4.8M500.5 1332.2l.2 .2M294.4 1505.9l4.1-4.1 4-5.8 16.3-30.7 16.4-29.6 12.2-20.8 12.2-19.3 8.2-11.9 4.1-5.6 8.1-10.6 4.1-4.9 8.2-9 4.1-4.2 8.1-7.5 8.2-6.4 4.1-2.7 4-2.5 4.1-2.3 4.1-1.9 4.1-1.7 4.1-1.4 4-1.2 4.1-.8 4.1-.7 4.1-.3 4.1-.1 4 .1 4.1 .4 4.1 .6 8.2 2 4 1.2 8.2 3.2 8.2 3.9 4.3 2.3M504.2 1334.5l.3 .1M505.5 1335.2l.3 .2M301.5 1509.7l4-4.2 4.1-5.8 16.3-30.8 16.4-29.5 12.2-20.9 12.2-19.3 8.2-11.8 4.1-5.7 8.1-10.5 4.1-4.9 8.2-9 4-4.2 8.2-7.4 8.2-6.4 4-2.8 8.2-4.7 4.1-1.9 4.1-1.7 4-1.4 4.1-1.1 4.1-.9 4.1-.6 4.1-.3 4-.1 4.1 .1 4.1 .4 8.2 1.5 4 1.1 8.2 2.8 8.2 3.5 4.3 2.2M507.7 1336.5l1.6 .8M308.5 1513.3l4.1-4.3 4.1-5.9 16.3-30.8 16.3-29.6 12.3-20.8 12.2-19.3 8.2-11.9 4.1-5.6 8.1-10.5 4.1-4.9 8.2-9 4-4.1 8.2-7.4 8.2-6.4 4-2.7 8.2-4.7 4.1-2 4-1.6 4.1-1.4 4.1-1.1 4.1-.9 4.1-.6 4-.3 4.1-.1 4.1 .2 8.2 1.1 4 .8 8.2 2.4 8.2 3.2 5.1 2.3M511 1338.2l1.3 .6M315.6 1516.5l4.1-4.3 4.1-6 16.3-30.8 16.3-29.5 12.3-20.9 12.2-19.3 8.2-11.8 4-5.6 8.2-10.5 8.2-9.5 4-4.4 8.2-7.9 8.2-6.9 4-3 8.2-5.3 4.1-2.1 4.1-2 4-1.6 4.1-1.4 4.1-1.1 4.1-.8 4.1-.6 4-.3 4.1-.1 8.2 .6 4.1 .7 8.1 1.9 8.2 2.8 4.3 1.8M512.3 1338.9l1.6 .7M515 1340.1l.3 .2M322.7 1519.5l4.1-4.4 4.1-6 16.3-30.8 16.3-29.6 12.2-20.8 12.3-19.3 8.1-11.9 4.1-5.5 8.2-10.5 8.1-9.5 4.1-4.4 8.2-7.9 8.1-6.8 4.1-3.1 8.2-5.1 4.1-2.2 4-1.9 4.1-1.6 4.1-1.4 4.1-1.1 4.1-.8 4-.6 4.1-.3 4.1 0 4.1 .1 4.1 .5 8.1 1.5 8.2 2.4 4.3 1.6M515.3 1340.4l3 1.2M329.8 1522.2l4.1-4.5 4.1-6 16.3-30.9 12.2-22.3 12.3-21.3 12.2-19.8 12.2-18.1 8.2-10.9 8.1-10 4.1-4.6 8.2-8.4 8.1-7.4 4.1-3.2 8.2-5.8 4.1-2.4 4-2.2 4.1-1.8 4.1-1.7 4.1-1.3 4.1-1.1 4-.8 4.1-.5 4.1-.3 4.1-.1 4.1 .2 4 .5 8.2 1.5 4.1 1.1 7.9 2.8M336.9 1524.7l4.1-4.6 4-6.1 16.4-30.9 12.2-22.3 12.2-21.3 12.3-19.8 12.2-18 8.2-11 8.1-9.9 4.1-4.6 8.2-8.4 8.1-7.4 4.1-3.2 8.2-5.7 4-2.4 4.1-2.2 4.1-1.8 4.1-1.6 4.1-1.4 4-1 4.1-.8 4.1-.6 4.1-.2 4.1-.1 4 .2 8.2 1.2 8.2 2 4.3 1.4M344 1526.9l4-4.8 4.1-6.1 16.3-30.9 12.3-22.3 12.2-21.3 12.3-19.8 8.1-12.2 4.1-5.8 8.2-10.9 8.1-9.9 4.1-4.6 8.2-8.4 8.1-7.3 4.1-3.2 8.2-5.7 4-2.4 4.1-2.2 4.1-1.8 4.1-1.6 4.1-1.3 4-1.1 4.1-.7 4.1-.6 4.1-.2 4.1 0 8.1 .6 4.1 .7 8.1 2.1M528.1 1345.3l.3 .1M528.9 1345.6l.3 .1M530.5 1346.1l.3 .1M351 1528.7l4.1-4.8 4.1-6.2 16.3-30.8 12.3-22.4 12.2-21.2 12.2-19.8 8.2-12.2 4.1-5.8 8.1-10.9 8.2-9.9 8.2-8.9 8.1-7.8 4.1-3.5 8.2-6.2 8.1-5.1 4.1-2.1 4.1-1.9 4.1-1.5 4-1.3 4.1-1.1 4.1-.7 4.1-.5 4.1-.3 4 0 8.2 .7 4.1 .7 5.1 1.2M532.2 1346.6l1.3 .4M534.1 1347.1l.3 .1M358.1 1530.3l4.1-4.9 4.1-6.2 16.3-30.9 12.2-22.3 12.3-21.3 12.2-19.8 8.2-12.2 4.1-5.7 8.1-10.9 8.2-9.9 8.1-8.8 8.2-7.8 4.1-3.5 8.1-6.2 8.2-5 4.1-2.1 4.1-1.9 4-1.5 4.1-1.3 4.1-1 4.1-.8 4.1-.5 4-.2 4.1 0 4.1 .2 4.1 .5 7.8 1.6M365.2 1531.7l4.1-5 4.1-6.3 16.3-30.9 12.2-22.4 12.3-21.2 12.2-19.8 8.2-12.1 4-5.8 8.2-10.9 8.2-9.8 8.1-8.9 8.2-7.7 4.1-3.5 8.1-6.1 8.2-5 4.1-2.1 4-1.9 4.1-1.5 4.1-1.3 4.1-1 4.1-.7 4-.5 4.1-.2 4.1 0 4.1 .3 7.9 1.1M372.3 1532.7l4.1-5 4.1-6.4 16.3-30.9 12.2-22.4 12.3-21.2 8.1-13.3 12.3-18.6 8.1-11.3 8.2-10.3 8.1-9.4 8.2-8.3 4.1-3.7 8.1-6.6 8.2-5.6 4.1-2.3 4-2.1 4.1-1.8 4.1-1.5 4.1-1.3 4.1-1 4-.7 4.1-.5 4.1-.2 4.1 0 4.1 .3 4.6 .6M545.1 1349.4l.6 .1M379.4 1533.5l4.1-5.1 4-6.4 16.4-31 12.2-22.3 12.2-21.2 8.2-13.4 12.2-18.5 8.2-11.3 8.2-10.3 8.1-9.3 8.2-8.3 4.1-3.7 8.1-6.6 8.2-5.6 4.1-2.3 4-2.1 4.1-1.7 4.1-1.6 4.1-1.2 4.1-1 4-.7 4.1-.4 4.1-.2 4.1 0 5.2 .4M548.4 1349.8l1.2 .2M386.5 1534.1l4-5.3 4.1-6.5 16.3-30.9 12.3-22.3 12.2-21.3 8.2-13.3 12.2-18.5 8.2-11.3 8.1-10.3 8.2-9.3 8.2-8.2 4-3.7 8.2-6.6 8.2-5.5 4-2.3 4.1-2.1 4.1-1.7 4.1-1.5 4.1-1.3 4-.9 4.1-.7 4.1-.5 4.1-.1 7.3 .2M393.6 1534.3l4-5.3 4.1-6.5 16.3-31 12.3-22.3 12.2-21.2 8.2-13.4 8.1-12.5 8.2-11.7 8.1-10.8 8.2-9.8 8.2-8.7 4-4 8.2-7.1 8.2-6 8.1-4.9 4.1-2.1 4.1-1.7 4.1-1.5 4-1.2 4.1-.9 4.1-.7 4.1-.5 7.8-.1M400.6 1534.3l4.1-5.4 4.1-6.6 12.2-23.3 12.3-22.6 12.2-21.7 8.2-13.6 12.2-19.1 8.2-11.7 8.1-10.8 8.2-9.8 8.2-8.7 8.1-7.6 8.2-6.6 8.1-5.4 4.1-2.3 4.1-2 4.1-1.7 4-1.5 4.1-1.2 4.1-.9 4.1-.7 4.1-.4 3.8-.2M407.7 1534.1l4.1-5.5 4.1-6.6 12.2-23.4 12.3-22.6 12.2-21.7 8.2-13.6 12.2-19.1 8.2-11.7 8.1-10.7 8.2-9.8 8.1-8.7 8.2-7.6 8.2-6.5 8.1-5.4 4.1-2.3 4.1-2 4.1-1.7 4-1.5 4.1-1.2 4.1-.9 4.1-.6 4.1-.4 3.7-.2M414.8 1533.6l4.1-5.6 4.1-6.7 12.2-23.3 12.2-22.7 12.3-21.6 8.1-13.7 8.2-12.9 8.2-12.1 8.1-11.2 8.2-10.2 8.1-9.2 8.2-8.2 8.2-7 8.1-5.9 4.1-2.6 4.1-2.3 4.1-1.9 4-1.8 4.1-1.4 4.1-1.2 4.1-.9 4.1-.6 3.7-.4M421.9 1532.9l4.1-5.7 4-6.7 12.3-23.4 12.2-22.7 12.3-21.6 8.1-13.6 8.2-13 8.1-12.1 8.2-11.1 8.2-10.3 8.1-9.1 8.2-8.2 8.1-7 8.2-5.9 4.1-2.5 4.1-2.3 4-1.9 4.1-1.7 4.1-1.5 4.1-1.1 4.1-.9 5.2-.8M575.2 1349.7l.8-.1M429 1531.9l4.1-5.8 4-6.7 12.3-23.4 12.2-22.7 12.3-21.6 8.1-13.7 8.2-12.9 8.1-12.1 8.2-11.1 8.1-10.2 8.2-9.2 8.2-8.1 8.1-7 8.2-5.9 4.1-2.5 4-2.2 4.1-2 4.1-1.7 4.1-1.4 4.1-1.1 4-.9 3.8-.6M436.1 1530.8l4-5.9 4.1-6.8 12.3-23.4 12.2-22.7 8.2-14.6 8.1-14 8.2-13.3 8.1-12.5 8.2-11.6 8.2-10.7 8.1-9.6 8.2-8.7 8.1-7.5 8.2-6.4 8.1-5.3 4.1-2.2 4.1-2 4.1-1.7 4.1-1.4 4-1.1 3.8-.8M443.1 1529.4l4.1-6 4.1-6.9 12.2-23.3 12.3-22.8 8.1-14.5 8.2-14 8.2-13.3 8.1-12.5 8.2-11.6 8.1-10.7 8.2-9.7 8.2-8.6 8.1-7.5 8.2-6.4 8.1-5.2 4.1-2.2 4.1-2 4.1-1.6 4.1-1.4 4-1.2 3.8-.8M450.2 1527.8l4.1-6.1 4.1-6.9 12.2-23.4 12.3-22.7 8.1-14.6 8.2-14 8.1-13.3 8.2-12.5 8.2-11.6 8.1-10.6 8.2-9.7 8.1-8.6 8.2-7.5 4.1-3.3 8.1-5.8 4.1-2.5 4.1-2.2 4.1-1.9 4.1-1.7 4-1.3 3.8-1.1M457.3 1526l4.1-6.1 4.1-7 12.2-23.4 12.3-22.8 8.1-14.6 8.2-14 8.1-13.3 8.2-12.5 8.1-11.6 4.1-5.4 8.2-10.1 8.1-9.2 8.2-8 8.2-6.9 8.1-5.8 4.1-2.5 4.1-2.2 4.1-1.9 4-1.6 7.4-2.3M464.4 1524.1l4.1-6.3 4.1-7 12.2-23.5 12.2-22.8 8.2-14.6 8.2-13.9 8.1-13.3 8.2-12.5 8.1-11.6 4.1-5.5 8.2-10.1 8.1-9.1 8.2-8 8.1-6.9 4.1-3 8.2-5.2 4.1-2.2 4-1.9 4.1-1.7 3.8-1.2M471.5 1521.9l4.1-6.3 4-7.1 12.3-23.5 12.2-22.8 8.2-14.6 8.1-14 8.2-13.3 8.2-12.5 8.1-11.6 4.1-5.4 8.2-10.1 8.1-9.1 8.2-8 8.1-6.9 4.1-3 8.2-5.2 4.1-2.2 4-1.9 4.1-1.6 3.8-1.3M478.6 1519.6l4-6.5 4.1-7.1 20.4-38.8 8.2-14.9 8.1-14.3 8.2-13.7 8.2-12.9 8.1-12 4.1-5.7 8.2-10.6 8.1-9.6 8.2-8.6 8.1-7.4 8.2-6.3 4.1-2.7 4.1-2.5 4-2.1 4.1-1.9 3.8-1.5M485.6 1517.1l4.1-6.5 4.1-7.2 20.4-38.9 8.2-14.9 8.1-14.3 8.2-13.7 8.1-12.9 8.2-12 4.1-5.7 8.1-10.6 8.2-9.6 8.2-8.5 8.1-7.5 8.2-6.2 4.1-2.8 4-2.4 4.1-2.2 4.1-1.8 3.8-1.5M492.7 1514.5l4.1-6.7 4.1-7.2 20.4-38.9 8.2-14.9 8.1-14.4 8.2-13.6 8.1-13 8.2-12 4.1-5.7 8.1-10.6 8.2-9.6 8.1-8.5 4.1-3.8 8.2-6.9 4.1-3 8.1-5.1 4.1-2.2 3.8-1.7M499.8 1511.7l4.1-6.7 4.1-7.3 20.4-39 8.1-14.9 8.2-14.4 8.2-13.7 8.1-12.9 8.2-12 4.1-5.7 8.1-10.6 8.2-9.6 8.1-8.5 4.1-3.8 8.2-6.9 4.1-3 8.1-5.1 4.1-2.1 3.8-1.8M506.9 1508.8l4.1-6.8 4.1-7.4 20.4-39 8.1-14.9 8.2-14.4 8.1-13.7 8.2-12.9 8.2-12.1 4-5.7 8.2-10.6 8.2-9.6 8.1-8.5 4.1-3.8 8.2-6.8 4-3 8.2-5.1 4.1-2.2 3.8-1.7M514 1505.8l8.1-14.4 16.4-31.4 8.1-15.2 8.2-14.7 8.1-14 8.2-13.4 8.2-12.5 4-5.9 8.2-11.1 8.2-10.1 8.1-9 4.1-4.2 8.2-7.3 4-3.3 8.2-5.7 7.9-4.4M521.1 1502.7l8.1-14.5 16.4-31.5 8.1-15.2 8.2-14.8 8.1-14 8.2-13.4 8.1-12.5 4.1-5.9 8.2-11.1 8.1-10.1 8.2-9.1 4.1-4.1 8.1-7.3 4.1-3.3 8.2-5.7 7.9-4.4M528.2 1499.5l8.1-14.7 20.4-39.2 12.3-22.3 8.1-14.1 8.2-13.4 8.1-12.5 4.1-6 8.2-11.1 8.1-10.1 8.2-9 4.1-4.1 8.1-7.4 4.1-3.2 8.2-5.7 7.9-4.4M535.2 1496.1l8.2-14.8 20.4-39.3 12.2-22.3 8.2-14.2 8.2-13.3 8.1-12.6 4.1-5.9 8.2-11.1 8.1-10.1 8.2-9 4.1-4.1 8.1-7.4 4.1-3.3 8.2-5.6 7.9-4.4M542.3 1492.7l8.2-15 20.4-39.4 12.2-22.3 8.2-14.1 8.1-13.4 8.2-12.6 4.1-5.9 8.1-11.2 8.2-10.1 8.2-9 4-4.1 8.2-7.3 4.1-3.3 4.1-3 7.9-4.9M549.4 1489.2l8.2-15.2 20.4-39.4 12.2-22.4 8.2-14.1 8.1-13.4 8.2-12.6 4.1-5.9 8.1-11.2 8.2-10.1 8.1-9 4.1-4.1 8.2-7.4 4.1-3.2 4-3 7.9-4.9M556.5 1485.7l8.2-15.4 20.4-39.5 12.2-22.4 8.1-14.2 8.2-13.4 8.2-12.6 4-5.9 8.2-11.2 8.2-10.1 8.1-9 4.1-4.1 8.2-7.4 4-3.2 4.1-3 7.9-4.9M563.6 1482.1l24.5-47.4 8.1-15.3 8.2-14.9 8.1-14.2 8.2-13.4 8.2-12.6 4-6 8.2-11.1 8.2-10.1 8.1-9.1 4.1-4.1 8.1-7.3 4.1-3.3 4.1-2.9 7.9-5M570.7 1478.4l24.4-47.6 8.2-15.4 8.2-14.8 8.1-14.2 8.2-13.5 8.1-12.6 4.1-6 8.2-11.1 8.1-10.2 8.2-9 4.1-4.1 8.1-7.3 4.1-3.3 4.1-3 7.9-4.9M577.7 1474.7l24.5-47.8 8.2-15.4 8.1-14.9 8.2-14.2 8.2-13.5 8.1-12.6 4.1-6 8.2-11.2 8.1-10.1 8.2-9.1 4.1-4.1 8.1-7.3 4.1-3.3 4.1-2.9 7.9-4.9M584.8 1471l24.5-48 8.2-15.5 8.1-14.9 8.2-14.3 8.1-13.5 8.2-12.6 4.1-6 8.1-11.2 8.2-10.1 8.2-9.1 4-4.1 8.2-7.3 4.1-3.3 4.1-2.9 7.9-4.9M591.9 1467.2l24.5-48.2 8.2-15.5 8.1-14.9 8.2-14.3 8.1-13.5 8.2-12.7 4.1-6 8.1-11.2 8.2-10.1 8.1-9.1 4.1-4.1 8.2-7.3 4.1-3.3 4-2.9 8-4.9M599 1463.5l24.5-48.5 8.1-15.5 8.2-15 8.2-14.3 8.1-13.5 8.2-12.7 4.1-6 8.1-11.2 8.2-10.1 8.1-9.1 4.1-4.1 8.2-7.4 4.1-3.2 4-3 7.9-4.9"/>
<path fill="none" stroke="#009e73" stroke-width="1.0" d="M715.1 1288.8l10.4-6M710.1 1292.3l19.5-11.3M706.6 1295.1l27-15.7M702.3 1298.5l35.4-20.4M699 1301.6l21.5-12.1 21.3-12.4M695.5 1305l22-12.2 28.4-16.4M692.5 1308.3l22-12 35.4-20.4M689.2 1311.9l15.2-8.1 14.2-7.8 35.4-20.4M686 1315.5l15.4-7.9 14.2-7.7 21.3-11.9 21.2-12.4M682.7 1319.3l15.7-7.8 21.3-11.3 21.2-12 21.3-12.3M679.3 1323.3l16.1-7.7 21.3-11.1 21.2-11.8 28.4-16.4M676.3 1327.1l16.1-7.4 21.3-10.7 21.2-11.6 35.4-20.4M673.6 1330.9l8.7-3.7 14.2-6.6 21.3-10.7 21.2-11.7 35.4-20.3M670.9 1334.7l8.4-3.4 14.2-6.3 21.2-10.4 14.2-7.4 14.2-7.9 35.4-20.4M668.1 1338.6l8.2-3.1 14.2-6 14.2-6.5 14.1-7.1 14.2-7.5 14.2-7.8 35.4-20.4M665.4 1342.5l7.9-2.8 14.2-5.6 14.2-6.3 14.1-6.8 14.2-7.3 14.2-7.7 21.2-12 21.3-12.4M662.9 1346.3l14.5-5 14.2-5.6 14.1-6.2 14.2-6.9 14.2-7.3 14.1-7.6 21.3-12.1 21.2-12.4M660.5 1350.1l13.9-4.4 14.2-5.2 14.1-6 14.2-6.5 14.2-7.1 21.2-11.4 21.3-12.1 21.2-12.4M658.1 1353.9l13.3-3.9 14.2-4.8 14.1-5.6 7.1-3.1 14.2-6.6 14.1-7.1 21.3-11.4 21.3-12 21.2-12.5M655.9 1357.6l12.5-3.3 14.2-4.5 14.1-5.2 7.1-2.9 14.2-6.3 14.1-6.8 21.3-11.2 21.2-11.9 28.4-16.5M653.5 1361.3l11.9-2.7 7.1-2 14.1-4.5 14.2-5.2 7.1-2.9 14.2-6.3 14.1-6.8 21.3-11.2 21.2-11.9 28.4-16.6M651.5 1364.9l10.9-2.2 7.1-1.7 14.1-4.1 14.2-4.9 7.1-2.7 14.1-6 7.1-3.2 14.2-6.8 21.3-11.2 21.2-12 28.3-16.6M649.3 1368.4l10.1-1.7 7.1-1.4 7-1.8 14.2-4 14.2-4.9 7.1-2.8 14.1-5.9 7.1-3.3 14.2-6.8 21.2-11.2 21.3-12 28.3-16.6M647.2 1371.9l9.2-1.2 7-1.3 7.1-1.5 14.2-3.6 14.2-4.5 7.1-2.6 14.1-5.6 7.1-3.1 14.2-6.6 21.2-10.9 21.3-11.8 35.4-20.7M645.1 1375.3l8.3-.8 7-1.1 7.1-1.2 14.2-3.2 7.1-1.9 14.1-4.5 7.1-2.6 14.2-5.6 7.1-3.1 14.2-6.6 21.2-11 21.3-11.8 35.4-20.8M643.3 1378.6l7.1-.5 7-.8 7.1-1 14.2-2.7 7.1-1.7 14.1-4.1 7.1-2.4 14.2-5.3 7.1-2.9 14.1-6.3 21.3-10.6 14.2-7.6 14.1-8 35.5-20.8M641.7 1381.8l12.7-.7 7.1-.8 7.1-1 14.2-2.8 7.1-1.7 14.1-4.1 7.1-2.3 14.2-5.3 7.1-3 14.1-6.3 21.3-10.6 14.2-7.6 14.1-8.1 35.4-20.9M639.9 1384.8l11.5-.2 7.1-.5 7.1-.8 7.1-1 7.1-1.2 7-1.5 14.2-3.7 7.1-2.1 14.2-5 7.1-2.7 14.1-6.1 14.2-6.6 14.2-7.2 14.1-7.7 14.2-8 35.4-21M638.1 1387.8l10.3 .2 7.1-.3 7.1-.5 7.1-.8 7.1-1 7-1.2 7.1-1.5 14.2-3.7 7.1-2.2 14.2-4.9 7-2.8 14.2-6 14.2-6.7 14.1-7.2 14.2-7.7 14.2-8.1 35.4-21M636.6 1390.7l8.8 .4 7.1 0 7.1-.2 7.1-.5 7.1-.8 7-1 7.1-1.3 14.2-3.2 7.1-1.9 14.1-4.6 7.1-2.6 14.2-5.7 14.2-6.4 14.1-7 14.2-7.5 14.2-7.9 21.2-12.4 21.3-12.7M635 1393.5l7.4 .5 7.1 .3 7.1 0 7.1-.2 7.1-.5 7-.8 7.1-1 14.2-2.8 14.2-3.7 14.1-4.5 7.1-2.6 14.2-5.7 14.1-6.4 14.2-7 14.2-7.6 14.2-7.9 21.2-12.4 21.3-12.8M633.5 1396.1l5.9 .6 7.1 .6 7.1 .3 7.1 0 7-.3 7.1-.5 7.1-.8 7.1-1 14.2-2.7 14.1-3.7 14.2-4.6 7.1-2.6 14.2-5.7 14.1-6.5 14.2-7 14.2-7.5 14.1-8 21.3-12.5 21.2-12.8M632.3 1398.5l11.2 1.5 7.1 .6 7.1 .2 7 0 7.1-.2 7.1-.5 7.1-.8 7.1-1 7.1-1.3 14.1-3.2 14.2-4.2 14.2-5 14.1-5.7 14.2-6.5 14.2-7 14.1-7.6 14.2-8 21.3-12.5 21.2-12.9M631.1 1400.9l9.4 1.6 7.1 .8 7.1 .5 7 .3 7.1 0 7.1-.2 7.1-.5 7.1-.8 7.1-1 7-1.3 14.2-3.3 14.2-4.1 14.2-5 14.1-5.8 14.2-6.5 14.2-7 14.1-7.6 14.2-8 21.2-12.6 21.3-12.9M633.5 1396.8l7 5.7M635.1 1393.3l12.5 10M637.2 1390l17.5 13.8M639.1 1386.2l22.6 17.9M641.2 1382.5l11.3 8.6 16.3 13M643.3 1378.6l12.2 9.1 20.4 16.2M645.6 1374.7l8.8 6.4 8.2 6.1 20.4 16.2M647.8 1370.7l9.6 6.6 8.2 6 24.5 19.3M650.4 1366.8l10 6.6 8.2 5.9 12.2 9.3 16.4 13M652.7 1362.7l10.7 6.7 12.3 8.6 12.2 9.3 16.3 13M655.2 1358.6l11.3 6.7 12.2 8.3 12.2 9.1 20.4 16.1M658 1354.5l11.5 6.5 12.2 8 8.2 5.8 8.1 6.2 20.4 16M660.5 1350.3l3.8 1.9 8.2 4.4 8.1 5 8.2 5.5 16.3 11.9 20.4 16.1M663.2 1346.2l4.1 1.9 8.2 4.1 8.1 4.7 8.2 5.2 8.1 5.7 8.2 6 24.5 19.1M666 1342.1l8.4 3.6 8.2 4.1 8.1 4.8 8.2 5.2 8.1 5.6 8.2 6 24.5 19.1M668.7 1338l8.7 3.3 8.2 3.9 8.1 4.4 8.2 5 8.1 5.4 12.3 8.8 24.5 19.1M671.7 1334.1l8.7 2.9 8.2 3.5 8.1 4.1 8.2 4.7 8.1 5.2 12.3 8.6 12.2 9.2 16.3 12.8M674.4 1330l4.9 1.3 4.1 1.3 8.2 3.1 8.1 3.9 4.1 2.1 8.2 4.7 8.1 5.2 12.3 8.5 12.2 9.2 16.3 12.8M677.4 1326.1l4.9 1.1 4.1 1.1 8.2 2.7 8.1 3.5 4.1 2 8.2 4.4 12.2 7.6 12.2 8.5 12.3 9.2 16.3 12.7M680.1 1322.3l5.2 .8 4.1 .9 4.1 1 8.2 2.8 8.1 3.5 4.1 2 8.2 4.4 12.2 7.6 12.2 8.5 12.3 9.1 16.3 12.7M683.4 1318.6l4.9 .5 4.1 .6 4.1 .9 8.2 2.4 8.1 3.1 4.1 1.9 8.2 4.1 12.2 7.2 12.2 8.2 12.3 8.9 20.4 15.8M686.4 1314.9l4.9 .2 4.1 .5 4.1 .7 8.2 1.9 8.1 2.8 4.1 1.6 8.2 3.9 12.2 6.8 12.2 7.8 16.4 11.8 20.4 15.7M689.7 1311.4l4.6-.1 4.1 .2 4.1 .5 8.2 1.5 4 1.1 8.2 2.8 4.1 1.7 8.1 3.7 12.3 6.8 12.2 7.9 16.3 11.7 20.4 15.6M693 1307.9l4.4-.3 4 0 4.1 .2 8.2 1.2 4.1 .9 8.1 2.3 4.1 1.5 8.2 3.5 4 1.9 8.2 4.4 8.1 4.9 8.2 5.3 16.3 11.7 20.4 15.6M696 1304.6l4.4-.5 4-.3 4.1 0 4.1 .2 8.2 1.2 4 .9 8.2 2.3 4.1 1.5 8.1 3.5 4.1 1.9 8.2 4.4 8.1 4.9 8.2 5.3 16.3 11.6 20.4 15.5M699 1301.5l4.4-.8 4-.5 4.1-.2 4.1-.1 8.2 .7 4 .7 8.2 2 4.1 1.3 8.1 3.1 4.1 1.8 8.2 4 8.1 4.7 8.2 5 8.2 5.5 8.1 5.8 24.5 18.5M702.3 1298.5l4.1-1 4-.7 4.1-.5 4.1-.3 8.2 .2 4 .5 8.2 1.5 8.2 2.4 8.1 3.1 4.1 1.8 8.2 4.1 8.1 4.6 8.2 5 8.1 5.5 8.2 5.8 24.5 18.4M705.8 1295.6l7.7-2.1 4-.7 4.1-.5 4.1-.3 4.1 0 4 .2 8.2 1.2 8.2 1.9 8.1 2.8 8.2 3.4 8.1 4 8.2 4.6 8.2 5.1 8.1 5.4 8.2 5.8 24.5 18.3M709.4 1292.9l7.1-2.4 4-1 4.1-.8 4.1-.5 4.1-.2 4.1 0 4 .2 8.2 1.1 8.2 2 8.1 2.7 8.2 3.4 8.1 4 8.2 4.6 8.1 5 8.2 5.5 8.2 5.7 24.4 18.2M712.9 1290.3l6.6-2.6 4-1.3 4.1-1 4.1-.8 4.1-.5 4.1-.2 4 0 8.2 .6 8.2 1.6 8.1 2.3 8.2 3.1 8.1 3.7 8.2 4.3 8.2 4.8 8.1 5.2 12.3 8.5 24.4 18.1M716.6 1287.8l5.9-2.7 4-1.6 4.1-1.2 4.1-1 4.1-.8 4.1-.5 4-.2 4.1 0 8.2 .6 8.1 1.6 8.2 2.3 8.2 3.1 8.1 3.7 8.2 4.3 8.1 4.7 8.2 5.2 12.2 8.4 24.5 18.1M721.4 1284.9l4.1-2.1 4.1-1.8 4-1.6 4.1-1.3 4.1-1 4.1-.7 4-.5 4.1-.3 8.2 .3 8.1 1.1 8.2 1.9 8.2 2.7 8.1 3.4 8.2 4 8.1 4.5 8.2 5 12.2 8.1 12.3 8.8 16.3 12.1M648.3 1437.8l-4.1-6.1-1.7-3.1-1.3-3.1-1.1-3-.8-3-.4-2.9-.1-2.9 .2-2.7 .6-2.8 .9-2.6 1.3-2.7 1.7-2.5 2.1-2.5 2.4-2.4 2.9-2.3 3.3-2.3 3.7-2.2 8.5-4.1 10.2-3.9 11.7-3.7 13.1-3.4 7.1-1.6 15-3 24.5-4.3 26.6-3.9 28.5-3.6"/>
<path fill="none" stroke="#000000" stroke-width="0.9" d="M145.6 1384.9l453.4 78.6M599 1463.5l261.1-136M406.7 1248.9l289.9 50.3M859.5 1327.4l.6 .1M145.6 1384.9l4.7-2.5"/>
<path fill="none" stroke="#e69f00" stroke-width="1.0" d="M500 1265.1l7.1 5.3 8.2 5.5 8.8 5.3 9.4 5 10 4.6 10.8 4.2 5.7 1.9 11.9 3.6 12.9 3.2 6.7 1.4 7 1.3 14.7 2.2 15.5 1.7 16.3 1.4 17.1 .9 10 .3M495 1445.5l-4.1-3.6-5.2-3.7-8.4-4.8-14.4-7.2-10.2-4.5-5.4-2.1-5.5-2.1-11.5-3.8-12.3-3.5-13.1-3-13.8-2.6-7.3-1.1-15.1-2-16-1.5-16.9-1.1-26.6-.8-28.3 0-23.5 .5-9.7 1.2-6.1 1.7"/>
<path fill="none" stroke="#56b4e9" stroke-width="1.0" d="M406.7 1248.9l.6 .7M407.9 1250.2l.4 .5M408.7 1251.1l.6 .7M409.9 1252.5l.4 .4M410.9 1253.6l.4 .4M411.7 1254.5l.6 .7M412.9 1255.8l.4 .5M413.7 1256.7l.4 .5M414.8 1258.1l1.2 1.3M416.4 1259.9l1.4 1.5M418.3 1262.1l.5 .5M419.4 1263.2l.2 .3M419.9 1263.9l.4 .4M420.9 1265l.4 .4M421.6 1265.8l.7 .8M422.8 1267.2l1 1.1M424.1 1268.7l.2 .2M424.7 1269.4l.6 .6M425.6 1270.5l1.2 1.3M427.8 1273l.7 .9M429.1 1274.5l.9 1.1M430.3 1276l1 1.1M431.8 1277.8l1.8 2M434.1 1280.5l1 1.1M435.6 1282.2l.5 .6M436.4 1283.2l1.6 1.9M438.4 1285.5l1.6 2M440.4 1288l.9 1.1M441.6 1289.5l.9 1.1M443.3 1291.5l1.5 1.8M445.2 1293.7l.9 1.1M446.6 1295.5l.7 .8M447.6 1296.8l7.5 9M455.4 1306.2l4.4 5.4M460.2 1312l9.9 12.1 8.8 10.1 6.4 6.6 1.8 1.3 1.6 1.8 2.9 1.9 1.1 .9 4.7 2.5 5.9 1.8 7.6 1 8.7 .4 15.5-.4M535.6 1352l5.1-.2M541.2 1351.7l4.2-.1M546.9 1351.5l3.8-.2M551.9 1351.2l2.6-.1M556 1351l3.2-.2M561.3 1350.7l1.7-.1M564.8 1350.5l1.7-.1M569.1 1350.2l1.1 0M664.8 1343.7l93.2-7.3 102.1-8.9M599 1463.5l-20.9-17.8-11.7-10.5-11.3-10.5-17.5-17.2-25.7-26.5-9.8-9.6-2.2-1.5-1.5-1.6-3.5-2.2-.6-.5-4.9-2.4-6.3-1.6-7.7-.9-9-.3-9.8 .2-42 2.2-65.2 4.5-77.3 5.8-109.7 9-3.5 .8-9.2-.1"/>
<path d="M145.6 1384.9l7.0 -3.7" stroke="#000" stroke-width="0.9"/><path d="M145.6 1248.7V1521.4M145.6 1248.7h8.6M145.6 1316.9h8.6M145.6 1384.9h8.6M145.6 1453.0h8.6M145.6 1521.4h8.6" stroke="#222" stroke-width="1" fill="none"/>
<text x="127.3" y="1258.7" font-size="36.5" text-anchor="end" textLength="50.3" lengthAdjust="spacingAndGlyphs">100</text>
<text x="127.3" y="1326.9" font-size="36.5" text-anchor="end" textLength="34.2" lengthAdjust="spacingAndGlyphs">50</text>
<text x="127.3" y="1394.9" font-size="36.5" text-anchor="end" textLength="16.3" lengthAdjust="spacingAndGlyphs">0</text>
<text x="127.3" y="1463.0" font-size="36.5" text-anchor="end" >&#8722;50</text>
<text x="127.3" y="1531.4" font-size="36.5" text-anchor="end" >&#8722;100</text>
<text transform="translate(25.8 1385.9) rotate(-90)" font-size="34.5" text-anchor="middle" textLength="196.8" lengthAdjust="spacingAndGlyphs">Energy (meV)</text>
<text x="503" y="1111.5" font-size="36" text-anchor="middle">(c)</text>
<text x="300" y="1463.2" font-size="34.5"><tspan font-style="italic">k</tspan><tspan font-style="italic" font-size="24" dy="4.7">x</tspan></text>
<text x="813" y="1421.8" font-size="34.5"><tspan font-style="italic">k</tspan><tspan font-style="italic" font-size="24" dy="4.7">y</tspan></text>
<text x="580" y="1513.5" font-size="34.5" textLength="86.7" lengthAdjust="spacingAndGlyphs">(2<tspan font-style="italic">&#960;</tspan>, 0)</text>
<text x="883.3" y="1342.4" font-size="34.5" textLength="110" lengthAdjust="spacingAndGlyphs">(2<tspan font-style="italic">&#960;</tspan>, 2<tspan font-style="italic">&#960;</tspan>)</text>
<text x="832" y="1114.4" font-size="34.5" text-anchor="end" >50</text>
<path d="M851 1105.0H933.5" stroke="#009e73" stroke-width="0.9"/>
<text x="832" y="1145.1000000000001" font-size="34.5" text-anchor="end" >0</text>
<path d="M851 1135.75H933.5" stroke="#56b4e9" stroke-width="0.9"/>
<text x="832" y="1175.8000000000002" font-size="34.5" text-anchor="end" >-50</text>
<path d="M851 1166.5H933.5" stroke="#e69f00" stroke-width="0.9"/>
</svg></body></html>
